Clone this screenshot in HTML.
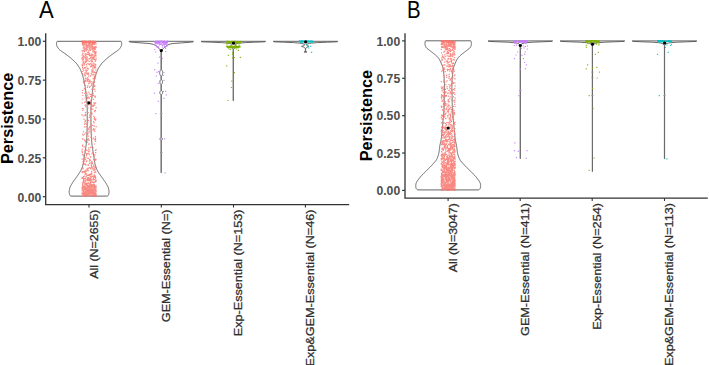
<!DOCTYPE html>
<html><head><meta charset="utf-8"><title>Persistence violin plots</title>
<style>html,body{margin:0;padding:0;background:#fff;}body{width:709px;height:365px;overflow:hidden;font-family:"Liberation Sans",sans-serif;}svg{display:block;}</style>
</head><body>
<svg width="709" height="365" viewBox="0 0 709 365" font-family='"Liberation Sans", sans-serif'>
<text transform="translate(39.00,17.80) scale(0.920,1)" font-size="24" fill="#000">A</text>
<text transform="translate(12.8,118.4) rotate(-90)" text-anchor="middle" font-size="16.3" font-weight="bold" fill="#000">Persistence</text>
<text x="41.30" y="46.10" text-anchor="end" font-size="12.2" font-weight="bold" fill="#4d4d4d">1.00</text>
<line x1="42.8" y1="41.30" x2="45.7" y2="41.30" stroke="#333333" stroke-width="1.2"/>
<text x="41.30" y="84.95" text-anchor="end" font-size="12.2" font-weight="bold" fill="#4d4d4d">0.75</text>
<line x1="42.8" y1="80.15" x2="45.7" y2="80.15" stroke="#333333" stroke-width="1.2"/>
<text x="41.30" y="123.80" text-anchor="end" font-size="12.2" font-weight="bold" fill="#4d4d4d">0.50</text>
<line x1="42.8" y1="119.00" x2="45.7" y2="119.00" stroke="#333333" stroke-width="1.2"/>
<text x="41.30" y="162.65" text-anchor="end" font-size="12.2" font-weight="bold" fill="#4d4d4d">0.25</text>
<line x1="42.8" y1="157.85" x2="45.7" y2="157.85" stroke="#333333" stroke-width="1.2"/>
<text x="41.30" y="201.50" text-anchor="end" font-size="12.2" font-weight="bold" fill="#4d4d4d">0.00</text>
<line x1="42.8" y1="196.70" x2="45.7" y2="196.70" stroke="#333333" stroke-width="1.2"/>
<line x1="89.00" y1="204.6" x2="89.00" y2="207.5" stroke="#333333" stroke-width="1.1"/>
<text transform="translate(97.70,209.50) rotate(-90) scale(1,0.910)" text-anchor="end" font-size="12.397" fill="#2e2e2e" stroke="#2e2e2e" stroke-width="0.3">All (N=2655)</text>
<line x1="161.30" y1="204.6" x2="161.30" y2="207.5" stroke="#333333" stroke-width="1.1"/>
<text transform="translate(169.80,209.50) rotate(-90) scale(1,0.910)" text-anchor="end" font-size="12.65" fill="#2e2e2e" stroke="#2e2e2e" stroke-width="0.3">GEM-Essential (N=)</text>
<line x1="233.50" y1="204.6" x2="233.50" y2="207.5" stroke="#333333" stroke-width="1.1"/>
<text transform="translate(241.90,209.50) rotate(-90) scale(1,0.910)" text-anchor="end" font-size="12.65" fill="#2e2e2e" stroke="#2e2e2e" stroke-width="0.3">Exp-Essential (N=153)</text>
<line x1="305.40" y1="204.6" x2="305.40" y2="207.5" stroke="#333333" stroke-width="1.1"/>
<text transform="translate(314.10,209.50) rotate(-90) scale(1,0.910)" text-anchor="end" font-size="12.65" fill="#2e2e2e" stroke="#2e2e2e" stroke-width="0.3">Exp&amp;GEM-Essential (N=46)</text>
<polygon points="57.30,41.30 57.00,41.65 56.80,42.00 56.67,42.45 56.60,42.90 56.55,43.37 56.51,43.83 56.50,44.30 56.55,44.73 56.66,45.17 56.80,45.60 56.94,45.97 57.11,46.33 57.30,46.70 57.56,47.18 57.85,47.66 58.16,48.14 58.51,48.62 58.90,49.10 59.33,49.54 59.84,49.98 60.41,50.42 61.01,50.86 61.60,51.30 62.20,51.73 62.83,52.17 63.48,52.60 64.14,53.03 64.78,53.47 65.40,53.90 66.06,54.38 66.71,54.87 67.35,55.35 67.98,55.83 68.59,56.32 69.20,56.80 69.79,57.27 70.37,57.74 70.94,58.21 71.50,58.69 72.05,59.16 72.58,59.63 73.10,60.10 73.62,60.59 74.14,61.08 74.65,61.56 75.15,62.05 75.63,62.54 76.08,63.02 76.51,63.51 76.90,64.00 77.25,64.50 77.57,65.00 77.88,65.50 78.20,66.00 78.53,66.45 78.87,66.90 79.21,67.35 79.50,67.80 79.76,68.27 80.00,68.73 80.23,69.20 80.44,69.67 80.65,70.13 80.84,70.60 81.03,71.07 81.22,71.53 81.40,72.00 81.59,72.50 81.78,73.00 81.97,73.50 82.15,74.00 82.32,74.50 82.49,75.00 82.65,75.50 82.81,76.00 82.95,76.50 83.08,76.98 83.21,77.47 83.33,77.95 83.45,78.43 83.57,78.92 83.68,79.40 83.79,79.88 83.90,80.37 84.00,80.85 84.10,81.33 84.20,81.82 84.30,82.30 84.40,82.78 84.50,83.27 84.59,83.75 84.69,84.23 84.78,84.72 84.88,85.20 84.97,85.68 85.05,86.17 85.13,86.65 85.21,87.13 85.28,87.62 85.35,88.10 85.41,88.58 85.47,89.06 85.52,89.54 85.58,90.01 85.63,90.49 85.67,90.97 85.72,91.45 85.77,91.93 85.81,92.41 85.86,92.89 85.90,93.36 85.95,93.84 86.00,94.32 86.05,94.80 86.10,95.27 86.16,95.75 86.21,96.22 86.27,96.70 86.33,97.17 86.38,97.65 86.44,98.12 86.49,98.60 86.55,99.08 86.60,99.55 86.65,100.03 86.70,100.50 86.75,101.00 86.80,101.50 86.85,102.00 86.91,102.50 86.95,103.00 87.00,103.50 87.04,104.00 87.07,104.50 87.10,105.00 87.12,105.50 87.14,106.00 87.17,106.50 87.19,107.00 87.20,107.50 87.22,108.00 87.23,108.50 87.24,109.00 87.25,109.50 87.25,110.00 87.25,110.50 87.25,111.00 87.25,111.50 87.25,112.00 87.25,112.50 87.25,113.00 87.25,113.50 87.25,114.00 87.25,114.50 87.25,115.00 87.25,115.50 87.25,116.00 87.25,116.50 87.25,117.00 87.25,117.50 87.25,118.00 87.25,118.50 87.25,119.00 87.25,119.50 87.25,120.00 87.25,120.50 87.25,121.00 87.24,121.50 87.24,122.00 87.23,122.50 87.23,123.00 87.22,123.50 87.21,124.00 87.20,124.50 87.19,125.00 87.18,125.50 87.17,126.00 87.16,126.50 87.15,127.00 87.13,127.50 87.12,128.00 87.10,128.50 87.09,129.00 87.08,129.50 87.06,130.00 87.05,130.50 87.03,131.00 87.02,131.50 87.00,132.00 86.98,132.48 86.97,132.96 86.95,133.44 86.93,133.92 86.92,134.40 86.90,134.88 86.87,135.36 86.85,135.84 86.83,136.32 86.80,136.80 86.78,137.28 86.75,137.76 86.72,138.24 86.70,138.72 86.67,139.20 86.64,139.68 86.60,140.16 86.57,140.64 86.54,141.12 86.50,141.60 86.46,142.08 86.42,142.56 86.37,143.04 86.31,143.53 86.26,144.01 86.20,144.49 86.13,144.97 86.07,145.45 86.00,145.93 85.93,146.41 85.86,146.89 85.79,147.38 85.71,147.86 85.64,148.34 85.57,148.82 85.50,149.30 85.43,149.78 85.36,150.26 85.28,150.74 85.20,151.21 85.12,151.69 85.04,152.17 84.96,152.65 84.88,153.13 84.80,153.61 84.71,154.09 84.63,154.56 84.55,155.04 84.48,155.52 84.40,156.00 84.32,156.50 84.25,157.00 84.18,157.50 84.12,158.00 84.05,158.50 83.99,159.00 83.92,159.50 83.86,160.00 83.79,160.50 83.72,161.00 83.65,161.50 83.57,162.00 83.49,162.50 83.40,163.00 83.30,163.50 83.20,164.00 83.09,164.48 82.97,164.96 82.83,165.44 82.69,165.92 82.53,166.40 82.37,166.88 82.19,167.35 82.01,167.83 81.82,168.31 81.62,168.79 81.41,169.27 81.20,169.75 80.97,170.22 80.73,170.70 80.46,171.18 80.17,171.65 79.87,172.12 79.57,172.60 79.25,173.07 78.93,173.55 78.61,174.03 78.30,174.50 77.98,174.98 77.65,175.46 77.31,175.94 76.97,176.42 76.62,176.90 76.27,177.38 75.92,177.86 75.57,178.34 75.23,178.82 74.90,179.30 74.57,179.78 74.23,180.27 73.89,180.75 73.56,181.23 73.22,181.72 72.90,182.20 72.59,182.68 72.29,183.17 72.00,183.65 71.72,184.13 71.43,184.62 71.14,185.10 70.85,185.58 70.58,186.07 70.34,186.55 70.12,187.03 69.94,187.52 69.80,188.00 69.69,188.47 69.58,188.95 69.48,189.43 69.39,189.90 69.31,190.38 69.25,190.85 69.21,191.33 69.20,191.80 69.21,192.27 69.25,192.73 69.31,193.20 69.39,193.67 69.49,194.13 69.60,194.60 69.79,195.05 70.10,195.50 70.40,195.80 70.80,196.10 107.40,196.10 107.80,195.80 108.10,195.50 108.41,195.05 108.60,194.60 108.71,194.13 108.81,193.67 108.89,193.20 108.95,192.73 108.99,192.27 109.00,191.80 108.99,191.33 108.95,190.85 108.89,190.38 108.81,189.90 108.72,189.43 108.62,188.95 108.51,188.47 108.40,188.00 108.26,187.52 108.08,187.03 107.86,186.55 107.62,186.07 107.35,185.58 107.06,185.10 106.77,184.62 106.48,184.13 106.20,183.65 105.91,183.17 105.61,182.68 105.30,182.20 104.98,181.72 104.64,181.23 104.31,180.75 103.97,180.27 103.63,179.78 103.30,179.30 102.97,178.82 102.63,178.34 102.28,177.86 101.93,177.38 101.58,176.90 101.23,176.42 100.89,175.94 100.55,175.46 100.22,174.98 99.90,174.50 99.59,174.03 99.27,173.55 98.95,173.07 98.63,172.60 98.33,172.12 98.03,171.65 97.74,171.18 97.47,170.70 97.23,170.22 97.00,169.75 96.79,169.27 96.58,168.79 96.38,168.31 96.19,167.83 96.01,167.35 95.83,166.88 95.67,166.40 95.51,165.92 95.37,165.44 95.23,164.96 95.11,164.48 95.00,164.00 94.90,163.50 94.80,163.00 94.71,162.50 94.63,162.00 94.55,161.50 94.48,161.00 94.41,160.50 94.34,160.00 94.28,159.50 94.21,159.00 94.15,158.50 94.08,158.00 94.02,157.50 93.95,157.00 93.88,156.50 93.80,156.00 93.72,155.52 93.65,155.04 93.57,154.56 93.49,154.09 93.40,153.61 93.32,153.13 93.24,152.65 93.16,152.17 93.08,151.69 93.00,151.21 92.92,150.74 92.84,150.26 92.77,149.78 92.70,149.30 92.63,148.82 92.56,148.34 92.49,147.86 92.41,147.38 92.34,146.89 92.27,146.41 92.20,145.93 92.13,145.45 92.07,144.97 92.00,144.49 91.94,144.01 91.89,143.53 91.83,143.04 91.78,142.56 91.74,142.08 91.70,141.60 91.66,141.12 91.63,140.64 91.60,140.16 91.56,139.68 91.53,139.20 91.50,138.72 91.48,138.24 91.45,137.76 91.42,137.28 91.40,136.80 91.37,136.32 91.35,135.84 91.33,135.36 91.30,134.88 91.28,134.40 91.27,133.92 91.25,133.44 91.23,132.96 91.22,132.48 91.20,132.00 91.18,131.50 91.17,131.00 91.15,130.50 91.14,130.00 91.12,129.50 91.11,129.00 91.10,128.50 91.08,128.00 91.07,127.50 91.05,127.00 91.04,126.50 91.03,126.00 91.02,125.50 91.01,125.00 91.00,124.50 90.99,124.00 90.98,123.50 90.97,123.00 90.97,122.50 90.96,122.00 90.96,121.50 90.95,121.00 90.95,120.50 90.95,120.00 90.95,119.50 90.95,119.00 90.95,118.50 90.95,118.00 90.95,117.50 90.95,117.00 90.95,116.50 90.95,116.00 90.95,115.50 90.95,115.00 90.95,114.50 90.95,114.00 90.95,113.50 90.95,113.00 90.95,112.50 90.95,112.00 90.95,111.50 90.95,111.00 90.95,110.50 90.95,110.00 90.95,109.50 90.96,109.00 90.97,108.50 90.98,108.00 91.00,107.50 91.01,107.00 91.03,106.50 91.06,106.00 91.08,105.50 91.10,105.00 91.13,104.50 91.16,104.00 91.20,103.50 91.25,103.00 91.29,102.50 91.35,102.00 91.40,101.50 91.45,101.00 91.50,100.50 91.55,100.03 91.60,99.55 91.65,99.08 91.71,98.60 91.76,98.12 91.82,97.65 91.87,97.17 91.93,96.70 91.99,96.22 92.04,95.75 92.10,95.27 92.15,94.80 92.20,94.32 92.25,93.84 92.30,93.36 92.34,92.89 92.39,92.41 92.43,91.93 92.48,91.45 92.53,90.97 92.57,90.49 92.62,90.01 92.68,89.54 92.73,89.06 92.79,88.58 92.85,88.10 92.92,87.62 92.99,87.13 93.07,86.65 93.15,86.17 93.23,85.68 93.32,85.20 93.42,84.72 93.51,84.23 93.61,83.75 93.70,83.27 93.80,82.78 93.90,82.30 94.00,81.82 94.10,81.33 94.20,80.85 94.30,80.37 94.41,79.88 94.52,79.40 94.63,78.92 94.75,78.43 94.87,77.95 94.99,77.47 95.12,76.98 95.25,76.50 95.39,76.00 95.55,75.50 95.71,75.00 95.88,74.50 96.05,74.00 96.23,73.50 96.42,73.00 96.61,72.50 96.80,72.00 96.98,71.53 97.17,71.07 97.36,70.60 97.55,70.13 97.76,69.67 97.97,69.20 98.20,68.73 98.44,68.27 98.70,67.80 98.99,67.35 99.33,66.90 99.67,66.45 100.00,66.00 100.32,65.50 100.63,65.00 100.95,64.50 101.30,64.00 101.69,63.51 102.12,63.02 102.57,62.54 103.05,62.05 103.55,61.56 104.06,61.08 104.58,60.59 105.10,60.10 105.62,59.63 106.15,59.16 106.70,58.69 107.26,58.21 107.83,57.74 108.41,57.27 109.00,56.80 109.61,56.32 110.22,55.83 110.85,55.35 111.49,54.87 112.14,54.38 112.80,53.90 113.42,53.47 114.06,53.03 114.72,52.60 115.37,52.17 116.00,51.73 116.60,51.30 117.19,50.86 117.79,50.42 118.36,49.98 118.87,49.54 119.30,49.10 119.69,48.62 120.04,48.14 120.35,47.66 120.64,47.18 120.90,46.70 121.09,46.33 121.26,45.97 121.40,45.60 121.54,45.17 121.65,44.73 121.70,44.30 121.69,43.83 121.65,43.37 121.60,42.90 121.53,42.45 121.40,42.00 121.20,41.65 120.90,41.30" fill="none" stroke="#555555" stroke-width="0.90" stroke-linejoin="round"/>
<polygon points="129.00,41.30 129.10,41.60 129.40,41.90 134.20,42.40 141.00,42.90 147.70,43.40 150.26,43.70 152.00,44.00 153.56,44.50 154.60,45.00 155.25,45.40 155.78,45.80 156.30,46.20 156.89,46.63 157.46,47.07 158.00,47.50 158.60,48.00 159.16,48.50 159.60,49.00 159.91,49.50 160.17,50.00 160.40,50.50 160.62,50.92 160.85,51.35 161.03,51.78 161.10,52.20 161.10,52.69 161.10,53.18 161.10,53.67 161.10,54.17 161.10,54.66 161.10,55.15 161.10,55.64 161.10,56.13 161.10,56.62 161.10,57.11 161.10,57.61 161.10,58.10 161.10,58.59 161.10,59.08 161.10,59.57 161.10,60.06 161.10,60.55 161.10,61.05 161.10,61.54 161.10,62.03 161.10,62.52 161.10,63.01 161.10,63.50 161.10,63.99 161.10,64.49 161.10,64.98 161.10,65.47 161.10,65.96 161.10,66.45 161.10,66.94 161.10,67.43 161.10,67.93 161.10,68.42 161.10,68.91 161.10,69.40 160.95,69.80 160.60,70.20 160.23,70.60 160.00,71.00 159.88,71.45 159.79,71.90 159.72,72.35 159.70,72.80 159.72,73.30 159.79,73.80 159.88,74.30 160.00,74.80 160.23,75.22 160.60,75.65 160.95,76.08 161.10,76.50 161.10,76.95 161.10,77.40 161.10,77.85 161.10,78.30 161.10,78.75 161.10,79.20 160.86,79.63 160.40,80.07 160.10,80.50 160.00,81.00 159.93,81.50 159.90,82.00 159.94,82.50 160.05,83.00 160.20,83.50 160.49,83.90 160.90,84.30 161.10,84.70 161.10,85.20 161.10,85.70 161.10,86.20 161.10,86.70 161.10,87.20 161.10,87.70 161.10,88.20 161.10,88.70 161.10,89.20 161.10,89.70 161.10,90.20 160.88,90.63 160.44,91.07 160.10,91.50 159.96,91.87 159.85,92.23 159.80,92.60 159.84,93.00 159.96,93.40 160.10,93.80 160.43,94.23 160.88,94.67 161.10,95.10 161.10,95.59 161.10,96.08 161.10,96.57 161.10,97.07 161.10,97.56 161.10,98.05 161.10,98.54 161.10,99.03 161.10,99.52 161.10,100.02 161.10,100.51 161.10,101.00 161.10,101.49 161.10,101.98 161.10,102.47 161.10,102.97 161.10,103.46 161.10,103.95 161.10,104.44 161.10,104.93 161.10,105.42 161.10,105.92 161.10,106.41 161.10,106.90 161.10,107.39 161.10,107.88 161.10,108.38 161.10,108.87 161.10,109.36 161.10,109.85 161.10,110.34 161.10,110.83 161.10,111.32 161.10,111.82 161.10,112.31 161.10,112.80 160.80,113.25 160.50,113.70 160.80,114.15 161.10,114.60 161.10,115.09 161.10,115.58 161.10,116.07 161.10,116.57 161.10,117.06 161.10,117.55 161.10,118.04 161.10,118.53 161.10,119.02 161.10,119.51 161.10,120.00 161.10,120.50 161.10,120.99 161.10,121.48 161.10,121.97 161.10,122.46 161.10,122.95 161.10,123.44 161.10,123.93 161.10,124.43 161.10,124.92 161.10,125.41 161.10,125.90 161.10,126.39 161.10,126.88 161.10,127.37 161.10,127.87 161.10,128.36 161.10,128.85 161.10,129.34 161.10,129.83 161.10,130.32 161.10,130.81 161.10,131.30 161.10,131.80 161.10,132.29 161.10,132.78 161.10,133.27 161.10,133.76 161.10,134.25 161.10,134.74 161.10,135.23 161.10,135.73 161.10,136.22 161.10,136.71 161.10,137.20 160.86,137.60 160.39,138.00 160.10,138.40 160.03,138.90 160.00,139.40 160.29,139.77 160.81,140.13 161.10,140.50 161.10,140.98 161.10,141.47 161.10,141.95 161.10,142.43 161.10,142.91 161.10,143.40 161.10,143.88 161.10,144.36 161.10,144.84 161.10,145.33 161.10,145.81 161.10,146.29 161.10,146.77 161.10,147.26 161.10,147.74 161.10,148.22 161.10,148.70 161.10,149.19 161.10,149.67 161.10,150.15 161.10,150.63 161.10,151.12 161.10,151.60 160.80,152.05 160.50,152.50 160.80,152.95 161.10,153.40 161.10,153.90 161.10,154.39 161.10,154.89 161.10,155.39 161.10,155.89 161.10,156.38 161.10,156.88 161.10,157.38 161.10,157.88 161.10,158.37 161.10,158.87 161.10,159.37 161.10,159.87 161.10,160.36 161.10,160.86 161.10,161.36 161.10,161.86 161.10,162.35 161.10,162.85 161.10,163.35 161.10,163.85 161.10,164.34 161.10,164.84 161.10,165.34 161.10,165.84 161.10,166.33 161.10,166.83 161.10,167.33 161.10,167.83 161.10,168.32 161.10,168.82 161.10,169.32 161.10,169.82 161.10,170.31 161.10,170.81 161.10,171.31 161.10,171.81 161.10,172.30 161.10,172.80 161.30,172.80 161.30,172.30 161.30,171.81 161.30,171.31 161.30,170.81 161.30,170.31 161.30,169.82 161.30,169.32 161.30,168.82 161.30,168.32 161.30,167.83 161.30,167.33 161.30,166.83 161.30,166.33 161.30,165.84 161.30,165.34 161.30,164.84 161.30,164.34 161.30,163.85 161.30,163.35 161.30,162.85 161.30,162.35 161.30,161.86 161.30,161.36 161.30,160.86 161.30,160.36 161.30,159.87 161.30,159.37 161.30,158.87 161.30,158.37 161.30,157.88 161.30,157.38 161.30,156.88 161.30,156.38 161.30,155.89 161.30,155.39 161.30,154.89 161.30,154.39 161.30,153.90 161.30,153.40 161.60,152.95 161.90,152.50 161.60,152.05 161.30,151.60 161.30,151.12 161.30,150.63 161.30,150.15 161.30,149.67 161.30,149.19 161.30,148.70 161.30,148.22 161.30,147.74 161.30,147.26 161.30,146.77 161.30,146.29 161.30,145.81 161.30,145.33 161.30,144.84 161.30,144.36 161.30,143.88 161.30,143.40 161.30,142.91 161.30,142.43 161.30,141.95 161.30,141.47 161.30,140.98 161.30,140.50 161.59,140.13 162.11,139.77 162.40,139.40 162.37,138.90 162.30,138.40 162.01,138.00 161.54,137.60 161.30,137.20 161.30,136.71 161.30,136.22 161.30,135.73 161.30,135.23 161.30,134.74 161.30,134.25 161.30,133.76 161.30,133.27 161.30,132.78 161.30,132.29 161.30,131.80 161.30,131.30 161.30,130.81 161.30,130.32 161.30,129.83 161.30,129.34 161.30,128.85 161.30,128.36 161.30,127.87 161.30,127.37 161.30,126.88 161.30,126.39 161.30,125.90 161.30,125.41 161.30,124.92 161.30,124.43 161.30,123.93 161.30,123.44 161.30,122.95 161.30,122.46 161.30,121.97 161.30,121.48 161.30,120.99 161.30,120.50 161.30,120.00 161.30,119.51 161.30,119.02 161.30,118.53 161.30,118.04 161.30,117.55 161.30,117.06 161.30,116.57 161.30,116.07 161.30,115.58 161.30,115.09 161.30,114.60 161.60,114.15 161.90,113.70 161.60,113.25 161.30,112.80 161.30,112.31 161.30,111.82 161.30,111.32 161.30,110.83 161.30,110.34 161.30,109.85 161.30,109.36 161.30,108.87 161.30,108.38 161.30,107.88 161.30,107.39 161.30,106.90 161.30,106.41 161.30,105.92 161.30,105.42 161.30,104.93 161.30,104.44 161.30,103.95 161.30,103.46 161.30,102.97 161.30,102.47 161.30,101.98 161.30,101.49 161.30,101.00 161.30,100.51 161.30,100.02 161.30,99.52 161.30,99.03 161.30,98.54 161.30,98.05 161.30,97.56 161.30,97.07 161.30,96.57 161.30,96.08 161.30,95.59 161.30,95.10 161.52,94.67 161.97,94.23 162.30,93.80 162.44,93.40 162.56,93.00 162.60,92.60 162.55,92.23 162.44,91.87 162.30,91.50 161.96,91.07 161.52,90.63 161.30,90.20 161.30,89.70 161.30,89.20 161.30,88.70 161.30,88.20 161.30,87.70 161.30,87.20 161.30,86.70 161.30,86.20 161.30,85.70 161.30,85.20 161.30,84.70 161.50,84.30 161.91,83.90 162.20,83.50 162.35,83.00 162.46,82.50 162.50,82.00 162.47,81.50 162.40,81.00 162.30,80.50 162.00,80.07 161.54,79.63 161.30,79.20 161.30,78.75 161.30,78.30 161.30,77.85 161.30,77.40 161.30,76.95 161.30,76.50 161.45,76.08 161.80,75.65 162.17,75.22 162.40,74.80 162.52,74.30 162.61,73.80 162.68,73.30 162.70,72.80 162.68,72.35 162.61,71.90 162.52,71.45 162.40,71.00 162.17,70.60 161.80,70.20 161.45,69.80 161.30,69.40 161.30,68.91 161.30,68.42 161.30,67.93 161.30,67.43 161.30,66.94 161.30,66.45 161.30,65.96 161.30,65.47 161.30,64.98 161.30,64.49 161.30,63.99 161.30,63.50 161.30,63.01 161.30,62.52 161.30,62.03 161.30,61.54 161.30,61.05 161.30,60.55 161.30,60.06 161.30,59.57 161.30,59.08 161.30,58.59 161.30,58.10 161.30,57.61 161.30,57.11 161.30,56.62 161.30,56.13 161.30,55.64 161.30,55.15 161.30,54.66 161.30,54.17 161.30,53.67 161.30,53.18 161.30,52.69 161.30,52.20 161.37,51.78 161.55,51.35 161.78,50.92 162.00,50.50 162.23,50.00 162.49,49.50 162.80,49.00 163.24,48.50 163.80,48.00 164.40,47.50 164.94,47.07 165.51,46.63 166.10,46.20 166.62,45.80 167.15,45.40 167.80,45.00 168.84,44.50 170.40,44.00 172.14,43.70 174.70,43.40 181.40,42.90 188.20,42.40 193.00,41.90 193.30,41.60 193.40,41.30" fill="none" stroke="#555555" stroke-width="0.90" stroke-linejoin="round"/>
<polygon points="201.00,41.30 201.70,41.80 211.30,42.20 221.30,42.60 227.30,43.10 229.50,43.45 230.70,43.80 231.13,44.20 231.30,44.60 231.23,45.00 231.10,45.40 230.86,45.90 230.70,46.40 230.82,46.90 231.10,47.40 231.77,47.90 232.50,48.40 232.83,48.80 233.09,49.20 233.20,49.60 233.20,50.10 233.20,50.59 233.20,51.09 233.20,51.58 233.20,52.08 233.20,52.58 233.20,53.07 233.20,53.57 233.20,54.07 233.20,54.56 233.20,55.06 233.20,55.55 233.20,56.05 233.20,56.55 233.20,57.04 233.20,57.54 233.20,58.03 233.20,58.53 233.20,59.03 233.20,59.52 233.20,60.02 233.20,60.51 233.20,61.01 233.20,61.51 233.20,62.00 233.20,62.50 233.20,63.00 233.20,63.49 233.20,63.99 233.20,64.48 233.20,64.98 233.20,65.48 233.20,65.97 233.20,66.47 233.20,66.96 233.20,67.46 233.20,67.96 233.20,68.45 233.20,68.95 233.20,69.44 233.20,69.94 233.20,70.44 233.20,70.93 233.20,71.43 233.20,71.93 233.20,72.42 233.20,72.92 233.20,73.41 233.20,73.91 233.20,74.41 233.20,74.90 233.20,75.40 233.20,75.89 233.20,76.39 233.20,76.89 233.20,77.38 233.20,77.88 233.20,78.37 233.20,78.87 233.20,79.37 233.20,79.86 233.20,80.36 233.20,80.86 233.20,81.35 233.20,81.85 233.20,82.34 233.20,82.84 233.20,83.34 233.20,83.83 233.20,84.33 233.20,84.82 233.20,85.32 233.20,85.82 233.20,86.31 233.20,86.81 233.20,87.30 233.20,87.80 233.20,88.30 233.20,88.79 233.20,89.29 233.20,89.79 233.20,90.28 233.20,90.78 233.20,91.27 233.20,91.77 233.20,92.27 233.20,92.76 233.20,93.26 233.20,93.75 233.20,94.25 233.20,94.75 233.20,95.24 233.20,95.74 233.20,96.23 233.20,96.73 233.20,97.23 233.20,97.72 233.20,98.22 233.20,98.72 233.20,99.21 233.20,99.71 233.20,100.20 233.20,100.70 233.40,100.70 233.40,100.20 233.40,99.71 233.40,99.21 233.40,98.72 233.40,98.22 233.40,97.72 233.40,97.23 233.40,96.73 233.40,96.23 233.40,95.74 233.40,95.24 233.40,94.75 233.40,94.25 233.40,93.75 233.40,93.26 233.40,92.76 233.40,92.27 233.40,91.77 233.40,91.27 233.40,90.78 233.40,90.28 233.40,89.79 233.40,89.29 233.40,88.79 233.40,88.30 233.40,87.80 233.40,87.30 233.40,86.81 233.40,86.31 233.40,85.82 233.40,85.32 233.40,84.82 233.40,84.33 233.40,83.83 233.40,83.34 233.40,82.84 233.40,82.34 233.40,81.85 233.40,81.35 233.40,80.86 233.40,80.36 233.40,79.86 233.40,79.37 233.40,78.87 233.40,78.37 233.40,77.88 233.40,77.38 233.40,76.89 233.40,76.39 233.40,75.89 233.40,75.40 233.40,74.90 233.40,74.41 233.40,73.91 233.40,73.41 233.40,72.92 233.40,72.42 233.40,71.93 233.40,71.43 233.40,70.93 233.40,70.44 233.40,69.94 233.40,69.44 233.40,68.95 233.40,68.45 233.40,67.96 233.40,67.46 233.40,66.96 233.40,66.47 233.40,65.97 233.40,65.48 233.40,64.98 233.40,64.48 233.40,63.99 233.40,63.49 233.40,63.00 233.40,62.50 233.40,62.00 233.40,61.51 233.40,61.01 233.40,60.51 233.40,60.02 233.40,59.52 233.40,59.03 233.40,58.53 233.40,58.03 233.40,57.54 233.40,57.04 233.40,56.55 233.40,56.05 233.40,55.55 233.40,55.06 233.40,54.56 233.40,54.07 233.40,53.57 233.40,53.07 233.40,52.58 233.40,52.08 233.40,51.58 233.40,51.09 233.40,50.59 233.40,50.10 233.40,49.60 233.51,49.20 233.77,48.80 234.10,48.40 234.83,47.90 235.50,47.40 235.78,46.90 235.90,46.40 235.74,45.90 235.50,45.40 235.37,45.00 235.30,44.60 235.47,44.20 235.90,43.80 237.10,43.45 239.30,43.10 245.30,42.60 255.30,42.20 264.90,41.80 265.60,41.30" fill="none" stroke="#555555" stroke-width="0.90" stroke-linejoin="round"/>
<polygon points="273.20,41.30 273.90,41.80 283.50,42.20 293.50,42.60 299.50,43.10 301.56,43.45 303.00,43.80 304.50,44.30 304.48,44.67 304.41,45.03 304.30,45.40 303.63,45.70 302.70,46.00 302.00,46.40 302.70,46.80 303.55,47.10 304.30,47.40 304.89,47.90 305.20,48.40 305.30,48.77 305.37,49.13 305.40,49.50 305.40,49.98 305.40,50.45 305.40,50.92 305.40,51.40 304.30,51.80 304.00,52.10 307.00,52.10 306.70,51.80 305.60,51.40 305.60,50.92 305.60,50.45 305.60,49.98 305.60,49.50 305.63,49.13 305.70,48.77 305.80,48.40 306.11,47.90 306.70,47.40 307.45,47.10 308.30,46.80 309.00,46.40 308.30,46.00 307.37,45.70 306.70,45.40 306.59,45.03 306.52,44.67 306.50,44.30 308.00,43.80 309.44,43.45 311.50,43.10 317.50,42.60 327.50,42.20 337.10,41.80 337.80,41.30" fill="none" stroke="#555555" stroke-width="0.90" stroke-linejoin="round"/>
<path fill="#F8766D" fill-opacity="1.00" d="M92.9 41.3h1.2v1.2h-1.2zM83.3 40.7h1.2v1.2h-1.2zM87.3 40.8h1.2v1.2h-1.2zM93.0 41.4h1.2v1.2h-1.2zM81.6 40.5h1.2v1.2h-1.2zM90.3 41.3h1.2v1.2h-1.2zM92.7 41.3h1.2v1.2h-1.2zM88.7 41.0h1.2v1.2h-1.2zM91.7 40.8h1.2v1.2h-1.2zM84.6 40.8h1.2v1.2h-1.2zM84.2 40.8h1.2v1.2h-1.2zM86.6 40.9h1.2v1.2h-1.2zM83.9 41.0h1.2v1.2h-1.2zM86.3 41.1h1.2v1.2h-1.2zM94.9 41.5h1.2v1.2h-1.2zM89.5 41.3h1.2v1.2h-1.2zM86.2 41.1h1.2v1.2h-1.2zM85.3 41.5h1.2v1.2h-1.2zM94.9 40.7h1.2v1.2h-1.2zM87.7 40.7h1.2v1.2h-1.2zM95.3 41.1h1.2v1.2h-1.2zM88.7 40.5h1.2v1.2h-1.2zM88.8 40.5h1.2v1.2h-1.2zM94.1 41.0h1.2v1.2h-1.2zM91.9 41.0h1.2v1.2h-1.2zM89.6 41.4h1.2v1.2h-1.2zM87.5 41.1h1.2v1.2h-1.2zM93.9 41.0h1.2v1.2h-1.2zM87.2 41.0h1.2v1.2h-1.2zM94.5 40.7h1.2v1.2h-1.2zM82.4 40.5h1.2v1.2h-1.2zM87.5 40.7h1.2v1.2h-1.2zM88.8 41.2h1.2v1.2h-1.2zM94.9 40.7h1.2v1.2h-1.2zM85.0 40.9h1.2v1.2h-1.2zM92.8 40.5h1.2v1.2h-1.2zM91.0 41.3h1.2v1.2h-1.2zM91.6 40.7h1.2v1.2h-1.2zM90.3 40.8h1.2v1.2h-1.2zM95.2 41.4h1.2v1.2h-1.2zM86.1 41.0h1.2v1.2h-1.2zM87.1 41.3h1.2v1.2h-1.2zM84.3 41.1h1.2v1.2h-1.2zM82.1 41.2h1.2v1.2h-1.2zM84.4 40.6h1.2v1.2h-1.2zM94.4 41.0h1.2v1.2h-1.2zM93.3 41.0h1.2v1.2h-1.2zM83.0 41.4h1.2v1.2h-1.2zM90.0 40.9h1.2v1.2h-1.2zM88.2 41.1h1.2v1.2h-1.2zM89.8 40.6h1.2v1.2h-1.2zM90.8 40.9h1.2v1.2h-1.2zM85.8 40.8h1.2v1.2h-1.2zM95.1 42.1h1.2v1.2h-1.2zM88.0 42.2h1.2v1.2h-1.2zM90.3 41.7h1.2v1.2h-1.2zM90.4 41.9h1.2v1.2h-1.2zM84.0 41.7h1.2v1.2h-1.2zM82.3 41.9h1.2v1.2h-1.2zM87.2 41.6h1.2v1.2h-1.2zM92.2 42.5h1.2v1.2h-1.2zM93.0 41.7h1.2v1.2h-1.2zM91.8 42.2h1.2v1.2h-1.2zM83.0 41.8h1.2v1.2h-1.2zM94.4 42.4h1.2v1.2h-1.2zM92.8 42.2h1.2v1.2h-1.2zM93.9 41.6h1.2v1.2h-1.2zM88.8 42.3h1.2v1.2h-1.2zM94.4 42.4h1.2v1.2h-1.2zM82.1 42.4h1.2v1.2h-1.2zM81.8 42.1h1.2v1.2h-1.2zM81.7 41.6h1.2v1.2h-1.2zM85.0 41.7h1.2v1.2h-1.2zM84.9 42.4h1.2v1.2h-1.2zM84.1 42.1h1.2v1.2h-1.2zM89.5 41.7h1.2v1.2h-1.2zM82.0 42.4h1.2v1.2h-1.2zM89.8 42.1h1.2v1.2h-1.2zM83.8 42.1h1.2v1.2h-1.2zM91.0 41.9h1.2v1.2h-1.2zM81.7 41.9h1.2v1.2h-1.2zM85.8 41.7h1.2v1.2h-1.2zM94.7 41.5h1.2v1.2h-1.2zM89.0 42.4h1.2v1.2h-1.2zM92.9 42.0h1.2v1.2h-1.2zM90.7 42.0h1.2v1.2h-1.2zM90.1 41.8h1.2v1.2h-1.2zM84.1 42.3h1.2v1.2h-1.2zM89.6 41.5h1.2v1.2h-1.2zM82.0 41.9h1.2v1.2h-1.2zM92.8 41.5h1.2v1.2h-1.2zM95.0 41.6h1.2v1.2h-1.2zM93.5 42.5h1.2v1.2h-1.2zM82.1 42.2h1.2v1.2h-1.2zM86.2 41.9h1.2v1.2h-1.2zM85.9 42.0h1.2v1.2h-1.2zM83.0 42.4h1.2v1.2h-1.2zM90.3 41.8h1.2v1.2h-1.2zM92.7 42.1h1.2v1.2h-1.2zM85.9 42.2h1.2v1.2h-1.2zM93.7 41.9h1.2v1.2h-1.2zM92.7 42.0h1.2v1.2h-1.2zM83.2 42.3h1.2v1.2h-1.2zM92.3 42.4h1.2v1.2h-1.2zM93.9 41.7h1.2v1.2h-1.2zM84.2 42.6h1.2v1.2h-1.2z"/>
<path fill="#F8766D" fill-opacity="0.85" d="M82.1 43.3h1.2v1.2h-1.2zM92.0 42.8h1.2v1.2h-1.2zM91.2 43.4h1.2v1.2h-1.2zM83.2 43.3h1.2v1.2h-1.2zM88.9 43.5h1.2v1.2h-1.2zM91.2 43.5h1.2v1.2h-1.2zM86.2 43.0h1.2v1.2h-1.2zM88.6 43.4h1.2v1.2h-1.2zM95.3 43.6h1.2v1.2h-1.2zM90.4 43.6h1.2v1.2h-1.2zM88.5 42.9h1.2v1.2h-1.2zM82.3 42.7h1.2v1.2h-1.2zM83.1 43.4h1.2v1.2h-1.2zM93.5 42.9h1.2v1.2h-1.2zM91.9 43.3h1.2v1.2h-1.2zM93.3 43.6h1.2v1.2h-1.2zM89.6 43.1h1.2v1.2h-1.2zM89.6 43.0h1.2v1.2h-1.2zM88.9 43.2h1.2v1.2h-1.2zM91.8 44.1h1.2v1.2h-1.2zM86.1 43.8h1.2v1.2h-1.2zM88.5 44.4h1.2v1.2h-1.2zM88.1 44.5h1.2v1.2h-1.2zM90.8 44.1h1.2v1.2h-1.2zM84.5 44.1h1.2v1.2h-1.2zM81.8 44.2h1.2v1.2h-1.2zM82.7 43.9h1.2v1.2h-1.2zM83.9 43.9h1.2v1.2h-1.2zM93.6 44.0h1.2v1.2h-1.2zM91.6 44.2h1.2v1.2h-1.2zM92.0 43.8h1.2v1.2h-1.2zM87.7 44.5h1.2v1.2h-1.2zM82.9 44.3h1.2v1.2h-1.2zM88.0 44.0h1.2v1.2h-1.2zM93.7 43.8h1.2v1.2h-1.2zM88.6 44.5h1.2v1.2h-1.2zM90.4 43.8h1.2v1.2h-1.2zM86.7 44.8h1.2v1.2h-1.2zM83.5 45.6h1.2v1.2h-1.2zM90.3 45.0h1.2v1.2h-1.2zM88.3 45.0h1.2v1.2h-1.2zM86.3 45.5h1.2v1.2h-1.2zM85.1 45.3h1.2v1.2h-1.2zM91.3 44.9h1.2v1.2h-1.2zM85.9 45.1h1.2v1.2h-1.2zM89.6 45.6h1.2v1.2h-1.2zM85.1 45.1h1.2v1.2h-1.2zM92.1 46.4h1.2v1.2h-1.2zM86.7 46.5h1.2v1.2h-1.2zM88.2 46.5h1.2v1.2h-1.2zM94.6 46.4h1.2v1.2h-1.2zM91.6 46.1h1.2v1.2h-1.2zM91.9 45.8h1.2v1.2h-1.2zM86.2 46.2h1.2v1.2h-1.2zM93.3 46.5h1.2v1.2h-1.2zM86.9 45.9h1.2v1.2h-1.2zM95.4 46.0h1.2v1.2h-1.2zM94.1 46.2h1.2v1.2h-1.2zM90.8 46.4h1.2v1.2h-1.2zM93.2 46.6h1.2v1.2h-1.2zM89.1 45.8h1.2v1.2h-1.2zM91.8 45.9h1.2v1.2h-1.2zM83.2 46.5h1.2v1.2h-1.2zM95.4 46.3h1.2v1.2h-1.2zM92.8 47.3h1.2v1.2h-1.2zM83.4 46.9h1.2v1.2h-1.2zM84.8 47.5h1.2v1.2h-1.2zM89.6 47.5h1.2v1.2h-1.2zM92.2 47.4h1.2v1.2h-1.2zM83.5 47.1h1.2v1.2h-1.2zM95.0 47.1h1.2v1.2h-1.2zM86.3 47.1h1.2v1.2h-1.2zM95.5 46.7h1.2v1.2h-1.2zM92.1 47.5h1.2v1.2h-1.2zM88.3 47.2h1.2v1.2h-1.2zM86.6 47.1h1.2v1.2h-1.2zM82.8 47.2h1.2v1.2h-1.2zM82.6 47.4h1.2v1.2h-1.2zM90.3 47.1h1.2v1.2h-1.2zM92.4 47.5h1.2v1.2h-1.2zM94.3 47.6h1.2v1.2h-1.2zM86.6 48.5h1.2v1.2h-1.2zM94.7 48.7h1.2v1.2h-1.2zM85.6 47.8h1.2v1.2h-1.2zM94.7 48.4h1.2v1.2h-1.2zM94.4 48.5h1.2v1.2h-1.2zM83.6 48.6h1.2v1.2h-1.2zM93.6 47.8h1.2v1.2h-1.2zM91.4 47.8h1.2v1.2h-1.2zM91.4 48.7h1.2v1.2h-1.2zM93.3 47.8h1.2v1.2h-1.2zM89.0 47.9h1.2v1.2h-1.2zM88.6 49.5h1.2v1.2h-1.2zM86.6 48.9h1.2v1.2h-1.2zM93.7 49.6h1.2v1.2h-1.2zM94.2 48.9h1.2v1.2h-1.2zM83.7 49.5h1.2v1.2h-1.2zM92.4 48.8h1.2v1.2h-1.2zM85.3 49.2h1.2v1.2h-1.2zM84.0 48.7h1.2v1.2h-1.2zM84.2 49.0h1.2v1.2h-1.2zM89.5 49.0h1.2v1.2h-1.2zM85.4 49.4h1.2v1.2h-1.2zM84.8 49.2h1.2v1.2h-1.2zM82.8 49.9h1.2v1.2h-1.2zM86.0 49.8h1.2v1.2h-1.2zM92.4 49.7h1.2v1.2h-1.2zM81.7 50.2h1.2v1.2h-1.2zM88.3 49.8h1.2v1.2h-1.2zM90.0 49.9h1.2v1.2h-1.2zM82.1 50.6h1.2v1.2h-1.2zM85.6 50.2h1.2v1.2h-1.2zM94.3 51.0h1.2v1.2h-1.2zM95.5 51.2h1.2v1.2h-1.2zM93.5 51.0h1.2v1.2h-1.2zM83.8 51.2h1.2v1.2h-1.2zM92.3 51.3h1.2v1.2h-1.2zM87.8 51.2h1.2v1.2h-1.2zM83.8 51.1h1.2v1.2h-1.2zM88.2 51.8h1.2v1.2h-1.2zM94.5 52.7h1.2v1.2h-1.2zM93.9 52.6h1.2v1.2h-1.2zM87.0 51.9h1.2v1.2h-1.2zM82.3 52.7h1.2v1.2h-1.2zM94.2 51.9h1.2v1.2h-1.2zM95.4 52.2h1.2v1.2h-1.2zM88.7 52.9h1.2v1.2h-1.2zM84.6 53.2h1.2v1.2h-1.2zM89.1 53.6h1.2v1.2h-1.2zM91.3 53.5h1.2v1.2h-1.2zM88.2 53.5h1.2v1.2h-1.2zM86.4 53.5h1.2v1.2h-1.2zM84.9 53.4h1.2v1.2h-1.2zM85.6 53.5h1.2v1.2h-1.2zM82.1 53.4h1.2v1.2h-1.2zM85.0 53.4h1.2v1.2h-1.2zM94.9 53.0h1.2v1.2h-1.2zM81.5 54.6h1.2v1.2h-1.2zM91.7 53.9h1.2v1.2h-1.2zM92.6 54.2h1.2v1.2h-1.2zM87.1 53.8h1.2v1.2h-1.2zM89.9 54.7h1.2v1.2h-1.2zM84.5 54.3h1.2v1.2h-1.2zM90.9 54.5h1.2v1.2h-1.2zM91.5 54.0h1.2v1.2h-1.2zM91.8 54.5h1.2v1.2h-1.2zM88.4 54.4h1.2v1.2h-1.2zM95.2 54.3h1.2v1.2h-1.2zM93.7 55.7h1.2v1.2h-1.2zM89.5 55.2h1.2v1.2h-1.2zM91.1 55.1h1.2v1.2h-1.2zM85.3 55.4h1.2v1.2h-1.2zM94.8 55.2h1.2v1.2h-1.2zM90.6 55.4h1.2v1.2h-1.2zM94.1 54.8h1.2v1.2h-1.2zM85.5 55.3h1.2v1.2h-1.2zM95.3 55.3h1.2v1.2h-1.2zM82.9 55.6h1.2v1.2h-1.2zM88.9 54.7h1.2v1.2h-1.2zM83.0 55.2h1.2v1.2h-1.2zM84.1 56.5h1.2v1.2h-1.2zM92.3 56.4h1.2v1.2h-1.2zM82.3 56.3h1.2v1.2h-1.2zM86.8 56.5h1.2v1.2h-1.2zM84.1 56.2h1.2v1.2h-1.2zM93.5 56.3h1.2v1.2h-1.2zM82.6 56.5h1.2v1.2h-1.2zM86.2 56.4h1.2v1.2h-1.2zM93.6 57.4h1.2v1.2h-1.2zM91.2 56.7h1.2v1.2h-1.2zM91.4 57.1h1.2v1.2h-1.2zM95.5 57.6h1.2v1.2h-1.2zM81.7 57.3h1.2v1.2h-1.2zM90.8 57.3h1.2v1.2h-1.2zM92.0 57.4h1.2v1.2h-1.2zM92.0 57.4h1.2v1.2h-1.2zM91.5 57.3h1.2v1.2h-1.2zM82.4 57.1h1.2v1.2h-1.2zM82.6 56.9h1.2v1.2h-1.2zM92.4 57.0h1.2v1.2h-1.2zM90.1 57.0h1.2v1.2h-1.2zM85.1 57.1h1.2v1.2h-1.2zM81.5 58.6h1.2v1.2h-1.2zM89.0 58.0h1.2v1.2h-1.2zM82.7 58.2h1.2v1.2h-1.2zM92.0 57.9h1.2v1.2h-1.2zM86.2 58.1h1.2v1.2h-1.2zM92.9 58.5h1.2v1.2h-1.2zM82.8 58.5h1.2v1.2h-1.2zM88.4 58.2h1.2v1.2h-1.2zM82.8 58.5h1.2v1.2h-1.2zM92.5 58.2h1.2v1.2h-1.2zM89.4 58.1h1.2v1.2h-1.2zM84.7 58.2h1.2v1.2h-1.2zM95.1 59.4h1.2v1.2h-1.2zM91.1 58.9h1.2v1.2h-1.2zM86.2 59.3h1.2v1.2h-1.2zM93.5 59.1h1.2v1.2h-1.2zM86.8 59.3h1.2v1.2h-1.2zM94.8 59.0h1.2v1.2h-1.2zM85.6 59.2h1.2v1.2h-1.2zM95.4 59.2h1.2v1.2h-1.2zM82.3 60.1h1.2v1.2h-1.2zM91.8 60.5h1.2v1.2h-1.2zM85.5 60.4h1.2v1.2h-1.2zM87.4 59.9h1.2v1.2h-1.2zM90.4 59.8h1.2v1.2h-1.2zM82.1 60.0h1.2v1.2h-1.2zM84.6 61.1h1.2v1.2h-1.2zM82.9 61.3h1.2v1.2h-1.2zM91.9 60.8h1.2v1.2h-1.2zM84.5 60.8h1.2v1.2h-1.2zM88.5 60.9h1.2v1.2h-1.2zM86.1 61.0h1.2v1.2h-1.2zM84.8 61.7h1.2v1.2h-1.2zM94.7 60.7h1.2v1.2h-1.2zM88.6 60.9h1.2v1.2h-1.2zM90.6 60.9h1.2v1.2h-1.2zM91.4 61.2h1.2v1.2h-1.2zM93.1 62.5h1.2v1.2h-1.2zM85.1 61.9h1.2v1.2h-1.2zM82.5 62.3h1.2v1.2h-1.2zM88.0 63.5h1.2v1.2h-1.2zM83.8 62.9h1.2v1.2h-1.2zM81.7 63.7h1.2v1.2h-1.2zM94.5 63.6h1.2v1.2h-1.2zM90.3 62.8h1.2v1.2h-1.2zM87.3 63.0h1.2v1.2h-1.2zM83.3 62.7h1.2v1.2h-1.2zM92.2 63.5h1.2v1.2h-1.2zM89.0 63.6h1.2v1.2h-1.2zM83.9 64.4h1.2v1.2h-1.2zM95.3 64.4h1.2v1.2h-1.2zM94.9 64.1h1.2v1.2h-1.2zM94.6 64.6h1.2v1.2h-1.2zM93.1 64.5h1.2v1.2h-1.2zM88.9 64.0h1.2v1.2h-1.2zM85.7 63.8h1.2v1.2h-1.2zM90.7 63.8h1.2v1.2h-1.2zM83.5 63.9h1.2v1.2h-1.2zM90.2 65.5h1.2v1.2h-1.2zM82.3 64.9h1.2v1.2h-1.2zM81.6 64.8h1.2v1.2h-1.2zM91.6 65.5h1.2v1.2h-1.2zM86.3 65.4h1.2v1.2h-1.2zM91.3 64.9h1.2v1.2h-1.2zM92.5 65.0h1.2v1.2h-1.2zM93.3 65.6h1.2v1.2h-1.2zM90.1 66.3h1.2v1.2h-1.2zM93.4 66.5h1.2v1.2h-1.2zM90.8 65.8h1.2v1.2h-1.2zM94.6 66.0h1.2v1.2h-1.2zM94.1 66.5h1.2v1.2h-1.2zM82.0 66.3h1.2v1.2h-1.2zM85.2 66.7h1.2v1.2h-1.2zM86.9 67.7h1.2v1.2h-1.2zM85.0 67.4h1.2v1.2h-1.2zM83.9 66.9h1.2v1.2h-1.2zM93.8 67.4h1.2v1.2h-1.2zM81.8 67.0h1.2v1.2h-1.2zM84.0 67.2h1.2v1.2h-1.2zM92.2 67.6h1.2v1.2h-1.2zM84.6 67.1h1.2v1.2h-1.2zM85.1 67.0h1.2v1.2h-1.2zM95.1 67.0h1.2v1.2h-1.2zM92.2 67.8h1.2v1.2h-1.2zM87.8 68.2h1.2v1.2h-1.2zM83.3 67.9h1.2v1.2h-1.2zM85.2 69.6h1.2v1.2h-1.2zM95.3 69.2h1.2v1.2h-1.2zM92.6 69.5h1.2v1.2h-1.2zM82.4 68.8h1.2v1.2h-1.2zM91.4 69.3h1.2v1.2h-1.2zM86.7 69.6h1.2v1.2h-1.2zM91.6 70.5h1.2v1.2h-1.2zM85.6 69.8h1.2v1.2h-1.2zM83.2 70.0h1.2v1.2h-1.2zM81.7 70.9h1.2v1.2h-1.2zM85.6 70.8h1.2v1.2h-1.2zM93.6 71.3h1.2v1.2h-1.2zM94.1 71.7h1.2v1.2h-1.2zM91.1 71.3h1.2v1.2h-1.2zM92.0 71.3h1.2v1.2h-1.2zM84.2 72.3h1.2v1.2h-1.2zM86.4 72.5h1.2v1.2h-1.2zM94.2 71.8h1.2v1.2h-1.2zM95.4 72.2h1.2v1.2h-1.2zM87.7 72.4h1.2v1.2h-1.2zM92.4 72.1h1.2v1.2h-1.2zM94.7 72.0h1.2v1.2h-1.2zM95.6 72.1h1.2v1.2h-1.2zM85.6 72.2h1.2v1.2h-1.2zM90.7 72.9h1.2v1.2h-1.2zM86.9 73.5h1.2v1.2h-1.2zM88.0 73.6h1.2v1.2h-1.2zM88.0 72.7h1.2v1.2h-1.2zM85.4 73.0h1.2v1.2h-1.2zM81.7 72.9h1.2v1.2h-1.2zM92.3 74.4h1.2v1.2h-1.2zM91.3 74.1h1.2v1.2h-1.2zM93.3 73.8h1.2v1.2h-1.2zM83.6 74.1h1.2v1.2h-1.2zM84.8 74.7h1.2v1.2h-1.2zM89.9 75.6h1.2v1.2h-1.2zM94.7 74.9h1.2v1.2h-1.2zM88.1 75.2h1.2v1.2h-1.2zM84.3 75.4h1.2v1.2h-1.2zM89.8 75.2h1.2v1.2h-1.2zM95.0 75.9h1.2v1.2h-1.2zM93.7 75.8h1.2v1.2h-1.2zM94.2 76.2h1.2v1.2h-1.2zM87.2 77.0h1.2v1.2h-1.2zM85.1 77.5h1.2v1.2h-1.2zM93.8 77.0h1.2v1.2h-1.2zM92.6 78.1h1.2v1.2h-1.2zM93.5 78.3h1.2v1.2h-1.2zM87.0 78.6h1.2v1.2h-1.2zM85.5 77.8h1.2v1.2h-1.2zM84.8 78.4h1.2v1.2h-1.2zM93.8 78.2h1.2v1.2h-1.2zM94.5 77.8h1.2v1.2h-1.2zM86.6 78.7h1.2v1.2h-1.2zM93.8 79.0h1.2v1.2h-1.2zM86.8 79.6h1.2v1.2h-1.2zM87.8 78.7h1.2v1.2h-1.2zM89.4 79.6h1.2v1.2h-1.2zM84.5 80.4h1.2v1.2h-1.2zM85.2 80.7h1.2v1.2h-1.2zM85.2 79.9h1.2v1.2h-1.2zM85.1 80.5h1.2v1.2h-1.2zM88.7 80.1h1.2v1.2h-1.2zM82.8 81.5h1.2v1.2h-1.2zM92.5 81.2h1.2v1.2h-1.2zM83.9 81.1h1.2v1.2h-1.2zM87.7 81.1h1.2v1.2h-1.2zM90.5 81.1h1.2v1.2h-1.2zM83.4 80.8h1.2v1.2h-1.2zM87.2 80.8h1.2v1.2h-1.2zM89.4 81.5h1.2v1.2h-1.2zM89.2 81.3h1.2v1.2h-1.2zM94.1 81.4h1.2v1.2h-1.2zM92.5 82.5h1.2v1.2h-1.2zM83.1 82.1h1.2v1.2h-1.2zM93.2 82.0h1.2v1.2h-1.2zM89.2 82.3h1.2v1.2h-1.2zM91.0 83.3h1.2v1.2h-1.2zM83.7 82.7h1.2v1.2h-1.2zM88.1 83.1h1.2v1.2h-1.2zM91.3 83.3h1.2v1.2h-1.2zM92.7 84.4h1.2v1.2h-1.2zM92.8 83.8h1.2v1.2h-1.2zM84.5 84.7h1.2v1.2h-1.2zM93.2 83.9h1.2v1.2h-1.2zM89.5 85.7h1.2v1.2h-1.2zM90.9 84.7h1.2v1.2h-1.2zM93.5 85.2h1.2v1.2h-1.2zM87.2 85.3h1.2v1.2h-1.2zM94.5 85.4h1.2v1.2h-1.2zM93.9 85.7h1.2v1.2h-1.2zM92.9 86.3h1.2v1.2h-1.2zM86.8 86.8h1.2v1.2h-1.2zM88.9 86.7h1.2v1.2h-1.2zM83.9 87.9h1.2v1.2h-1.2zM92.2 88.7h1.2v1.2h-1.2zM94.1 88.6h1.2v1.2h-1.2zM83.7 88.3h1.2v1.2h-1.2zM92.0 88.9h1.2v1.2h-1.2zM91.3 88.7h1.2v1.2h-1.2zM81.9 89.9h1.2v1.2h-1.2zM94.4 90.6h1.2v1.2h-1.2zM88.2 91.5h1.2v1.2h-1.2zM85.2 91.4h1.2v1.2h-1.2zM81.8 92.3h1.2v1.2h-1.2zM92.5 92.7h1.2v1.2h-1.2zM86.2 92.5h1.2v1.2h-1.2zM88.7 93.6h1.2v1.2h-1.2zM84.2 92.8h1.2v1.2h-1.2zM90.0 93.7h1.2v1.2h-1.2zM87.0 94.6h1.2v1.2h-1.2zM92.9 94.7h1.2v1.2h-1.2zM90.9 93.9h1.2v1.2h-1.2zM91.6 94.6h1.2v1.2h-1.2zM85.0 95.1h1.2v1.2h-1.2zM82.3 94.9h1.2v1.2h-1.2zM93.9 95.4h1.2v1.2h-1.2zM94.7 95.8h1.2v1.2h-1.2zM90.5 95.7h1.2v1.2h-1.2zM94.5 96.7h1.2v1.2h-1.2zM91.4 96.3h1.2v1.2h-1.2zM90.0 95.8h1.2v1.2h-1.2zM87.4 96.2h1.2v1.2h-1.2zM86.4 97.1h1.2v1.2h-1.2zM88.4 97.5h1.2v1.2h-1.2zM84.6 97.3h1.2v1.2h-1.2zM87.5 97.4h1.2v1.2h-1.2zM88.6 97.3h1.2v1.2h-1.2zM81.8 98.4h1.2v1.2h-1.2zM87.0 97.9h1.2v1.2h-1.2zM85.4 99.1h1.2v1.2h-1.2zM90.4 99.4h1.2v1.2h-1.2zM92.9 98.8h1.2v1.2h-1.2zM90.1 100.2h1.2v1.2h-1.2zM90.8 101.6h1.2v1.2h-1.2zM90.1 101.7h1.2v1.2h-1.2zM85.0 101.2h1.2v1.2h-1.2zM86.7 101.2h1.2v1.2h-1.2zM93.4 102.3h1.2v1.2h-1.2zM94.8 102.6h1.2v1.2h-1.2zM84.0 101.8h1.2v1.2h-1.2zM81.6 102.5h1.2v1.2h-1.2zM95.1 102.2h1.2v1.2h-1.2zM93.6 103.0h1.2v1.2h-1.2zM90.0 103.3h1.2v1.2h-1.2zM93.0 104.7h1.2v1.2h-1.2zM89.8 103.9h1.2v1.2h-1.2zM94.2 104.6h1.2v1.2h-1.2zM84.9 104.6h1.2v1.2h-1.2zM87.7 104.3h1.2v1.2h-1.2zM90.9 104.2h1.2v1.2h-1.2zM84.5 104.8h1.2v1.2h-1.2zM91.6 104.8h1.2v1.2h-1.2zM85.1 106.0h1.2v1.2h-1.2zM91.5 105.8h1.2v1.2h-1.2zM92.8 105.9h1.2v1.2h-1.2zM87.4 107.4h1.2v1.2h-1.2zM95.5 107.0h1.2v1.2h-1.2zM90.4 107.1h1.2v1.2h-1.2zM92.1 108.6h1.2v1.2h-1.2zM81.7 108.1h1.2v1.2h-1.2zM83.0 108.2h1.2v1.2h-1.2zM91.5 108.6h1.2v1.2h-1.2zM94.8 109.7h1.2v1.2h-1.2zM90.3 108.7h1.2v1.2h-1.2zM94.4 109.9h1.2v1.2h-1.2zM82.2 109.9h1.2v1.2h-1.2zM94.1 111.0h1.2v1.2h-1.2zM93.9 110.8h1.2v1.2h-1.2zM90.3 112.3h1.2v1.2h-1.2zM87.5 112.1h1.2v1.2h-1.2zM91.4 112.6h1.2v1.2h-1.2zM84.9 112.1h1.2v1.2h-1.2zM90.9 113.5h1.2v1.2h-1.2zM91.3 113.4h1.2v1.2h-1.2zM89.1 114.5h1.2v1.2h-1.2zM85.1 113.9h1.2v1.2h-1.2zM81.4 114.3h1.2v1.2h-1.2zM84.2 114.4h1.2v1.2h-1.2zM93.2 115.6h1.2v1.2h-1.2zM84.4 115.0h1.2v1.2h-1.2zM82.5 115.4h1.2v1.2h-1.2zM84.9 115.1h1.2v1.2h-1.2zM88.8 116.7h1.2v1.2h-1.2zM89.7 116.3h1.2v1.2h-1.2zM93.9 116.7h1.2v1.2h-1.2zM93.5 118.0h1.2v1.2h-1.2zM95.2 118.3h1.2v1.2h-1.2zM94.0 119.1h1.2v1.2h-1.2zM87.8 119.7h1.2v1.2h-1.2zM83.4 118.8h1.2v1.2h-1.2zM95.0 119.6h1.2v1.2h-1.2zM84.6 120.6h1.2v1.2h-1.2zM90.2 119.8h1.2v1.2h-1.2zM85.2 119.8h1.2v1.2h-1.2zM93.0 121.0h1.2v1.2h-1.2zM84.3 121.2h1.2v1.2h-1.2zM87.4 121.4h1.2v1.2h-1.2zM84.5 122.7h1.2v1.2h-1.2zM93.6 122.2h1.2v1.2h-1.2zM90.2 123.6h1.2v1.2h-1.2zM90.4 123.5h1.2v1.2h-1.2zM85.9 123.6h1.2v1.2h-1.2zM83.9 123.9h1.2v1.2h-1.2zM93.6 125.6h1.2v1.2h-1.2zM92.3 124.7h1.2v1.2h-1.2zM91.8 124.9h1.2v1.2h-1.2zM95.6 126.0h1.2v1.2h-1.2zM89.3 125.8h1.2v1.2h-1.2zM83.9 126.2h1.2v1.2h-1.2zM90.1 126.6h1.2v1.2h-1.2zM85.5 126.3h1.2v1.2h-1.2zM88.7 127.1h1.2v1.2h-1.2zM87.9 128.3h1.2v1.2h-1.2zM89.4 128.6h1.2v1.2h-1.2zM94.5 128.4h1.2v1.2h-1.2zM92.9 128.2h1.2v1.2h-1.2zM87.3 129.5h1.2v1.2h-1.2zM93.0 129.0h1.2v1.2h-1.2zM93.6 129.5h1.2v1.2h-1.2zM92.4 129.3h1.2v1.2h-1.2zM89.2 130.5h1.2v1.2h-1.2zM94.2 130.8h1.2v1.2h-1.2zM88.4 131.6h1.2v1.2h-1.2zM82.9 131.2h1.2v1.2h-1.2zM85.3 132.1h1.2v1.2h-1.2zM90.7 132.3h1.2v1.2h-1.2zM86.8 133.7h1.2v1.2h-1.2zM87.4 132.8h1.2v1.2h-1.2zM87.1 133.2h1.2v1.2h-1.2zM84.1 133.6h1.2v1.2h-1.2zM82.7 134.6h1.2v1.2h-1.2zM82.1 133.8h1.2v1.2h-1.2zM90.9 133.9h1.2v1.2h-1.2zM86.0 135.6h1.2v1.2h-1.2zM87.9 135.6h1.2v1.2h-1.2zM94.7 136.1h1.2v1.2h-1.2zM90.3 136.7h1.2v1.2h-1.2zM92.9 137.4h1.2v1.2h-1.2zM92.2 138.4h1.2v1.2h-1.2zM94.9 137.8h1.2v1.2h-1.2zM82.3 138.1h1.2v1.2h-1.2zM86.9 138.7h1.2v1.2h-1.2zM94.9 138.3h1.2v1.2h-1.2zM88.0 138.2h1.2v1.2h-1.2zM94.9 138.8h1.2v1.2h-1.2zM84.0 139.6h1.2v1.2h-1.2zM82.3 138.9h1.2v1.2h-1.2zM94.1 138.7h1.2v1.2h-1.2zM87.2 139.6h1.2v1.2h-1.2zM88.6 139.8h1.2v1.2h-1.2zM94.7 140.2h1.2v1.2h-1.2zM84.5 139.8h1.2v1.2h-1.2zM95.1 140.9h1.2v1.2h-1.2zM87.0 141.6h1.2v1.2h-1.2zM84.9 140.8h1.2v1.2h-1.2zM84.7 141.2h1.2v1.2h-1.2zM88.8 143.4h1.2v1.2h-1.2zM88.0 143.6h1.2v1.2h-1.2zM94.0 143.4h1.2v1.2h-1.2zM82.1 144.4h1.2v1.2h-1.2zM82.0 145.5h1.2v1.2h-1.2zM83.6 146.3h1.2v1.2h-1.2zM90.0 146.7h1.2v1.2h-1.2zM92.5 147.1h1.2v1.2h-1.2zM88.2 147.2h1.2v1.2h-1.2zM90.1 147.0h1.2v1.2h-1.2zM90.5 146.9h1.2v1.2h-1.2zM81.7 148.5h1.2v1.2h-1.2zM84.9 148.5h1.2v1.2h-1.2zM95.6 149.1h1.2v1.2h-1.2zM86.1 149.4h1.2v1.2h-1.2zM94.8 149.7h1.2v1.2h-1.2zM88.4 148.8h1.2v1.2h-1.2zM84.6 150.2h1.2v1.2h-1.2zM81.4 150.4h1.2v1.2h-1.2zM84.5 149.9h1.2v1.2h-1.2zM86.0 149.8h1.2v1.2h-1.2zM87.6 150.5h1.2v1.2h-1.2zM87.7 150.5h1.2v1.2h-1.2zM89.2 150.4h1.2v1.2h-1.2zM88.1 151.4h1.2v1.2h-1.2zM81.9 151.3h1.2v1.2h-1.2zM85.2 152.4h1.2v1.2h-1.2zM95.1 152.1h1.2v1.2h-1.2zM81.8 151.8h1.2v1.2h-1.2zM91.8 152.2h1.2v1.2h-1.2zM88.2 153.0h1.2v1.2h-1.2zM91.4 153.4h1.2v1.2h-1.2zM86.1 153.1h1.2v1.2h-1.2zM86.7 153.0h1.2v1.2h-1.2zM88.7 154.0h1.2v1.2h-1.2zM94.3 154.3h1.2v1.2h-1.2zM86.1 154.2h1.2v1.2h-1.2zM82.6 154.3h1.2v1.2h-1.2zM81.9 153.7h1.2v1.2h-1.2zM93.9 154.2h1.2v1.2h-1.2zM85.9 155.4h1.2v1.2h-1.2zM83.1 155.6h1.2v1.2h-1.2zM89.9 156.6h1.2v1.2h-1.2zM93.4 155.8h1.2v1.2h-1.2zM89.9 156.1h1.2v1.2h-1.2zM83.6 157.4h1.2v1.2h-1.2zM87.2 157.7h1.2v1.2h-1.2zM85.2 157.1h1.2v1.2h-1.2zM81.6 158.5h1.2v1.2h-1.2zM95.1 158.4h1.2v1.2h-1.2zM87.9 157.8h1.2v1.2h-1.2zM83.3 158.0h1.2v1.2h-1.2zM94.0 159.6h1.2v1.2h-1.2zM95.4 159.0h1.2v1.2h-1.2zM93.0 159.1h1.2v1.2h-1.2zM85.0 158.7h1.2v1.2h-1.2zM84.1 159.4h1.2v1.2h-1.2zM88.9 159.1h1.2v1.2h-1.2zM89.7 159.5h1.2v1.2h-1.2zM93.9 158.9h1.2v1.2h-1.2zM95.1 159.4h1.2v1.2h-1.2zM94.3 159.8h1.2v1.2h-1.2zM86.3 160.2h1.2v1.2h-1.2zM89.7 159.9h1.2v1.2h-1.2zM83.2 160.5h1.2v1.2h-1.2zM88.8 160.5h1.2v1.2h-1.2zM82.4 161.4h1.2v1.2h-1.2zM83.0 161.2h1.2v1.2h-1.2zM83.1 161.0h1.2v1.2h-1.2zM85.7 161.0h1.2v1.2h-1.2zM85.8 160.9h1.2v1.2h-1.2zM91.4 161.2h1.2v1.2h-1.2zM82.5 161.1h1.2v1.2h-1.2zM83.0 161.1h1.2v1.2h-1.2zM90.7 161.6h1.2v1.2h-1.2zM91.0 162.1h1.2v1.2h-1.2zM91.5 162.7h1.2v1.2h-1.2zM91.6 161.8h1.2v1.2h-1.2zM90.8 162.5h1.2v1.2h-1.2zM89.2 162.6h1.2v1.2h-1.2zM91.9 163.0h1.2v1.2h-1.2zM82.6 163.7h1.2v1.2h-1.2zM84.4 163.0h1.2v1.2h-1.2zM91.9 162.9h1.2v1.2h-1.2zM84.1 163.6h1.2v1.2h-1.2zM88.9 162.8h1.2v1.2h-1.2zM85.1 164.0h1.2v1.2h-1.2zM87.5 164.1h1.2v1.2h-1.2zM93.2 164.6h1.2v1.2h-1.2zM90.8 164.2h1.2v1.2h-1.2zM87.7 164.7h1.2v1.2h-1.2zM85.3 164.4h1.2v1.2h-1.2zM92.8 165.6h1.2v1.2h-1.2zM90.7 165.0h1.2v1.2h-1.2zM87.6 164.9h1.2v1.2h-1.2zM93.7 166.4h1.2v1.2h-1.2zM91.2 166.0h1.2v1.2h-1.2zM95.3 166.5h1.2v1.2h-1.2zM90.8 166.9h1.2v1.2h-1.2zM94.2 166.8h1.2v1.2h-1.2zM89.2 166.9h1.2v1.2h-1.2zM91.5 166.9h1.2v1.2h-1.2zM93.4 167.7h1.2v1.2h-1.2zM82.7 167.4h1.2v1.2h-1.2zM88.1 167.6h1.2v1.2h-1.2zM90.0 168.0h1.2v1.2h-1.2zM82.2 168.2h1.2v1.2h-1.2zM92.6 168.4h1.2v1.2h-1.2zM91.6 168.3h1.2v1.2h-1.2zM94.7 168.4h1.2v1.2h-1.2zM86.7 167.8h1.2v1.2h-1.2zM88.1 167.9h1.2v1.2h-1.2zM94.3 169.0h1.2v1.2h-1.2zM87.2 169.5h1.2v1.2h-1.2zM93.2 169.6h1.2v1.2h-1.2zM87.4 169.3h1.2v1.2h-1.2zM86.2 169.0h1.2v1.2h-1.2zM85.3 169.8h1.2v1.2h-1.2zM84.4 170.6h1.2v1.2h-1.2zM87.5 170.3h1.2v1.2h-1.2zM83.7 170.7h1.2v1.2h-1.2zM93.2 169.8h1.2v1.2h-1.2zM95.2 171.7h1.2v1.2h-1.2zM82.8 171.2h1.2v1.2h-1.2zM82.2 171.4h1.2v1.2h-1.2zM81.5 171.2h1.2v1.2h-1.2zM94.6 170.8h1.2v1.2h-1.2zM82.4 170.9h1.2v1.2h-1.2zM91.1 170.8h1.2v1.2h-1.2zM85.7 170.9h1.2v1.2h-1.2zM84.2 171.8h1.2v1.2h-1.2zM84.9 172.5h1.2v1.2h-1.2zM91.2 172.2h1.2v1.2h-1.2zM81.7 172.1h1.2v1.2h-1.2zM93.7 172.0h1.2v1.2h-1.2zM89.5 173.4h1.2v1.2h-1.2zM84.7 173.6h1.2v1.2h-1.2zM84.4 173.5h1.2v1.2h-1.2zM90.7 173.6h1.2v1.2h-1.2zM90.3 173.2h1.2v1.2h-1.2zM85.9 173.5h1.2v1.2h-1.2zM86.1 173.2h1.2v1.2h-1.2zM88.0 174.7h1.2v1.2h-1.2zM94.3 174.6h1.2v1.2h-1.2zM89.0 174.7h1.2v1.2h-1.2zM93.3 174.4h1.2v1.2h-1.2zM90.5 174.4h1.2v1.2h-1.2zM89.4 174.0h1.2v1.2h-1.2zM88.4 174.1h1.2v1.2h-1.2zM91.1 173.7h1.2v1.2h-1.2zM88.4 174.9h1.2v1.2h-1.2zM91.7 175.6h1.2v1.2h-1.2zM84.0 175.6h1.2v1.2h-1.2zM86.0 175.3h1.2v1.2h-1.2zM93.8 175.3h1.2v1.2h-1.2zM87.0 174.9h1.2v1.2h-1.2zM93.4 176.1h1.2v1.2h-1.2zM94.7 176.0h1.2v1.2h-1.2zM89.6 176.1h1.2v1.2h-1.2zM82.8 176.0h1.2v1.2h-1.2zM92.1 176.1h1.2v1.2h-1.2zM90.9 176.3h1.2v1.2h-1.2zM85.5 176.2h1.2v1.2h-1.2zM93.7 175.9h1.2v1.2h-1.2zM88.3 177.2h1.2v1.2h-1.2zM82.2 177.4h1.2v1.2h-1.2zM82.4 177.5h1.2v1.2h-1.2zM84.6 177.5h1.2v1.2h-1.2zM90.1 177.5h1.2v1.2h-1.2zM93.0 177.4h1.2v1.2h-1.2zM82.8 177.4h1.2v1.2h-1.2zM81.7 176.9h1.2v1.2h-1.2zM90.2 177.4h1.2v1.2h-1.2zM87.2 177.0h1.2v1.2h-1.2zM87.7 177.0h1.2v1.2h-1.2zM93.1 176.8h1.2v1.2h-1.2zM94.5 177.1h1.2v1.2h-1.2zM95.1 176.7h1.2v1.2h-1.2zM92.5 178.5h1.2v1.2h-1.2zM81.4 177.8h1.2v1.2h-1.2zM83.5 178.3h1.2v1.2h-1.2zM89.7 178.5h1.2v1.2h-1.2zM95.0 177.7h1.2v1.2h-1.2zM82.6 177.9h1.2v1.2h-1.2zM88.7 178.0h1.2v1.2h-1.2zM87.0 178.2h1.2v1.2h-1.2zM87.2 177.9h1.2v1.2h-1.2zM85.2 178.2h1.2v1.2h-1.2zM85.2 178.0h1.2v1.2h-1.2zM84.8 178.4h1.2v1.2h-1.2zM82.9 178.2h1.2v1.2h-1.2zM89.3 179.4h1.2v1.2h-1.2zM87.7 179.4h1.2v1.2h-1.2zM91.5 179.4h1.2v1.2h-1.2zM90.5 178.8h1.2v1.2h-1.2zM94.9 179.6h1.2v1.2h-1.2zM86.2 179.3h1.2v1.2h-1.2zM93.9 179.0h1.2v1.2h-1.2zM86.9 179.1h1.2v1.2h-1.2zM90.8 179.2h1.2v1.2h-1.2zM92.8 179.2h1.2v1.2h-1.2zM87.0 178.9h1.2v1.2h-1.2zM87.7 179.0h1.2v1.2h-1.2zM90.4 179.1h1.2v1.2h-1.2zM83.0 179.5h1.2v1.2h-1.2zM89.0 179.1h1.2v1.2h-1.2zM82.7 180.7h1.2v1.2h-1.2zM84.6 180.0h1.2v1.2h-1.2zM90.2 180.2h1.2v1.2h-1.2zM95.2 180.1h1.2v1.2h-1.2zM95.6 179.8h1.2v1.2h-1.2zM85.1 180.6h1.2v1.2h-1.2zM83.5 180.6h1.2v1.2h-1.2zM88.8 179.9h1.2v1.2h-1.2zM87.7 180.1h1.2v1.2h-1.2zM86.8 180.1h1.2v1.2h-1.2zM92.3 181.5h1.2v1.2h-1.2zM91.5 181.5h1.2v1.2h-1.2zM89.4 181.4h1.2v1.2h-1.2zM90.2 180.7h1.2v1.2h-1.2zM89.7 180.9h1.2v1.2h-1.2zM91.0 181.2h1.2v1.2h-1.2zM94.6 181.4h1.2v1.2h-1.2zM94.8 181.1h1.2v1.2h-1.2zM95.3 181.1h1.2v1.2h-1.2zM93.6 181.5h1.2v1.2h-1.2zM82.9 182.1h1.2v1.2h-1.2zM87.8 182.3h1.2v1.2h-1.2zM92.5 181.9h1.2v1.2h-1.2zM85.6 182.5h1.2v1.2h-1.2zM90.0 181.9h1.2v1.2h-1.2zM82.2 182.4h1.2v1.2h-1.2zM84.3 181.9h1.2v1.2h-1.2zM87.1 182.6h1.2v1.2h-1.2zM82.4 181.9h1.2v1.2h-1.2zM87.4 182.4h1.2v1.2h-1.2zM84.7 182.5h1.2v1.2h-1.2zM93.6 182.0h1.2v1.2h-1.2zM85.9 183.2h1.2v1.2h-1.2zM86.8 183.2h1.2v1.2h-1.2zM92.8 183.5h1.2v1.2h-1.2zM89.3 183.2h1.2v1.2h-1.2zM82.1 183.2h1.2v1.2h-1.2zM84.5 183.2h1.2v1.2h-1.2zM90.1 183.2h1.2v1.2h-1.2zM84.2 183.1h1.2v1.2h-1.2zM84.9 182.9h1.2v1.2h-1.2zM90.2 183.0h1.2v1.2h-1.2zM88.4 183.0h1.2v1.2h-1.2zM85.2 183.8h1.2v1.2h-1.2zM89.3 183.9h1.2v1.2h-1.2zM90.4 184.2h1.2v1.2h-1.2zM82.0 184.0h1.2v1.2h-1.2zM85.3 183.9h1.2v1.2h-1.2zM85.8 184.1h1.2v1.2h-1.2zM93.9 184.2h1.2v1.2h-1.2zM82.1 184.4h1.2v1.2h-1.2zM86.3 184.7h1.2v1.2h-1.2zM84.2 184.6h1.2v1.2h-1.2zM91.3 184.1h1.2v1.2h-1.2zM92.9 184.2h1.2v1.2h-1.2zM82.2 184.1h1.2v1.2h-1.2zM93.7 183.9h1.2v1.2h-1.2zM91.3 184.7h1.2v1.2h-1.2zM84.5 183.8h1.2v1.2h-1.2zM94.4 185.3h1.2v1.2h-1.2zM85.6 185.0h1.2v1.2h-1.2zM92.6 185.6h1.2v1.2h-1.2zM82.5 185.1h1.2v1.2h-1.2zM87.9 185.3h1.2v1.2h-1.2zM88.6 184.8h1.2v1.2h-1.2zM94.1 185.6h1.2v1.2h-1.2zM93.3 184.8h1.2v1.2h-1.2zM89.2 185.1h1.2v1.2h-1.2zM82.1 185.6h1.2v1.2h-1.2zM87.5 185.6h1.2v1.2h-1.2zM86.7 185.6h1.2v1.2h-1.2zM95.5 185.5h1.2v1.2h-1.2zM91.1 184.9h1.2v1.2h-1.2zM87.2 184.7h1.2v1.2h-1.2zM86.6 185.2h1.2v1.2h-1.2zM92.3 184.8h1.2v1.2h-1.2zM82.8 186.0h1.2v1.2h-1.2zM93.0 185.9h1.2v1.2h-1.2zM90.9 185.7h1.2v1.2h-1.2zM87.6 186.2h1.2v1.2h-1.2zM91.5 185.8h1.2v1.2h-1.2zM87.0 186.6h1.2v1.2h-1.2zM83.4 186.4h1.2v1.2h-1.2zM87.3 186.1h1.2v1.2h-1.2zM82.1 186.5h1.2v1.2h-1.2zM82.6 186.5h1.2v1.2h-1.2zM87.6 186.0h1.2v1.2h-1.2zM93.1 186.5h1.2v1.2h-1.2zM84.3 186.6h1.2v1.2h-1.2zM88.5 186.3h1.2v1.2h-1.2zM95.3 186.1h1.2v1.2h-1.2zM93.1 186.6h1.2v1.2h-1.2zM94.2 186.6h1.2v1.2h-1.2zM91.0 186.0h1.2v1.2h-1.2zM89.8 185.8h1.2v1.2h-1.2zM89.7 186.6h1.2v1.2h-1.2zM89.9 186.4h1.2v1.2h-1.2zM88.0 185.9h1.2v1.2h-1.2zM86.5 186.3h1.2v1.2h-1.2zM84.8 186.0h1.2v1.2h-1.2zM82.3 186.6h1.2v1.2h-1.2zM86.6 186.0h1.2v1.2h-1.2zM92.3 185.9h1.2v1.2h-1.2zM89.2 185.7h1.2v1.2h-1.2zM83.7 186.0h1.2v1.2h-1.2zM93.0 186.7h1.2v1.2h-1.2zM82.0 185.9h1.2v1.2h-1.2zM94.6 186.2h1.2v1.2h-1.2zM90.7 186.7h1.2v1.2h-1.2zM89.3 185.7h1.2v1.2h-1.2zM87.3 186.0h1.2v1.2h-1.2zM93.1 187.6h1.2v1.2h-1.2zM81.5 187.5h1.2v1.2h-1.2zM81.6 186.8h1.2v1.2h-1.2zM88.8 187.3h1.2v1.2h-1.2zM85.6 187.3h1.2v1.2h-1.2zM87.1 187.4h1.2v1.2h-1.2zM89.0 187.0h1.2v1.2h-1.2zM82.0 187.1h1.2v1.2h-1.2zM95.4 186.9h1.2v1.2h-1.2zM91.0 187.0h1.2v1.2h-1.2zM82.8 186.9h1.2v1.2h-1.2zM91.9 187.6h1.2v1.2h-1.2zM89.0 187.6h1.2v1.2h-1.2zM91.2 187.1h1.2v1.2h-1.2zM91.9 187.4h1.2v1.2h-1.2zM95.5 187.2h1.2v1.2h-1.2zM83.1 187.0h1.2v1.2h-1.2zM95.5 187.0h1.2v1.2h-1.2zM88.2 187.7h1.2v1.2h-1.2zM84.3 187.0h1.2v1.2h-1.2zM86.7 187.3h1.2v1.2h-1.2zM86.6 187.6h1.2v1.2h-1.2zM94.1 187.0h1.2v1.2h-1.2zM88.8 187.5h1.2v1.2h-1.2zM82.3 186.8h1.2v1.2h-1.2zM91.6 187.4h1.2v1.2h-1.2zM88.5 187.5h1.2v1.2h-1.2zM93.0 187.5h1.2v1.2h-1.2zM82.1 187.7h1.2v1.2h-1.2zM93.7 187.4h1.2v1.2h-1.2zM94.1 187.8h1.2v1.2h-1.2zM81.5 188.1h1.2v1.2h-1.2zM88.2 188.4h1.2v1.2h-1.2zM83.1 188.5h1.2v1.2h-1.2zM88.9 187.7h1.2v1.2h-1.2zM82.7 188.6h1.2v1.2h-1.2zM94.0 187.9h1.2v1.2h-1.2zM84.0 188.0h1.2v1.2h-1.2zM90.9 188.5h1.2v1.2h-1.2zM90.7 188.6h1.2v1.2h-1.2zM86.0 188.4h1.2v1.2h-1.2zM84.4 188.0h1.2v1.2h-1.2zM94.4 188.2h1.2v1.2h-1.2zM82.0 188.5h1.2v1.2h-1.2zM85.0 188.1h1.2v1.2h-1.2zM86.0 188.5h1.2v1.2h-1.2zM89.7 188.5h1.2v1.2h-1.2zM86.6 188.2h1.2v1.2h-1.2zM83.0 188.6h1.2v1.2h-1.2zM89.5 188.1h1.2v1.2h-1.2zM91.7 188.4h1.2v1.2h-1.2zM91.4 188.3h1.2v1.2h-1.2zM88.4 188.0h1.2v1.2h-1.2zM85.8 188.2h1.2v1.2h-1.2zM81.5 188.3h1.2v1.2h-1.2zM89.0 188.2h1.2v1.2h-1.2zM90.3 189.6h1.2v1.2h-1.2zM87.7 189.2h1.2v1.2h-1.2zM95.0 188.8h1.2v1.2h-1.2zM84.3 189.5h1.2v1.2h-1.2zM93.0 189.1h1.2v1.2h-1.2zM91.6 189.4h1.2v1.2h-1.2zM94.2 189.5h1.2v1.2h-1.2zM94.5 189.2h1.2v1.2h-1.2zM84.8 188.7h1.2v1.2h-1.2zM94.5 189.5h1.2v1.2h-1.2zM87.1 189.4h1.2v1.2h-1.2zM91.0 189.6h1.2v1.2h-1.2zM94.9 189.0h1.2v1.2h-1.2zM89.9 189.5h1.2v1.2h-1.2zM89.7 189.6h1.2v1.2h-1.2zM82.4 189.1h1.2v1.2h-1.2zM89.9 189.1h1.2v1.2h-1.2zM84.8 189.0h1.2v1.2h-1.2zM86.9 188.7h1.2v1.2h-1.2zM86.8 188.9h1.2v1.2h-1.2zM95.2 189.0h1.2v1.2h-1.2zM90.5 188.8h1.2v1.2h-1.2zM91.7 189.5h1.2v1.2h-1.2zM83.9 189.1h1.2v1.2h-1.2zM85.7 189.3h1.2v1.2h-1.2zM93.9 189.0h1.2v1.2h-1.2zM83.1 189.1h1.2v1.2h-1.2zM94.9 189.5h1.2v1.2h-1.2zM87.5 189.2h1.2v1.2h-1.2zM86.9 189.3h1.2v1.2h-1.2zM88.7 189.1h1.2v1.2h-1.2zM87.7 189.3h1.2v1.2h-1.2zM88.1 189.6h1.2v1.2h-1.2zM87.4 189.0h1.2v1.2h-1.2zM91.4 189.2h1.2v1.2h-1.2zM85.3 189.4h1.2v1.2h-1.2zM83.8 188.8h1.2v1.2h-1.2zM87.6 189.7h1.2v1.2h-1.2zM82.7 189.2h1.2v1.2h-1.2zM87.8 188.9h1.2v1.2h-1.2zM88.4 189.5h1.2v1.2h-1.2zM92.5 189.5h1.2v1.2h-1.2zM82.9 190.4h1.2v1.2h-1.2zM87.0 190.6h1.2v1.2h-1.2zM92.5 190.3h1.2v1.2h-1.2zM86.2 190.3h1.2v1.2h-1.2zM93.3 190.1h1.2v1.2h-1.2zM91.6 190.3h1.2v1.2h-1.2zM82.0 190.3h1.2v1.2h-1.2zM86.9 190.6h1.2v1.2h-1.2zM92.3 190.5h1.2v1.2h-1.2zM88.9 190.4h1.2v1.2h-1.2zM91.0 190.6h1.2v1.2h-1.2zM95.5 189.8h1.2v1.2h-1.2zM91.0 190.5h1.2v1.2h-1.2zM89.2 190.2h1.2v1.2h-1.2zM93.4 190.5h1.2v1.2h-1.2zM87.5 190.0h1.2v1.2h-1.2zM81.5 190.2h1.2v1.2h-1.2zM85.3 190.5h1.2v1.2h-1.2zM89.8 189.7h1.2v1.2h-1.2zM94.9 190.0h1.2v1.2h-1.2zM90.0 191.0h1.2v1.2h-1.2zM85.4 191.5h1.2v1.2h-1.2zM95.5 190.9h1.2v1.2h-1.2zM87.1 191.0h1.2v1.2h-1.2zM84.6 191.3h1.2v1.2h-1.2zM89.3 191.4h1.2v1.2h-1.2zM86.3 191.6h1.2v1.2h-1.2zM83.0 191.6h1.2v1.2h-1.2zM91.5 191.0h1.2v1.2h-1.2zM91.2 191.4h1.2v1.2h-1.2zM95.2 191.3h1.2v1.2h-1.2zM83.3 191.1h1.2v1.2h-1.2zM94.3 191.5h1.2v1.2h-1.2zM92.7 191.6h1.2v1.2h-1.2zM85.0 191.2h1.2v1.2h-1.2zM88.2 191.6h1.2v1.2h-1.2zM90.3 190.8h1.2v1.2h-1.2zM85.9 190.9h1.2v1.2h-1.2zM82.9 191.5h1.2v1.2h-1.2zM93.3 191.0h1.2v1.2h-1.2zM83.7 191.3h1.2v1.2h-1.2zM88.4 191.2h1.2v1.2h-1.2zM87.6 190.8h1.2v1.2h-1.2zM94.2 191.5h1.2v1.2h-1.2zM89.3 191.4h1.2v1.2h-1.2zM87.4 190.8h1.2v1.2h-1.2zM95.3 191.0h1.2v1.2h-1.2zM86.4 191.5h1.2v1.2h-1.2zM91.7 191.6h1.2v1.2h-1.2zM84.7 191.6h1.2v1.2h-1.2zM92.2 192.1h1.2v1.2h-1.2zM92.1 191.9h1.2v1.2h-1.2zM93.2 192.2h1.2v1.2h-1.2zM88.3 191.9h1.2v1.2h-1.2zM84.6 191.9h1.2v1.2h-1.2zM90.4 192.1h1.2v1.2h-1.2zM94.3 191.8h1.2v1.2h-1.2zM85.8 192.2h1.2v1.2h-1.2zM81.7 192.4h1.2v1.2h-1.2zM84.0 192.4h1.2v1.2h-1.2zM94.6 192.7h1.2v1.2h-1.2zM81.5 192.6h1.2v1.2h-1.2zM82.2 192.3h1.2v1.2h-1.2zM82.8 192.6h1.2v1.2h-1.2zM94.1 192.1h1.2v1.2h-1.2zM86.8 192.5h1.2v1.2h-1.2zM91.2 192.0h1.2v1.2h-1.2zM91.4 192.2h1.2v1.2h-1.2zM87.6 192.7h1.2v1.2h-1.2zM91.8 192.3h1.2v1.2h-1.2zM87.9 192.2h1.2v1.2h-1.2zM89.1 192.5h1.2v1.2h-1.2zM85.8 192.0h1.2v1.2h-1.2zM81.4 192.5h1.2v1.2h-1.2zM89.8 191.7h1.2v1.2h-1.2zM85.2 191.9h1.2v1.2h-1.2zM85.3 191.9h1.2v1.2h-1.2zM93.9 192.0h1.2v1.2h-1.2zM86.5 192.6h1.2v1.2h-1.2zM82.9 191.7h1.2v1.2h-1.2zM90.4 192.0h1.2v1.2h-1.2zM89.0 193.5h1.2v1.2h-1.2zM82.2 193.1h1.2v1.2h-1.2zM86.4 192.9h1.2v1.2h-1.2zM90.1 193.6h1.2v1.2h-1.2zM85.4 192.8h1.2v1.2h-1.2zM95.4 192.8h1.2v1.2h-1.2zM92.7 192.9h1.2v1.2h-1.2zM88.6 193.2h1.2v1.2h-1.2zM94.4 193.6h1.2v1.2h-1.2zM81.9 193.4h1.2v1.2h-1.2zM84.6 193.3h1.2v1.2h-1.2zM94.4 193.2h1.2v1.2h-1.2zM88.6 193.4h1.2v1.2h-1.2zM83.8 193.3h1.2v1.2h-1.2zM89.5 193.0h1.2v1.2h-1.2zM91.8 192.8h1.2v1.2h-1.2zM90.0 192.9h1.2v1.2h-1.2zM82.1 193.5h1.2v1.2h-1.2zM81.9 193.3h1.2v1.2h-1.2zM87.2 193.5h1.2v1.2h-1.2zM81.6 192.7h1.2v1.2h-1.2zM82.6 193.6h1.2v1.2h-1.2zM90.5 193.1h1.2v1.2h-1.2zM87.6 193.6h1.2v1.2h-1.2zM82.6 193.3h1.2v1.2h-1.2zM93.8 193.2h1.2v1.2h-1.2zM86.6 193.5h1.2v1.2h-1.2zM93.9 193.3h1.2v1.2h-1.2zM90.1 193.4h1.2v1.2h-1.2zM90.2 192.9h1.2v1.2h-1.2zM87.4 193.3h1.2v1.2h-1.2zM90.9 193.1h1.2v1.2h-1.2zM84.9 192.8h1.2v1.2h-1.2zM85.1 192.8h1.2v1.2h-1.2zM93.8 194.5h1.2v1.2h-1.2zM84.3 193.8h1.2v1.2h-1.2zM86.9 193.7h1.2v1.2h-1.2zM92.0 194.7h1.2v1.2h-1.2zM86.1 194.0h1.2v1.2h-1.2zM86.6 194.2h1.2v1.2h-1.2zM94.3 193.9h1.2v1.2h-1.2zM84.3 193.9h1.2v1.2h-1.2zM84.8 194.1h1.2v1.2h-1.2zM94.0 194.5h1.2v1.2h-1.2zM85.3 193.7h1.2v1.2h-1.2zM86.1 194.5h1.2v1.2h-1.2zM93.9 194.7h1.2v1.2h-1.2zM86.0 194.3h1.2v1.2h-1.2zM95.6 194.1h1.2v1.2h-1.2zM93.1 193.9h1.2v1.2h-1.2zM93.4 193.9h1.2v1.2h-1.2zM84.6 194.0h1.2v1.2h-1.2zM84.5 194.6h1.2v1.2h-1.2zM92.1 193.7h1.2v1.2h-1.2zM93.1 194.5h1.2v1.2h-1.2zM84.6 194.4h1.2v1.2h-1.2zM84.3 193.7h1.2v1.2h-1.2zM84.9 193.8h1.2v1.2h-1.2zM83.4 194.4h1.2v1.2h-1.2zM87.4 194.4h1.2v1.2h-1.2zM88.5 194.0h1.2v1.2h-1.2zM90.3 194.6h1.2v1.2h-1.2zM82.2 193.9h1.2v1.2h-1.2zM84.1 194.1h1.2v1.2h-1.2zM83.1 193.8h1.2v1.2h-1.2zM85.2 194.3h1.2v1.2h-1.2zM84.0 193.8h1.2v1.2h-1.2zM94.7 195.2h1.2v1.2h-1.2zM86.7 195.4h1.2v1.2h-1.2zM83.4 195.4h1.2v1.2h-1.2zM90.9 195.3h1.2v1.2h-1.2zM95.2 194.9h1.2v1.2h-1.2zM92.7 195.4h1.2v1.2h-1.2zM90.6 194.8h1.2v1.2h-1.2zM86.8 195.0h1.2v1.2h-1.2zM87.1 195.1h1.2v1.2h-1.2zM85.7 194.8h1.2v1.2h-1.2zM92.8 194.8h1.2v1.2h-1.2zM92.8 195.4h1.2v1.2h-1.2zM88.3 195.4h1.2v1.2h-1.2zM93.6 195.1h1.2v1.2h-1.2zM90.7 195.1h1.2v1.2h-1.2zM91.1 194.9h1.2v1.2h-1.2zM85.2 195.2h1.2v1.2h-1.2zM84.8 195.3h1.2v1.2h-1.2zM84.6 195.6h1.2v1.2h-1.2zM94.4 194.7h1.2v1.2h-1.2zM92.8 195.6h1.2v1.2h-1.2zM94.2 195.7h1.2v1.2h-1.2zM93.1 195.0h1.2v1.2h-1.2zM92.8 195.4h1.2v1.2h-1.2zM87.6 195.5h1.2v1.2h-1.2zM92.3 195.4h1.2v1.2h-1.2zM83.8 195.0h1.2v1.2h-1.2zM90.7 195.3h1.2v1.2h-1.2zM82.0 195.6h1.2v1.2h-1.2zM95.1 195.8h1.2v1.2h-1.2zM93.9 195.8h1.2v1.2h-1.2z"/>
<path fill="#C77CFF" fill-opacity="1.00" d="M157.1 41.3h1.2v1.2h-1.2zM161.2 40.5h1.2v1.2h-1.2zM157.8 41.1h1.2v1.2h-1.2zM165.0 40.9h1.2v1.2h-1.2zM161.9 41.1h1.2v1.2h-1.2zM157.9 41.4h1.2v1.2h-1.2zM164.8 41.2h1.2v1.2h-1.2zM162.1 40.7h1.2v1.2h-1.2zM155.5 41.1h1.2v1.2h-1.2zM159.4 41.1h1.2v1.2h-1.2zM160.5 40.5h1.2v1.2h-1.2zM166.7 40.6h1.2v1.2h-1.2zM158.1 40.9h1.2v1.2h-1.2zM159.9 40.7h1.2v1.2h-1.2zM167.2 40.7h1.2v1.2h-1.2zM159.6 41.2h1.2v1.2h-1.2zM165.1 41.5h1.2v1.2h-1.2zM155.0 41.0h1.2v1.2h-1.2zM159.1 41.1h1.2v1.2h-1.2zM156.2 41.3h1.2v1.2h-1.2zM165.9 41.2h1.2v1.2h-1.2zM161.3 41.2h1.2v1.2h-1.2zM156.7 40.5h1.2v1.2h-1.2zM155.0 41.4h1.2v1.2h-1.2zM159.5 40.7h1.2v1.2h-1.2zM155.0 40.7h1.2v1.2h-1.2zM160.4 41.0h1.2v1.2h-1.2zM163.8 41.1h1.2v1.2h-1.2zM158.0 41.3h1.2v1.2h-1.2zM156.0 40.8h1.2v1.2h-1.2zM158.7 41.4h1.2v1.2h-1.2zM156.0 41.1h1.2v1.2h-1.2zM165.3 41.3h1.2v1.2h-1.2zM155.0 41.0h1.2v1.2h-1.2zM163.9 40.6h1.2v1.2h-1.2zM158.3 40.5h1.2v1.2h-1.2zM163.8 41.1h1.2v1.2h-1.2zM164.3 40.9h1.2v1.2h-1.2zM155.6 40.9h1.2v1.2h-1.2zM164.1 40.8h1.2v1.2h-1.2zM166.7 40.7h1.2v1.2h-1.2zM161.5 41.0h1.2v1.2h-1.2zM162.6 41.8h1.2v1.2h-1.2zM158.2 41.7h1.2v1.2h-1.2zM156.1 41.7h1.2v1.2h-1.2zM164.0 41.8h1.2v1.2h-1.2zM165.0 41.8h1.2v1.2h-1.2zM156.5 41.6h1.2v1.2h-1.2zM155.3 41.9h1.2v1.2h-1.2zM158.6 41.5h1.2v1.2h-1.2zM162.3 41.5h1.2v1.2h-1.2zM158.7 41.7h1.2v1.2h-1.2zM167.0 41.6h1.2v1.2h-1.2zM164.6 41.7h1.2v1.2h-1.2zM166.3 41.7h1.2v1.2h-1.2zM162.0 41.7h1.2v1.2h-1.2zM164.1 41.9h1.2v1.2h-1.2zM166.8 41.9h1.2v1.2h-1.2zM154.2 41.6h1.2v1.2h-1.2zM161.6 41.6h1.2v1.2h-1.2zM156.3 41.8h1.2v1.2h-1.2zM164.7 41.6h1.2v1.2h-1.2zM156.9 41.7h1.2v1.2h-1.2zM163.9 41.8h1.2v1.2h-1.2zM158.3 41.5h1.2v1.2h-1.2zM162.7 41.8h1.2v1.2h-1.2zM163.1 41.8h1.2v1.2h-1.2zM166.2 41.7h1.2v1.2h-1.2z"/>
<path fill="#C77CFF" fill-opacity="0.85" d="M160.7 42.7h1.2v1.2h-1.2zM163.8 42.2h1.2v1.2h-1.2zM159.3 42.1h1.2v1.2h-1.2zM157.7 42.7h1.2v1.2h-1.2zM165.5 42.9h1.2v1.2h-1.2zM164.8 42.7h1.2v1.2h-1.2zM163.2 42.5h1.2v1.2h-1.2zM156.6 42.6h1.2v1.2h-1.2zM155.1 42.7h1.2v1.2h-1.2zM165.7 42.6h1.2v1.2h-1.2zM165.9 42.4h1.2v1.2h-1.2zM157.9 42.9h1.2v1.2h-1.2zM162.2 42.4h1.2v1.2h-1.2zM154.8 42.9h1.2v1.2h-1.2zM159.3 42.8h1.2v1.2h-1.2zM163.0 42.8h1.2v1.2h-1.2zM158.9 42.8h1.2v1.2h-1.2zM164.3 43.8h1.2v1.2h-1.2zM165.6 43.9h1.2v1.2h-1.2zM156.2 43.4h1.2v1.2h-1.2zM162.9 43.5h1.2v1.2h-1.2zM159.1 43.5h1.2v1.2h-1.2zM156.7 43.1h1.2v1.2h-1.2zM158.8 43.0h1.2v1.2h-1.2zM160.4 43.5h1.2v1.2h-1.2zM165.4 43.5h1.2v1.2h-1.2zM163.8 44.6h1.2v1.2h-1.2zM154.7 44.7h1.2v1.2h-1.2zM155.3 44.9h1.2v1.2h-1.2zM166.5 44.2h1.2v1.2h-1.2zM161.3 44.1h1.2v1.2h-1.2zM161.9 44.8h1.2v1.2h-1.2zM158.8 44.3h1.2v1.2h-1.2zM164.6 44.1h1.2v1.2h-1.2zM161.3 44.1h1.2v1.2h-1.2zM161.7 44.6h1.2v1.2h-1.2zM157.6 45.9h1.2v1.2h-1.2zM163.9 45.9h1.2v1.2h-1.2zM157.2 45.9h1.2v1.2h-1.2zM156.2 46.4h1.2v1.2h-1.2zM161.8 46.5h1.2v1.2h-1.2zM164.6 46.7h1.2v1.2h-1.2zM158.1 47.2h1.2v1.2h-1.2zM155.7 45.1h1.2v1.2h-1.2zM157.4 46.4h1.2v1.2h-1.2zM159.6 43.9h1.2v1.2h-1.2zM162.3 44.5h1.2v1.2h-1.2zM164.0 43.4h1.2v1.2h-1.2zM166.2 45.9h1.2v1.2h-1.2zM165.1 47.9h1.2v1.2h-1.2zM154.1 48.9h1.2v1.2h-1.2zM155.2 51.4h1.2v1.2h-1.2zM165.1 51.1h1.2v1.2h-1.2zM156.4 43.0h1.2v1.2h-1.2zM166.4 42.8h1.2v1.2h-1.2zM154.4 43.6h1.2v1.2h-1.2zM159.0 56.6h1.2v1.2h-1.2zM161.8 57.9h1.2v1.2h-1.2zM157.4 62.6h1.2v1.2h-1.2zM154.1 69.0h1.2v1.2h-1.2zM156.3 71.7h1.2v1.2h-1.2zM157.9 71.0h1.2v1.2h-1.2zM155.7 75.6h1.2v1.2h-1.2zM163.4 71.9h1.2v1.2h-1.2zM162.9 74.9h1.2v1.2h-1.2zM163.4 79.7h1.2v1.2h-1.2zM157.7 82.7h1.2v1.2h-1.2zM162.9 90.7h1.2v1.2h-1.2zM165.1 90.7h1.2v1.2h-1.2zM153.8 92.5h1.2v1.2h-1.2zM165.6 94.3h1.2v1.2h-1.2zM163.4 97.7h1.2v1.2h-1.2zM157.7 100.8h1.2v1.2h-1.2zM155.2 113.1h1.2v1.2h-1.2zM160.7 138.3h1.2v1.2h-1.2zM164.0 138.3h1.2v1.2h-1.2zM160.7 151.9h1.2v1.2h-1.2zM164.5 172.2h1.2v1.2h-1.2z"/>
<path fill="#7CAE00" fill-opacity="1.00" d="M231.1 41.3h1.2v1.2h-1.2zM228.3 41.5h1.2v1.2h-1.2zM226.8 40.8h1.2v1.2h-1.2zM234.8 41.2h1.2v1.2h-1.2zM236.9 41.2h1.2v1.2h-1.2zM226.4 40.8h1.2v1.2h-1.2zM230.0 41.2h1.2v1.2h-1.2zM229.8 41.0h1.2v1.2h-1.2zM233.3 40.9h1.2v1.2h-1.2zM234.2 41.7h1.2v1.2h-1.2zM231.4 40.8h1.2v1.2h-1.2zM238.0 41.0h1.2v1.2h-1.2zM231.1 41.3h1.2v1.2h-1.2zM229.9 41.1h1.2v1.2h-1.2zM236.5 40.7h1.2v1.2h-1.2zM237.6 41.6h1.2v1.2h-1.2zM238.1 40.9h1.2v1.2h-1.2zM227.9 41.1h1.2v1.2h-1.2zM228.3 41.6h1.2v1.2h-1.2zM232.2 41.7h1.2v1.2h-1.2zM239.4 41.6h1.2v1.2h-1.2zM234.4 41.1h1.2v1.2h-1.2zM234.5 41.4h1.2v1.2h-1.2zM230.2 41.5h1.2v1.2h-1.2zM239.8 40.9h1.2v1.2h-1.2zM228.1 41.7h1.2v1.2h-1.2zM233.6 40.8h1.2v1.2h-1.2zM235.2 41.4h1.2v1.2h-1.2zM237.2 40.9h1.2v1.2h-1.2zM237.2 40.9h1.2v1.2h-1.2zM231.1 40.8h1.2v1.2h-1.2zM229.4 41.6h1.2v1.2h-1.2zM239.6 40.8h1.2v1.2h-1.2zM233.5 41.6h1.2v1.2h-1.2zM229.6 40.9h1.2v1.2h-1.2zM227.5 41.0h1.2v1.2h-1.2zM237.1 40.9h1.2v1.2h-1.2zM237.7 41.7h1.2v1.2h-1.2zM233.7 40.8h1.2v1.2h-1.2zM231.0 41.6h1.2v1.2h-1.2zM235.0 41.0h1.2v1.2h-1.2zM239.6 41.7h1.2v1.2h-1.2zM233.8 41.5h1.2v1.2h-1.2zM236.8 41.0h1.2v1.2h-1.2zM238.2 41.2h1.2v1.2h-1.2zM236.4 40.9h1.2v1.2h-1.2zM232.5 41.1h1.2v1.2h-1.2zM228.1 40.7h1.2v1.2h-1.2zM235.5 41.4h1.2v1.2h-1.2zM237.5 41.3h1.2v1.2h-1.2zM239.4 41.0h1.2v1.2h-1.2zM227.7 40.7h1.2v1.2h-1.2zM227.1 41.6h1.2v1.2h-1.2zM234.7 40.8h1.2v1.2h-1.2zM237.4 41.0h1.2v1.2h-1.2zM226.6 42.0h1.2v1.2h-1.2zM234.3 41.9h1.2v1.2h-1.2zM229.3 42.3h1.2v1.2h-1.2zM239.9 41.9h1.2v1.2h-1.2zM230.7 42.0h1.2v1.2h-1.2zM226.7 42.1h1.2v1.2h-1.2zM236.8 41.9h1.2v1.2h-1.2zM229.8 42.3h1.2v1.2h-1.2zM231.5 41.8h1.2v1.2h-1.2zM227.4 42.0h1.2v1.2h-1.2zM230.3 42.0h1.2v1.2h-1.2zM227.4 41.9h1.2v1.2h-1.2zM229.2 42.4h1.2v1.2h-1.2zM233.8 42.0h1.2v1.2h-1.2zM229.8 42.0h1.2v1.2h-1.2zM235.1 42.1h1.2v1.2h-1.2zM238.5 42.4h1.2v1.2h-1.2zM233.8 41.9h1.2v1.2h-1.2zM225.9 42.4h1.2v1.2h-1.2zM239.3 42.5h1.2v1.2h-1.2zM228.3 41.9h1.2v1.2h-1.2zM230.5 41.8h1.2v1.2h-1.2zM233.1 42.3h1.2v1.2h-1.2zM234.4 42.0h1.2v1.2h-1.2zM230.4 41.9h1.2v1.2h-1.2zM231.8 41.8h1.2v1.2h-1.2zM234.5 42.2h1.2v1.2h-1.2zM232.1 42.4h1.2v1.2h-1.2zM229.6 42.4h1.2v1.2h-1.2zM231.4 42.2h1.2v1.2h-1.2zM231.0 42.1h1.2v1.2h-1.2zM229.7 42.5h1.2v1.2h-1.2zM234.1 42.2h1.2v1.2h-1.2zM232.9 42.5h1.2v1.2h-1.2zM231.4 42.3h1.2v1.2h-1.2zM235.7 42.3h1.2v1.2h-1.2zM237.2 42.3h1.2v1.2h-1.2zM234.8 41.8h1.2v1.2h-1.2zM230.4 41.9h1.2v1.2h-1.2zM239.0 41.8h1.2v1.2h-1.2zM227.0 42.4h1.2v1.2h-1.2zM237.1 42.5h1.2v1.2h-1.2zM231.6 42.2h1.2v1.2h-1.2zM231.2 41.8h1.2v1.2h-1.2zM237.6 41.8h1.2v1.2h-1.2zM234.9 42.1h1.2v1.2h-1.2z"/>
<path fill="#7CAE00" fill-opacity="1.00" d="M231.4 46.3h1.2v1.2h-1.2zM230.1 45.6h1.2v1.2h-1.2zM232.8 46.0h1.2v1.2h-1.2zM235.5 46.5h1.2v1.2h-1.2zM238.5 45.7h1.2v1.2h-1.2zM239.0 45.6h1.2v1.2h-1.2zM237.2 45.8h1.2v1.2h-1.2zM230.5 45.8h1.2v1.2h-1.2zM238.2 45.8h1.2v1.2h-1.2zM235.7 45.9h1.2v1.2h-1.2zM228.1 46.3h1.2v1.2h-1.2zM239.1 46.0h1.2v1.2h-1.2zM229.1 46.1h1.2v1.2h-1.2zM235.3 45.6h1.2v1.2h-1.2zM235.5 45.6h1.2v1.2h-1.2zM238.5 46.5h1.2v1.2h-1.2zM235.1 45.8h1.2v1.2h-1.2zM239.6 46.4h1.2v1.2h-1.2zM226.4 45.8h1.2v1.2h-1.2zM226.1 46.1h1.2v1.2h-1.2zM228.4 46.2h1.2v1.2h-1.2zM233.8 45.6h1.2v1.2h-1.2zM231.6 45.6h1.2v1.2h-1.2zM226.8 45.9h1.2v1.2h-1.2zM228.5 45.6h1.2v1.2h-1.2zM233.8 45.8h1.2v1.2h-1.2zM231.3 45.7h1.2v1.2h-1.2zM236.4 45.8h1.2v1.2h-1.2zM232.2 46.0h1.2v1.2h-1.2zM238.1 45.8h1.2v1.2h-1.2zM236.4 45.8h1.2v1.2h-1.2zM232.6 46.0h1.2v1.2h-1.2zM230.7 46.2h1.2v1.2h-1.2zM228.6 45.5h1.2v1.2h-1.2zM229.7 46.5h1.2v1.2h-1.2zM230.6 45.9h1.2v1.2h-1.2zM230.7 46.5h1.2v1.2h-1.2zM228.1 46.6h1.2v1.2h-1.2zM232.3 47.1h1.2v1.2h-1.2zM227.2 46.8h1.2v1.2h-1.2zM237.9 47.1h1.2v1.2h-1.2zM233.4 47.0h1.2v1.2h-1.2zM227.0 46.6h1.2v1.2h-1.2zM230.3 46.8h1.2v1.2h-1.2zM229.2 46.7h1.2v1.2h-1.2zM227.8 46.8h1.2v1.2h-1.2zM232.4 47.0h1.2v1.2h-1.2zM228.2 46.6h1.2v1.2h-1.2zM227.8 47.1h1.2v1.2h-1.2zM235.6 46.8h1.2v1.2h-1.2zM231.7 46.8h1.2v1.2h-1.2zM235.1 47.0h1.2v1.2h-1.2zM232.3 46.7h1.2v1.2h-1.2zM232.8 47.0h1.2v1.2h-1.2zM230.0 46.8h1.2v1.2h-1.2zM231.7 46.8h1.2v1.2h-1.2zM232.4 46.6h1.2v1.2h-1.2zM230.5 46.6h1.2v1.2h-1.2zM237.3 47.1h1.2v1.2h-1.2zM229.1 46.9h1.2v1.2h-1.2zM228.7 46.8h1.2v1.2h-1.2zM230.5 47.0h1.2v1.2h-1.2zM236.7 47.1h1.2v1.2h-1.2zM237.6 46.6h1.2v1.2h-1.2zM233.6 47.2h1.2v1.2h-1.2zM230.7 46.5h1.2v1.2h-1.2zM234.8 46.9h1.2v1.2h-1.2zM237.3 46.7h1.2v1.2h-1.2zM229.0 46.7h1.2v1.2h-1.2zM235.1 46.8h1.2v1.2h-1.2zM235.7 46.9h1.2v1.2h-1.2zM231.1 46.8h1.2v1.2h-1.2zM227.7 47.0h1.2v1.2h-1.2zM234.2 47.2h1.2v1.2h-1.2zM228.6 46.6h1.2v1.2h-1.2zM230.8 46.7h1.2v1.2h-1.2zM233.3 46.9h1.2v1.2h-1.2z"/>
<path fill="#7CAE00" fill-opacity="0.85" d="M226.4 44.2h1.2v1.2h-1.2zM235.4 44.0h1.2v1.2h-1.2zM238.4 44.4h1.2v1.2h-1.2zM229.9 48.7h1.2v1.2h-1.2zM237.8 49.8h1.2v1.2h-1.2zM232.1 52.0h1.2v1.2h-1.2zM231.9 53.6h1.2v1.2h-1.2zM227.7 54.7h1.2v1.2h-1.2zM233.8 56.9h1.2v1.2h-1.2zM231.9 57.5h1.2v1.2h-1.2zM239.8 56.7h1.2v1.2h-1.2zM226.1 65.2h1.2v1.2h-1.2zM233.8 72.1h1.2v1.2h-1.2zM231.2 80.6h1.2v1.2h-1.2zM230.8 86.9h1.2v1.2h-1.2zM227.5 99.9h1.2v1.2h-1.2zM228.4 48.2h1.2v1.2h-1.2zM235.9 48.4h1.2v1.2h-1.2z"/>
<path fill="#00BFC4" fill-opacity="1.00" d="M307.1 40.4h1.2v1.2h-1.2zM307.8 40.8h1.2v1.2h-1.2zM310.5 41.2h1.2v1.2h-1.2zM304.9 40.3h1.2v1.2h-1.2zM302.2 40.9h1.2v1.2h-1.2zM302.3 40.3h1.2v1.2h-1.2zM300.7 40.9h1.2v1.2h-1.2zM306.8 40.4h1.2v1.2h-1.2zM311.2 41.0h1.2v1.2h-1.2zM299.0 40.7h1.2v1.2h-1.2zM303.3 41.0h1.2v1.2h-1.2zM302.8 40.6h1.2v1.2h-1.2zM298.9 40.4h1.2v1.2h-1.2zM306.2 40.5h1.2v1.2h-1.2zM311.8 40.6h1.2v1.2h-1.2zM301.7 40.5h1.2v1.2h-1.2zM308.1 40.5h1.2v1.2h-1.2zM310.6 40.8h1.2v1.2h-1.2zM301.6 40.7h1.2v1.2h-1.2zM310.8 41.1h1.2v1.2h-1.2zM308.4 40.8h1.2v1.2h-1.2zM307.0 40.8h1.2v1.2h-1.2zM300.6 41.0h1.2v1.2h-1.2zM301.7 41.2h1.2v1.2h-1.2zM299.2 40.9h1.2v1.2h-1.2zM310.5 40.3h1.2v1.2h-1.2zM309.3 40.8h1.2v1.2h-1.2zM299.0 40.3h1.2v1.2h-1.2zM305.3 40.9h1.2v1.2h-1.2zM300.8 40.4h1.2v1.2h-1.2zM308.7 40.8h1.2v1.2h-1.2zM305.9 40.4h1.2v1.2h-1.2zM311.2 41.2h1.2v1.2h-1.2zM308.1 40.4h1.2v1.2h-1.2zM299.2 41.0h1.2v1.2h-1.2zM303.1 41.0h1.2v1.2h-1.2zM306.0 40.6h1.2v1.2h-1.2zM310.7 40.9h1.2v1.2h-1.2zM303.1 40.6h1.2v1.2h-1.2zM300.5 40.6h1.2v1.2h-1.2zM301.8 40.6h1.2v1.2h-1.2zM301.3 40.3h1.2v1.2h-1.2zM300.0 41.0h1.2v1.2h-1.2zM302.7 40.4h1.2v1.2h-1.2zM301.3 40.5h1.2v1.2h-1.2zM305.0 40.4h1.2v1.2h-1.2zM310.5 41.1h1.2v1.2h-1.2zM311.4 40.8h1.2v1.2h-1.2zM300.1 40.8h1.2v1.2h-1.2zM305.9 40.9h1.2v1.2h-1.2zM307.4 41.1h1.2v1.2h-1.2zM300.0 40.9h1.2v1.2h-1.2zM305.4 40.8h1.2v1.2h-1.2zM300.6 40.6h1.2v1.2h-1.2zM303.0 40.8h1.2v1.2h-1.2zM302.4 41.3h1.2v1.2h-1.2zM309.4 40.9h1.2v1.2h-1.2zM301.1 40.8h1.2v1.2h-1.2zM305.5 41.2h1.2v1.2h-1.2zM306.1 40.4h1.2v1.2h-1.2zM302.5 40.4h1.2v1.2h-1.2zM311.0 41.1h1.2v1.2h-1.2zM302.5 41.2h1.2v1.2h-1.2zM302.4 40.4h1.2v1.2h-1.2zM307.6 40.3h1.2v1.2h-1.2zM304.7 40.3h1.2v1.2h-1.2zM308.1 40.9h1.2v1.2h-1.2zM300.0 40.4h1.2v1.2h-1.2zM299.9 40.9h1.2v1.2h-1.2zM308.3 41.6h1.2v1.2h-1.2zM303.3 41.4h1.2v1.2h-1.2zM310.0 41.5h1.2v1.2h-1.2zM301.1 41.4h1.2v1.2h-1.2zM301.2 41.4h1.2v1.2h-1.2zM310.1 41.5h1.2v1.2h-1.2zM302.9 41.3h1.2v1.2h-1.2zM299.4 41.5h1.2v1.2h-1.2zM300.9 41.4h1.2v1.2h-1.2zM308.7 41.4h1.2v1.2h-1.2zM301.6 41.4h1.2v1.2h-1.2zM305.7 41.4h1.2v1.2h-1.2zM309.7 41.6h1.2v1.2h-1.2zM306.5 41.7h1.2v1.2h-1.2zM308.5 41.4h1.2v1.2h-1.2zM311.7 41.6h1.2v1.2h-1.2zM302.0 41.5h1.2v1.2h-1.2zM310.2 41.3h1.2v1.2h-1.2zM305.6 41.3h1.2v1.2h-1.2zM300.7 41.7h1.2v1.2h-1.2zM299.7 41.4h1.2v1.2h-1.2zM302.5 41.3h1.2v1.2h-1.2z"/>
<path fill="#00BFC4" fill-opacity="0.85" d="M300.9 45.8h1.2v1.2h-1.2zM305.8 43.9h1.2v1.2h-1.2zM307.4 45.8h1.2v1.2h-1.2zM310.2 45.8h1.2v1.2h-1.2zM308.3 47.4h1.2v1.2h-1.2zM311.0 51.7h1.2v1.2h-1.2z"/>
<circle cx="88.90" cy="102.90" r="1.6" fill="#000"/>
<circle cx="161.30" cy="50.60" r="1.6" fill="#000"/>
<circle cx="233.50" cy="43.20" r="1.6" fill="#000"/>
<circle cx="305.60" cy="41.90" r="1.6" fill="#000"/>
<path d="M45.70,33.20 L45.70,204.60 L349.20,204.60" fill="none" stroke="#333333" stroke-width="1.3"/>
<text transform="translate(407.00,17.80) scale(0.850,1)" font-size="24" fill="#000">B</text>
<text transform="translate(371.9,115.6) rotate(-90)" text-anchor="middle" font-size="16.3" font-weight="bold" fill="#000">Persistence</text>
<text x="400.20" y="45.70" text-anchor="end" font-size="12.2" font-weight="bold" fill="#4d4d4d">1.00</text>
<line x1="402.1" y1="40.90" x2="405.0" y2="40.90" stroke="#333333" stroke-width="1.2"/>
<text x="400.20" y="83.08" text-anchor="end" font-size="12.2" font-weight="bold" fill="#4d4d4d">0.75</text>
<line x1="402.1" y1="78.28" x2="405.0" y2="78.28" stroke="#333333" stroke-width="1.2"/>
<text x="400.20" y="120.45" text-anchor="end" font-size="12.2" font-weight="bold" fill="#4d4d4d">0.50</text>
<line x1="402.1" y1="115.65" x2="405.0" y2="115.65" stroke="#333333" stroke-width="1.2"/>
<text x="400.20" y="157.83" text-anchor="end" font-size="12.2" font-weight="bold" fill="#4d4d4d">0.25</text>
<line x1="402.1" y1="153.03" x2="405.0" y2="153.03" stroke="#333333" stroke-width="1.2"/>
<text x="400.20" y="195.20" text-anchor="end" font-size="12.2" font-weight="bold" fill="#4d4d4d">0.00</text>
<line x1="402.1" y1="190.40" x2="405.0" y2="190.40" stroke="#333333" stroke-width="1.2"/>
<line x1="448.10" y1="198.1" x2="448.10" y2="201.0" stroke="#333333" stroke-width="1.1"/>
<text transform="translate(456.80,203.10) rotate(-90) scale(1,0.910)" text-anchor="end" font-size="12.397" fill="#2e2e2e" stroke="#2e2e2e" stroke-width="0.3">All (N=3047)</text>
<line x1="520.20" y1="198.1" x2="520.20" y2="201.0" stroke="#333333" stroke-width="1.1"/>
<text transform="translate(528.90,203.10) rotate(-90) scale(1,0.910)" text-anchor="end" font-size="12.65" fill="#2e2e2e" stroke="#2e2e2e" stroke-width="0.3">GEM-Essential (N=411)</text>
<line x1="592.20" y1="198.1" x2="592.20" y2="201.0" stroke="#333333" stroke-width="1.1"/>
<text transform="translate(601.00,203.10) rotate(-90) scale(1,0.910)" text-anchor="end" font-size="12.65" fill="#2e2e2e" stroke="#2e2e2e" stroke-width="0.3">Exp-Essential (N=254)</text>
<line x1="664.50" y1="198.1" x2="664.50" y2="201.0" stroke="#333333" stroke-width="1.1"/>
<text transform="translate(673.10,203.10) rotate(-90) scale(1,0.910)" text-anchor="end" font-size="12.65" fill="#2e2e2e" stroke="#2e2e2e" stroke-width="0.3">Exp&amp;GEM-Essential (N=113)</text>
<polygon points="425.60,40.80 425.35,41.20 425.20,41.60 425.15,41.98 425.13,42.37 425.10,42.75 425.06,43.23 425.02,43.72 425.00,44.20 425.03,44.67 425.13,45.14 425.28,45.61 425.47,46.09 425.69,46.56 425.94,47.03 426.20,47.50 426.56,47.98 427.06,48.47 427.65,48.95 428.31,49.43 428.97,49.92 429.60,50.40 430.21,50.88 430.85,51.37 431.50,51.85 432.15,52.33 432.79,52.82 433.40,53.30 434.00,53.79 434.60,54.27 435.20,54.76 435.78,55.24 436.33,55.73 436.84,56.21 437.30,56.70 437.71,57.17 438.10,57.64 438.46,58.11 438.81,58.59 439.13,59.06 439.43,59.53 439.70,60.00 439.96,60.48 440.20,60.96 440.42,61.44 440.64,61.92 440.84,62.40 441.04,62.88 441.23,63.36 441.42,63.84 441.61,64.32 441.80,64.80 441.99,65.26 442.18,65.71 442.38,66.17 442.57,66.63 442.74,67.09 442.88,67.54 443.00,68.00 443.10,68.50 443.20,69.00 443.28,69.50 443.35,70.00 443.42,70.50 443.49,71.00 443.54,71.50 443.60,72.00 443.65,72.49 443.70,72.98 443.75,73.47 443.80,73.97 443.84,74.46 443.89,74.95 443.93,75.44 443.97,75.93 444.00,76.43 444.04,76.92 444.07,77.41 444.10,77.90 444.13,78.39 444.16,78.88 444.19,79.37 444.22,79.86 444.25,80.35 444.29,80.84 444.32,81.33 444.34,81.82 444.37,82.31 444.40,82.80 444.43,83.29 444.45,83.78 444.47,84.27 444.49,84.76 444.51,85.25 444.52,85.74 444.53,86.23 444.54,86.72 444.55,87.21 444.55,87.70 444.55,88.20 444.54,88.69 444.53,89.19 444.52,89.68 444.51,90.17 444.49,90.67 444.47,91.17 444.46,91.66 444.44,92.16 444.41,92.65 444.39,93.14 444.37,93.64 444.35,94.13 444.33,94.63 444.31,95.12 444.30,95.62 444.28,96.11 444.27,96.61 444.26,97.10 444.25,97.60 444.24,98.09 444.24,98.58 444.24,99.08 444.23,99.57 444.23,100.06 444.23,100.55 444.22,101.05 444.22,101.54 444.22,102.03 444.21,102.52 444.21,103.02 444.21,103.51 444.20,104.00 444.19,104.50 444.18,104.99 444.17,105.48 444.15,105.98 444.13,106.47 444.11,106.97 444.08,107.47 444.05,107.96 444.02,108.45 443.99,108.95 443.96,109.45 443.93,109.94 443.90,110.44 443.86,110.93 443.83,111.43 443.79,111.92 443.76,112.42 443.72,112.91 443.68,113.41 443.65,113.90 443.62,114.39 443.58,114.88 443.54,115.37 443.50,115.86 443.46,116.35 443.42,116.84 443.37,117.33 443.33,117.82 443.28,118.31 443.23,118.80 443.19,119.29 443.14,119.78 443.09,120.27 443.04,120.76 442.99,121.25 442.94,121.74 442.89,122.23 442.85,122.72 442.80,123.21 442.75,123.70 442.70,124.20 442.65,124.69 442.61,125.19 442.56,125.68 442.51,126.17 442.46,126.67 442.41,127.17 442.36,127.66 442.31,128.16 442.26,128.65 442.21,129.15 442.15,129.64 442.10,130.13 442.05,130.63 442.00,131.12 441.95,131.62 441.90,132.12 441.85,132.61 441.80,133.10 441.75,133.60 441.70,134.09 441.66,134.58 441.61,135.08 441.57,135.57 441.52,136.06 441.48,136.55 441.43,137.05 441.39,137.54 441.34,138.03 441.28,138.52 441.23,139.02 441.17,139.51 441.10,140.00 441.02,140.49 440.93,140.98 440.82,141.47 440.70,141.96 440.58,142.45 440.46,142.95 440.33,143.44 440.21,143.93 440.10,144.42 439.99,144.91 439.90,145.40 439.82,145.89 439.75,146.39 439.68,146.88 439.62,147.37 439.56,147.87 439.50,148.36 439.44,148.85 439.39,149.35 439.33,149.84 439.27,150.33 439.21,150.83 439.14,151.32 439.07,151.81 438.99,152.31 438.90,152.80 438.81,153.26 438.71,153.73 438.59,154.19 438.47,154.65 438.34,155.11 438.20,155.57 438.05,156.04 437.90,156.50 437.74,156.96 437.56,157.43 437.37,157.89 437.17,158.35 436.95,158.81 436.72,159.27 436.47,159.74 436.20,160.20 435.89,160.67 435.53,161.14 435.13,161.61 434.70,162.09 434.26,162.56 433.82,163.03 433.40,163.50 432.97,163.99 432.54,164.47 432.11,164.96 431.67,165.44 431.22,165.93 430.76,166.41 430.30,166.90 429.83,167.37 429.35,167.84 428.86,168.31 428.36,168.79 427.87,169.26 427.38,169.73 426.90,170.20 426.42,170.69 425.95,171.17 425.48,171.66 425.01,172.14 424.54,172.63 424.08,173.11 423.60,173.60 423.11,174.08 422.61,174.57 422.11,175.05 421.61,175.53 421.14,176.02 420.70,176.50 420.28,177.00 419.88,177.50 419.49,178.00 419.12,178.50 418.76,179.00 418.40,179.50 418.03,180.00 417.65,180.50 417.29,181.00 416.96,181.50 416.70,182.00 416.49,182.45 416.29,182.90 416.10,183.35 415.94,183.80 415.84,184.25 415.80,184.70 415.80,185.16 415.80,185.62 415.80,186.08 415.80,186.54 415.80,187.00 415.84,187.40 415.95,187.80 416.11,188.20 416.30,188.60 416.60,189.03 417.06,189.47 417.60,189.90 478.80,189.90 479.34,189.47 479.80,189.03 480.10,188.60 480.29,188.20 480.45,187.80 480.56,187.40 480.60,187.00 480.60,186.54 480.60,186.08 480.60,185.62 480.60,185.16 480.60,184.70 480.56,184.25 480.46,183.80 480.30,183.35 480.11,182.90 479.91,182.45 479.70,182.00 479.44,181.50 479.11,181.00 478.75,180.50 478.37,180.00 478.00,179.50 477.64,179.00 477.28,178.50 476.91,178.00 476.52,177.50 476.12,177.00 475.70,176.50 475.26,176.02 474.79,175.53 474.29,175.05 473.79,174.57 473.29,174.08 472.80,173.60 472.32,173.11 471.86,172.63 471.39,172.14 470.92,171.66 470.45,171.17 469.98,170.69 469.50,170.20 469.02,169.73 468.53,169.26 468.04,168.79 467.54,168.31 467.05,167.84 466.57,167.37 466.10,166.90 465.64,166.41 465.18,165.93 464.73,165.44 464.29,164.96 463.86,164.47 463.43,163.99 463.00,163.50 462.58,163.03 462.14,162.56 461.70,162.09 461.27,161.61 460.87,161.14 460.51,160.67 460.20,160.20 459.93,159.74 459.68,159.27 459.45,158.81 459.23,158.35 459.03,157.89 458.84,157.43 458.66,156.96 458.50,156.50 458.35,156.04 458.20,155.57 458.06,155.11 457.93,154.65 457.81,154.19 457.69,153.73 457.59,153.26 457.50,152.80 457.41,152.31 457.33,151.81 457.26,151.32 457.19,150.83 457.13,150.33 457.07,149.84 457.01,149.35 456.96,148.85 456.90,148.36 456.84,147.87 456.78,147.37 456.72,146.88 456.65,146.39 456.58,145.89 456.50,145.40 456.41,144.91 456.30,144.42 456.19,143.93 456.07,143.44 455.94,142.95 455.82,142.45 455.70,141.96 455.58,141.47 455.47,140.98 455.38,140.49 455.30,140.00 455.23,139.51 455.17,139.02 455.12,138.52 455.06,138.03 455.01,137.54 454.97,137.05 454.92,136.55 454.88,136.06 454.83,135.57 454.79,135.08 454.74,134.58 454.70,134.09 454.65,133.60 454.60,133.10 454.55,132.61 454.50,132.12 454.45,131.62 454.40,131.12 454.35,130.63 454.30,130.13 454.25,129.64 454.19,129.15 454.14,128.65 454.09,128.16 454.04,127.66 453.99,127.17 453.94,126.67 453.89,126.17 453.84,125.68 453.79,125.19 453.75,124.69 453.70,124.20 453.65,123.70 453.60,123.21 453.55,122.72 453.51,122.23 453.46,121.74 453.41,121.25 453.36,120.76 453.31,120.27 453.26,119.78 453.21,119.29 453.17,118.80 453.12,118.31 453.07,117.82 453.03,117.33 452.98,116.84 452.94,116.35 452.90,115.86 452.86,115.37 452.82,114.88 452.78,114.39 452.75,113.90 452.72,113.41 452.68,112.91 452.64,112.42 452.61,111.92 452.57,111.43 452.54,110.93 452.50,110.44 452.47,109.94 452.44,109.45 452.41,108.95 452.38,108.45 452.35,107.96 452.32,107.47 452.29,106.97 452.27,106.47 452.25,105.98 452.23,105.48 452.22,104.99 452.21,104.50 452.20,104.00 452.19,103.51 452.19,103.02 452.19,102.52 452.18,102.03 452.18,101.54 452.18,101.05 452.17,100.55 452.17,100.06 452.17,99.57 452.16,99.08 452.16,98.58 452.16,98.09 452.15,97.60 452.14,97.10 452.13,96.61 452.12,96.11 452.10,95.62 452.09,95.12 452.07,94.63 452.05,94.13 452.03,93.64 452.01,93.14 451.99,92.65 451.96,92.16 451.94,91.66 451.93,91.17 451.91,90.67 451.89,90.17 451.88,89.68 451.87,89.19 451.86,88.69 451.85,88.20 451.85,87.70 451.85,87.21 451.86,86.72 451.87,86.23 451.88,85.74 451.89,85.25 451.91,84.76 451.93,84.27 451.95,83.78 451.97,83.29 452.00,82.80 452.03,82.31 452.06,81.82 452.08,81.33 452.11,80.84 452.15,80.35 452.18,79.86 452.21,79.37 452.24,78.88 452.27,78.39 452.30,77.90 452.33,77.41 452.36,76.92 452.40,76.43 452.43,75.93 452.47,75.44 452.51,74.95 452.56,74.46 452.60,73.97 452.65,73.47 452.70,72.98 452.75,72.49 452.80,72.00 452.86,71.50 452.91,71.00 452.98,70.50 453.05,70.00 453.12,69.50 453.20,69.00 453.30,68.50 453.40,68.00 453.52,67.54 453.66,67.09 453.83,66.63 454.02,66.17 454.22,65.71 454.41,65.26 454.60,64.80 454.79,64.32 454.98,63.84 455.17,63.36 455.36,62.88 455.56,62.40 455.76,61.92 455.98,61.44 456.20,60.96 456.44,60.48 456.70,60.00 456.97,59.53 457.27,59.06 457.59,58.59 457.94,58.11 458.30,57.64 458.69,57.17 459.10,56.70 459.56,56.21 460.07,55.73 460.62,55.24 461.20,54.76 461.80,54.27 462.40,53.79 463.00,53.30 463.61,52.82 464.25,52.33 464.90,51.85 465.55,51.37 466.19,50.88 466.80,50.40 467.43,49.92 468.09,49.43 468.75,48.95 469.34,48.47 469.84,47.98 470.20,47.50 470.46,47.03 470.71,46.56 470.93,46.09 471.12,45.61 471.27,45.14 471.37,44.67 471.40,44.20 471.38,43.72 471.34,43.23 471.30,42.75 471.27,42.37 471.25,41.98 471.20,41.60 471.05,41.20 470.80,40.80" fill="none" stroke="#555555" stroke-width="0.90" stroke-linejoin="round"/>
<polygon points="488.00,40.90 488.70,41.40 498.30,41.80 508.30,42.20 514.30,42.70 516.38,43.05 517.70,43.40 518.84,43.90 519.50,44.40 519.85,44.90 520.10,45.40 520.20,45.90 520.20,46.40 520.20,46.89 520.20,47.39 520.20,47.88 520.20,48.38 520.20,48.87 520.20,49.37 520.20,49.86 520.20,50.36 520.20,50.85 520.20,51.35 520.20,51.84 520.20,52.34 520.20,52.84 520.20,53.33 520.20,53.83 520.20,54.32 520.20,54.82 520.20,55.31 520.20,55.81 520.20,56.30 520.20,56.80 520.20,57.29 520.20,57.79 520.20,58.29 520.20,58.78 520.20,59.28 520.20,59.77 520.20,60.27 520.20,60.76 520.20,61.26 520.20,61.75 520.20,62.25 520.20,62.74 520.20,63.24 520.20,63.73 520.20,64.23 520.20,64.73 520.20,65.22 520.20,65.72 520.20,66.21 520.20,66.71 520.20,67.20 520.20,67.70 520.20,68.19 520.20,68.69 520.20,69.18 520.20,69.68 520.20,70.17 520.20,70.67 520.20,71.17 520.20,71.66 520.20,72.16 520.20,72.65 520.20,73.15 520.20,73.64 520.20,74.14 520.20,74.63 520.20,75.13 520.20,75.62 520.20,76.12 520.20,76.61 520.20,77.11 520.20,77.61 520.20,78.10 520.20,78.60 520.20,79.09 520.20,79.59 520.20,80.08 520.20,80.58 520.20,81.07 520.20,81.57 520.20,82.06 520.20,82.56 520.20,83.06 520.20,83.55 520.20,84.05 520.20,84.54 520.20,85.04 520.20,85.53 520.20,86.03 520.20,86.52 520.20,87.02 520.20,87.51 520.20,88.01 520.20,88.50 520.20,89.00 520.10,89.43 519.90,89.87 519.80,90.30 519.90,90.73 520.10,91.17 520.20,91.60 520.20,92.10 520.20,92.60 520.20,93.10 520.20,93.60 520.20,94.10 520.20,94.60 520.20,95.10 520.20,95.60 520.20,96.10 520.20,96.60 520.20,97.10 520.20,97.60 520.20,98.10 520.20,98.60 520.20,99.10 520.20,99.60 520.20,100.10 520.20,100.60 520.20,101.10 520.20,101.60 520.20,102.10 520.20,102.60 520.20,103.10 520.20,103.60 520.20,104.10 520.20,104.60 520.20,105.10 520.20,105.60 520.20,106.10 520.20,106.60 520.20,107.10 520.20,107.60 520.20,108.10 520.20,108.60 520.20,109.10 520.20,109.60 520.20,110.10 520.20,110.60 520.20,111.10 520.20,111.60 520.20,112.10 520.20,112.60 520.20,113.10 520.20,113.60 520.20,114.10 520.20,114.60 520.20,115.10 520.20,115.60 520.20,116.10 520.20,116.60 520.20,117.10 520.20,117.60 520.20,118.10 520.20,118.60 520.20,119.10 520.20,119.60 520.20,120.10 520.20,120.60 520.20,121.10 520.20,121.60 520.20,122.10 520.20,122.60 520.20,123.10 520.20,123.60 520.20,124.10 520.20,124.60 520.20,125.10 520.20,125.60 520.20,126.10 520.20,126.60 520.20,127.10 520.20,127.60 520.20,128.10 520.20,128.60 520.20,129.10 520.20,129.60 520.20,130.10 520.20,130.60 520.20,131.10 520.20,131.60 520.20,132.10 520.20,132.60 520.20,133.10 520.20,133.60 520.20,134.10 520.20,134.60 520.20,135.10 520.20,135.60 520.20,136.10 520.20,136.60 520.20,137.10 520.20,137.60 520.20,138.10 520.20,138.60 520.20,139.10 520.20,139.60 520.20,140.10 520.20,140.60 520.20,141.10 520.20,141.60 520.20,142.10 520.20,142.60 520.20,143.10 520.20,143.60 520.20,144.10 520.20,144.60 520.20,145.10 520.20,145.60 520.20,146.10 520.20,146.60 520.20,147.10 520.20,147.60 520.20,148.10 520.20,148.60 520.20,149.10 520.20,149.60 520.20,150.10 520.20,150.60 520.20,151.10 520.20,151.60 520.20,152.10 520.20,152.60 520.20,153.10 520.20,153.60 520.20,154.10 520.20,154.60 520.20,155.10 520.20,155.60 520.20,156.10 520.20,156.60 520.20,157.10 520.20,157.60 520.20,158.10 520.20,158.60 520.40,158.60 520.40,158.10 520.40,157.60 520.40,157.10 520.40,156.60 520.40,156.10 520.40,155.60 520.40,155.10 520.40,154.60 520.40,154.10 520.40,153.60 520.40,153.10 520.40,152.60 520.40,152.10 520.40,151.60 520.40,151.10 520.40,150.60 520.40,150.10 520.40,149.60 520.40,149.10 520.40,148.60 520.40,148.10 520.40,147.60 520.40,147.10 520.40,146.60 520.40,146.10 520.40,145.60 520.40,145.10 520.40,144.60 520.40,144.10 520.40,143.60 520.40,143.10 520.40,142.60 520.40,142.10 520.40,141.60 520.40,141.10 520.40,140.60 520.40,140.10 520.40,139.60 520.40,139.10 520.40,138.60 520.40,138.10 520.40,137.60 520.40,137.10 520.40,136.60 520.40,136.10 520.40,135.60 520.40,135.10 520.40,134.60 520.40,134.10 520.40,133.60 520.40,133.10 520.40,132.60 520.40,132.10 520.40,131.60 520.40,131.10 520.40,130.60 520.40,130.10 520.40,129.60 520.40,129.10 520.40,128.60 520.40,128.10 520.40,127.60 520.40,127.10 520.40,126.60 520.40,126.10 520.40,125.60 520.40,125.10 520.40,124.60 520.40,124.10 520.40,123.60 520.40,123.10 520.40,122.60 520.40,122.10 520.40,121.60 520.40,121.10 520.40,120.60 520.40,120.10 520.40,119.60 520.40,119.10 520.40,118.60 520.40,118.10 520.40,117.60 520.40,117.10 520.40,116.60 520.40,116.10 520.40,115.60 520.40,115.10 520.40,114.60 520.40,114.10 520.40,113.60 520.40,113.10 520.40,112.60 520.40,112.10 520.40,111.60 520.40,111.10 520.40,110.60 520.40,110.10 520.40,109.60 520.40,109.10 520.40,108.60 520.40,108.10 520.40,107.60 520.40,107.10 520.40,106.60 520.40,106.10 520.40,105.60 520.40,105.10 520.40,104.60 520.40,104.10 520.40,103.60 520.40,103.10 520.40,102.60 520.40,102.10 520.40,101.60 520.40,101.10 520.40,100.60 520.40,100.10 520.40,99.60 520.40,99.10 520.40,98.60 520.40,98.10 520.40,97.60 520.40,97.10 520.40,96.60 520.40,96.10 520.40,95.60 520.40,95.10 520.40,94.60 520.40,94.10 520.40,93.60 520.40,93.10 520.40,92.60 520.40,92.10 520.40,91.60 520.50,91.17 520.70,90.73 520.80,90.30 520.70,89.87 520.50,89.43 520.40,89.00 520.40,88.50 520.40,88.01 520.40,87.51 520.40,87.02 520.40,86.52 520.40,86.03 520.40,85.53 520.40,85.04 520.40,84.54 520.40,84.05 520.40,83.55 520.40,83.06 520.40,82.56 520.40,82.06 520.40,81.57 520.40,81.07 520.40,80.58 520.40,80.08 520.40,79.59 520.40,79.09 520.40,78.60 520.40,78.10 520.40,77.61 520.40,77.11 520.40,76.61 520.40,76.12 520.40,75.62 520.40,75.13 520.40,74.63 520.40,74.14 520.40,73.64 520.40,73.15 520.40,72.65 520.40,72.16 520.40,71.66 520.40,71.17 520.40,70.67 520.40,70.17 520.40,69.68 520.40,69.18 520.40,68.69 520.40,68.19 520.40,67.70 520.40,67.20 520.40,66.71 520.40,66.21 520.40,65.72 520.40,65.22 520.40,64.73 520.40,64.23 520.40,63.73 520.40,63.24 520.40,62.74 520.40,62.25 520.40,61.75 520.40,61.26 520.40,60.76 520.40,60.27 520.40,59.77 520.40,59.28 520.40,58.78 520.40,58.29 520.40,57.79 520.40,57.29 520.40,56.80 520.40,56.30 520.40,55.81 520.40,55.31 520.40,54.82 520.40,54.32 520.40,53.83 520.40,53.33 520.40,52.84 520.40,52.34 520.40,51.84 520.40,51.35 520.40,50.85 520.40,50.36 520.40,49.86 520.40,49.37 520.40,48.87 520.40,48.38 520.40,47.88 520.40,47.39 520.40,46.89 520.40,46.40 520.40,45.90 520.50,45.40 520.75,44.90 521.10,44.40 521.76,43.90 522.90,43.40 524.22,43.05 526.30,42.70 532.30,42.20 542.30,41.80 551.90,41.40 552.60,40.90" fill="none" stroke="#555555" stroke-width="0.90" stroke-linejoin="round"/>
<polygon points="560.10,40.90 560.80,41.40 570.40,41.80 580.40,42.20 586.40,42.70 588.48,43.05 589.80,43.40 590.94,43.90 591.60,44.40 591.95,44.90 592.20,45.40 592.30,45.90 592.30,46.40 592.30,46.89 592.30,47.39 592.30,47.88 592.30,48.38 592.30,48.88 592.30,49.37 592.30,49.87 592.30,50.36 592.30,50.86 592.30,51.36 592.30,51.85 592.30,52.35 592.30,52.85 592.30,53.34 592.30,53.84 592.30,54.33 592.30,54.83 592.30,55.33 592.30,55.82 592.30,56.32 592.30,56.81 592.30,57.31 592.30,57.81 592.30,58.30 592.30,58.80 592.30,59.29 592.30,59.79 592.30,60.29 592.30,60.78 592.30,61.28 592.30,61.77 592.30,62.27 592.30,62.77 592.30,63.26 592.30,63.76 592.30,64.25 592.30,64.75 592.30,65.25 592.30,65.74 592.30,66.24 592.30,66.74 592.30,67.23 592.30,67.73 592.30,68.22 592.30,68.72 592.30,69.22 592.30,69.71 592.30,70.21 592.30,70.70 592.30,71.20 592.10,71.65 591.90,72.10 592.10,72.55 592.30,73.00 592.30,73.50 592.30,74.00 592.30,74.50 592.30,75.00 592.30,75.50 592.30,76.00 592.30,76.50 592.30,77.00 592.10,77.45 591.90,77.90 592.10,78.35 592.30,78.80 592.30,79.29 592.30,79.79 592.30,80.28 592.30,80.77 592.30,81.27 592.30,81.76 592.30,82.26 592.30,82.75 592.30,83.24 592.30,83.74 592.30,84.23 592.30,84.72 592.30,85.22 592.30,85.71 592.30,86.21 592.30,86.70 592.30,87.19 592.30,87.69 592.30,88.18 592.30,88.67 592.30,89.17 592.30,89.66 592.30,90.16 592.30,90.65 592.30,91.14 592.30,91.64 592.30,92.13 592.30,92.62 592.30,93.12 592.30,93.61 592.30,94.11 592.30,94.60 592.10,95.05 591.90,95.50 592.10,95.95 592.30,96.40 592.30,96.90 592.30,97.39 592.30,97.89 592.30,98.39 592.30,98.89 592.30,99.38 592.30,99.88 592.30,100.38 592.30,100.88 592.30,101.37 592.30,101.87 592.30,102.37 592.30,102.87 592.30,103.36 592.30,103.86 592.30,104.36 592.30,104.85 592.30,105.35 592.30,105.85 592.30,106.35 592.30,106.84 592.30,107.34 592.30,107.84 592.30,108.34 592.30,108.83 592.30,109.33 592.30,109.83 592.30,110.33 592.30,110.82 592.30,111.32 592.30,111.82 592.30,112.32 592.30,112.81 592.30,113.31 592.30,113.81 592.30,114.30 592.30,114.80 592.30,115.30 592.30,115.80 592.30,116.29 592.30,116.79 592.30,117.29 592.30,117.79 592.30,118.28 592.30,118.78 592.30,119.28 592.30,119.78 592.30,120.27 592.30,120.77 592.30,121.27 592.30,121.76 592.30,122.26 592.30,122.76 592.30,123.26 592.30,123.75 592.30,124.25 592.30,124.75 592.30,125.25 592.30,125.74 592.30,126.24 592.30,126.74 592.30,127.24 592.30,127.73 592.30,128.23 592.30,128.73 592.30,129.23 592.30,129.72 592.30,130.22 592.30,130.72 592.30,131.21 592.30,131.71 592.30,132.21 592.30,132.71 592.30,133.20 592.30,133.70 592.30,134.20 592.30,134.70 592.30,135.19 592.30,135.69 592.30,136.19 592.30,136.69 592.30,137.18 592.30,137.68 592.30,138.18 592.30,138.67 592.30,139.17 592.30,139.67 592.30,140.17 592.30,140.66 592.30,141.16 592.30,141.66 592.30,142.16 592.30,142.65 592.30,143.15 592.30,143.65 592.30,144.15 592.30,144.64 592.30,145.14 592.30,145.64 592.30,146.14 592.30,146.63 592.30,147.13 592.30,147.63 592.30,148.12 592.30,148.62 592.30,149.12 592.30,149.62 592.30,150.11 592.30,150.61 592.30,151.11 592.30,151.61 592.30,152.10 592.30,152.60 592.30,153.10 592.30,153.60 592.30,154.09 592.30,154.59 592.30,155.09 592.30,155.58 592.30,156.08 592.30,156.58 592.30,157.08 592.30,157.57 592.30,158.07 592.30,158.57 592.30,159.07 592.30,159.56 592.30,160.06 592.30,160.56 592.30,161.06 592.30,161.55 592.30,162.05 592.30,162.55 592.30,163.05 592.30,163.54 592.30,164.04 592.30,164.54 592.30,165.03 592.30,165.53 592.30,166.03 592.30,166.53 592.30,167.02 592.30,167.52 592.30,168.02 592.30,168.52 592.30,169.01 592.30,169.51 592.30,170.01 592.30,170.51 592.30,171.00 592.30,171.50 592.50,171.50 592.50,171.00 592.50,170.51 592.50,170.01 592.50,169.51 592.50,169.01 592.50,168.52 592.50,168.02 592.50,167.52 592.50,167.02 592.50,166.53 592.50,166.03 592.50,165.53 592.50,165.03 592.50,164.54 592.50,164.04 592.50,163.54 592.50,163.05 592.50,162.55 592.50,162.05 592.50,161.55 592.50,161.06 592.50,160.56 592.50,160.06 592.50,159.56 592.50,159.07 592.50,158.57 592.50,158.07 592.50,157.57 592.50,157.08 592.50,156.58 592.50,156.08 592.50,155.58 592.50,155.09 592.50,154.59 592.50,154.09 592.50,153.60 592.50,153.10 592.50,152.60 592.50,152.10 592.50,151.61 592.50,151.11 592.50,150.61 592.50,150.11 592.50,149.62 592.50,149.12 592.50,148.62 592.50,148.12 592.50,147.63 592.50,147.13 592.50,146.63 592.50,146.14 592.50,145.64 592.50,145.14 592.50,144.64 592.50,144.15 592.50,143.65 592.50,143.15 592.50,142.65 592.50,142.16 592.50,141.66 592.50,141.16 592.50,140.66 592.50,140.17 592.50,139.67 592.50,139.17 592.50,138.67 592.50,138.18 592.50,137.68 592.50,137.18 592.50,136.69 592.50,136.19 592.50,135.69 592.50,135.19 592.50,134.70 592.50,134.20 592.50,133.70 592.50,133.20 592.50,132.71 592.50,132.21 592.50,131.71 592.50,131.21 592.50,130.72 592.50,130.22 592.50,129.72 592.50,129.23 592.50,128.73 592.50,128.23 592.50,127.73 592.50,127.24 592.50,126.74 592.50,126.24 592.50,125.74 592.50,125.25 592.50,124.75 592.50,124.25 592.50,123.75 592.50,123.26 592.50,122.76 592.50,122.26 592.50,121.76 592.50,121.27 592.50,120.77 592.50,120.27 592.50,119.78 592.50,119.28 592.50,118.78 592.50,118.28 592.50,117.79 592.50,117.29 592.50,116.79 592.50,116.29 592.50,115.80 592.50,115.30 592.50,114.80 592.50,114.30 592.50,113.81 592.50,113.31 592.50,112.81 592.50,112.32 592.50,111.82 592.50,111.32 592.50,110.82 592.50,110.33 592.50,109.83 592.50,109.33 592.50,108.83 592.50,108.34 592.50,107.84 592.50,107.34 592.50,106.84 592.50,106.35 592.50,105.85 592.50,105.35 592.50,104.85 592.50,104.36 592.50,103.86 592.50,103.36 592.50,102.87 592.50,102.37 592.50,101.87 592.50,101.37 592.50,100.88 592.50,100.38 592.50,99.88 592.50,99.38 592.50,98.89 592.50,98.39 592.50,97.89 592.50,97.39 592.50,96.90 592.50,96.40 592.70,95.95 592.90,95.50 592.70,95.05 592.50,94.60 592.50,94.11 592.50,93.61 592.50,93.12 592.50,92.62 592.50,92.13 592.50,91.64 592.50,91.14 592.50,90.65 592.50,90.16 592.50,89.66 592.50,89.17 592.50,88.67 592.50,88.18 592.50,87.69 592.50,87.19 592.50,86.70 592.50,86.21 592.50,85.71 592.50,85.22 592.50,84.72 592.50,84.23 592.50,83.74 592.50,83.24 592.50,82.75 592.50,82.26 592.50,81.76 592.50,81.27 592.50,80.77 592.50,80.28 592.50,79.79 592.50,79.29 592.50,78.80 592.70,78.35 592.90,77.90 592.70,77.45 592.50,77.00 592.50,76.50 592.50,76.00 592.50,75.50 592.50,75.00 592.50,74.50 592.50,74.00 592.50,73.50 592.50,73.00 592.70,72.55 592.90,72.10 592.70,71.65 592.50,71.20 592.50,70.70 592.50,70.21 592.50,69.71 592.50,69.22 592.50,68.72 592.50,68.22 592.50,67.73 592.50,67.23 592.50,66.74 592.50,66.24 592.50,65.74 592.50,65.25 592.50,64.75 592.50,64.25 592.50,63.76 592.50,63.26 592.50,62.77 592.50,62.27 592.50,61.77 592.50,61.28 592.50,60.78 592.50,60.29 592.50,59.79 592.50,59.29 592.50,58.80 592.50,58.30 592.50,57.81 592.50,57.31 592.50,56.81 592.50,56.32 592.50,55.82 592.50,55.33 592.50,54.83 592.50,54.33 592.50,53.84 592.50,53.34 592.50,52.85 592.50,52.35 592.50,51.85 592.50,51.36 592.50,50.86 592.50,50.36 592.50,49.87 592.50,49.37 592.50,48.88 592.50,48.38 592.50,47.88 592.50,47.39 592.50,46.89 592.50,46.40 592.50,45.90 592.60,45.40 592.85,44.90 593.20,44.40 593.86,43.90 595.00,43.40 596.32,43.05 598.40,42.70 604.40,42.20 614.40,41.80 624.00,41.40 624.70,40.90" fill="none" stroke="#555555" stroke-width="0.90" stroke-linejoin="round"/>
<polygon points="632.20,40.90 632.90,41.40 642.50,41.80 652.50,42.20 658.50,42.70 660.58,43.05 661.90,43.40 663.04,43.90 663.70,44.40 664.05,44.90 664.30,45.40 664.40,45.90 664.40,46.40 664.40,46.89 664.40,47.39 664.40,47.89 664.40,48.38 664.40,48.88 664.40,49.38 664.40,49.88 664.40,50.37 664.40,50.87 664.40,51.37 664.40,51.86 664.40,52.36 664.40,52.86 664.40,53.35 664.40,53.85 664.40,54.35 664.40,54.84 664.40,55.34 664.40,55.84 664.40,56.34 664.40,56.83 664.40,57.33 664.40,57.83 664.40,58.32 664.40,58.82 664.40,59.32 664.40,59.81 664.40,60.31 664.40,60.81 664.40,61.31 664.40,61.80 664.40,62.30 664.40,62.80 664.40,63.29 664.40,63.79 664.40,64.29 664.40,64.78 664.40,65.28 664.40,65.78 664.40,66.27 664.40,66.77 664.40,67.27 664.40,67.77 664.40,68.26 664.40,68.76 664.40,69.26 664.40,69.75 664.40,70.25 664.40,70.75 664.40,71.24 664.40,71.74 664.40,72.24 664.40,72.73 664.40,73.23 664.40,73.73 664.40,74.23 664.40,74.72 664.40,75.22 664.40,75.72 664.40,76.21 664.40,76.71 664.40,77.21 664.40,77.70 664.40,78.20 664.40,78.70 664.40,79.19 664.40,79.69 664.40,80.19 664.40,80.69 664.40,81.18 664.40,81.68 664.40,82.18 664.40,82.67 664.40,83.17 664.40,83.67 664.40,84.16 664.40,84.66 664.40,85.16 664.40,85.66 664.40,86.15 664.40,86.65 664.40,87.15 664.40,87.64 664.40,88.14 664.40,88.64 664.40,89.13 664.40,89.63 664.40,90.13 664.40,90.62 664.40,91.12 664.40,91.62 664.40,92.12 664.40,92.61 664.40,93.11 664.40,93.61 664.40,94.10 664.40,94.60 664.20,95.05 664.00,95.50 664.20,95.95 664.40,96.40 664.40,96.90 664.40,97.40 664.40,97.90 664.40,98.40 664.40,98.90 664.40,99.40 664.40,99.89 664.40,100.39 664.40,100.89 664.40,101.39 664.40,101.89 664.40,102.39 664.40,102.89 664.40,103.39 664.40,103.89 664.40,104.39 664.40,104.89 664.40,105.39 664.40,105.88 664.40,106.38 664.40,106.88 664.40,107.38 664.40,107.88 664.40,108.38 664.40,108.88 664.40,109.38 664.40,109.88 664.40,110.38 664.40,110.88 664.40,111.38 664.40,111.88 664.40,112.37 664.40,112.87 664.40,113.37 664.40,113.87 664.40,114.37 664.40,114.87 664.40,115.37 664.40,115.87 664.40,116.37 664.40,116.87 664.40,117.37 664.40,117.87 664.40,118.36 664.40,118.86 664.40,119.36 664.40,119.86 664.40,120.36 664.40,120.86 664.40,121.36 664.40,121.86 664.40,122.36 664.40,122.86 664.40,123.36 664.40,123.86 664.40,124.36 664.40,124.85 664.40,125.35 664.40,125.85 664.40,126.35 664.40,126.85 664.40,127.35 664.40,127.85 664.40,128.35 664.40,128.85 664.40,129.35 664.40,129.85 664.40,130.35 664.40,130.84 664.40,131.34 664.40,131.84 664.40,132.34 664.40,132.84 664.40,133.34 664.40,133.84 664.40,134.34 664.40,134.84 664.40,135.34 664.40,135.84 664.40,136.34 664.40,136.84 664.40,137.33 664.40,137.83 664.40,138.33 664.40,138.83 664.40,139.33 664.40,139.83 664.40,140.33 664.40,140.83 664.40,141.33 664.40,141.83 664.40,142.33 664.40,142.83 664.40,143.32 664.40,143.82 664.40,144.32 664.40,144.82 664.40,145.32 664.40,145.82 664.40,146.32 664.40,146.82 664.40,147.32 664.40,147.82 664.40,148.32 664.40,148.82 664.40,149.32 664.40,149.81 664.40,150.31 664.40,150.81 664.40,151.31 664.40,151.81 664.40,152.31 664.40,152.81 664.40,153.31 664.40,153.81 664.40,154.31 664.40,154.81 664.40,155.31 664.40,155.80 664.40,156.30 664.40,156.80 664.40,157.30 664.40,157.80 664.40,158.30 664.40,158.80 664.60,158.80 664.60,158.30 664.60,157.80 664.60,157.30 664.60,156.80 664.60,156.30 664.60,155.80 664.60,155.31 664.60,154.81 664.60,154.31 664.60,153.81 664.60,153.31 664.60,152.81 664.60,152.31 664.60,151.81 664.60,151.31 664.60,150.81 664.60,150.31 664.60,149.81 664.60,149.32 664.60,148.82 664.60,148.32 664.60,147.82 664.60,147.32 664.60,146.82 664.60,146.32 664.60,145.82 664.60,145.32 664.60,144.82 664.60,144.32 664.60,143.82 664.60,143.32 664.60,142.83 664.60,142.33 664.60,141.83 664.60,141.33 664.60,140.83 664.60,140.33 664.60,139.83 664.60,139.33 664.60,138.83 664.60,138.33 664.60,137.83 664.60,137.33 664.60,136.84 664.60,136.34 664.60,135.84 664.60,135.34 664.60,134.84 664.60,134.34 664.60,133.84 664.60,133.34 664.60,132.84 664.60,132.34 664.60,131.84 664.60,131.34 664.60,130.84 664.60,130.35 664.60,129.85 664.60,129.35 664.60,128.85 664.60,128.35 664.60,127.85 664.60,127.35 664.60,126.85 664.60,126.35 664.60,125.85 664.60,125.35 664.60,124.85 664.60,124.36 664.60,123.86 664.60,123.36 664.60,122.86 664.60,122.36 664.60,121.86 664.60,121.36 664.60,120.86 664.60,120.36 664.60,119.86 664.60,119.36 664.60,118.86 664.60,118.36 664.60,117.87 664.60,117.37 664.60,116.87 664.60,116.37 664.60,115.87 664.60,115.37 664.60,114.87 664.60,114.37 664.60,113.87 664.60,113.37 664.60,112.87 664.60,112.37 664.60,111.88 664.60,111.38 664.60,110.88 664.60,110.38 664.60,109.88 664.60,109.38 664.60,108.88 664.60,108.38 664.60,107.88 664.60,107.38 664.60,106.88 664.60,106.38 664.60,105.88 664.60,105.39 664.60,104.89 664.60,104.39 664.60,103.89 664.60,103.39 664.60,102.89 664.60,102.39 664.60,101.89 664.60,101.39 664.60,100.89 664.60,100.39 664.60,99.89 664.60,99.40 664.60,98.90 664.60,98.40 664.60,97.90 664.60,97.40 664.60,96.90 664.60,96.40 664.80,95.95 665.00,95.50 664.80,95.05 664.60,94.60 664.60,94.10 664.60,93.61 664.60,93.11 664.60,92.61 664.60,92.12 664.60,91.62 664.60,91.12 664.60,90.62 664.60,90.13 664.60,89.63 664.60,89.13 664.60,88.64 664.60,88.14 664.60,87.64 664.60,87.15 664.60,86.65 664.60,86.15 664.60,85.66 664.60,85.16 664.60,84.66 664.60,84.16 664.60,83.67 664.60,83.17 664.60,82.67 664.60,82.18 664.60,81.68 664.60,81.18 664.60,80.69 664.60,80.19 664.60,79.69 664.60,79.19 664.60,78.70 664.60,78.20 664.60,77.70 664.60,77.21 664.60,76.71 664.60,76.21 664.60,75.72 664.60,75.22 664.60,74.72 664.60,74.23 664.60,73.73 664.60,73.23 664.60,72.73 664.60,72.24 664.60,71.74 664.60,71.24 664.60,70.75 664.60,70.25 664.60,69.75 664.60,69.26 664.60,68.76 664.60,68.26 664.60,67.77 664.60,67.27 664.60,66.77 664.60,66.27 664.60,65.78 664.60,65.28 664.60,64.78 664.60,64.29 664.60,63.79 664.60,63.29 664.60,62.80 664.60,62.30 664.60,61.80 664.60,61.31 664.60,60.81 664.60,60.31 664.60,59.81 664.60,59.32 664.60,58.82 664.60,58.32 664.60,57.83 664.60,57.33 664.60,56.83 664.60,56.34 664.60,55.84 664.60,55.34 664.60,54.84 664.60,54.35 664.60,53.85 664.60,53.35 664.60,52.86 664.60,52.36 664.60,51.86 664.60,51.37 664.60,50.87 664.60,50.37 664.60,49.88 664.60,49.38 664.60,48.88 664.60,48.38 664.60,47.89 664.60,47.39 664.60,46.89 664.60,46.40 664.60,45.90 664.70,45.40 664.95,44.90 665.30,44.40 665.96,43.90 667.10,43.40 668.42,43.05 670.50,42.70 676.50,42.20 686.50,41.80 696.10,41.40 696.80,40.90" fill="none" stroke="#555555" stroke-width="0.90" stroke-linejoin="round"/>
<path fill="#F8766D" fill-opacity="1.00" d="M441.2 40.6h1.2v1.2h-1.2zM448.3 40.0h1.2v1.2h-1.2zM451.7 40.9h1.2v1.2h-1.2zM441.2 40.6h1.2v1.2h-1.2zM448.3 40.4h1.2v1.2h-1.2zM446.8 40.1h1.2v1.2h-1.2zM446.2 40.5h1.2v1.2h-1.2zM448.1 40.9h1.2v1.2h-1.2zM449.4 40.6h1.2v1.2h-1.2zM450.5 40.5h1.2v1.2h-1.2zM453.3 40.6h1.2v1.2h-1.2zM449.8 40.6h1.2v1.2h-1.2zM454.7 40.6h1.2v1.2h-1.2zM449.9 40.2h1.2v1.2h-1.2zM444.3 40.1h1.2v1.2h-1.2zM442.6 40.0h1.2v1.2h-1.2zM441.5 40.8h1.2v1.2h-1.2zM444.3 40.0h1.2v1.2h-1.2zM442.2 40.3h1.2v1.2h-1.2zM450.2 40.6h1.2v1.2h-1.2zM450.3 40.5h1.2v1.2h-1.2zM449.2 40.9h1.2v1.2h-1.2zM445.9 40.2h1.2v1.2h-1.2zM447.1 40.1h1.2v1.2h-1.2zM444.2 40.2h1.2v1.2h-1.2zM453.5 40.5h1.2v1.2h-1.2zM440.7 40.3h1.2v1.2h-1.2zM445.1 40.5h1.2v1.2h-1.2zM448.6 40.7h1.2v1.2h-1.2zM443.1 40.3h1.2v1.2h-1.2zM452.6 40.7h1.2v1.2h-1.2zM447.3 40.0h1.2v1.2h-1.2zM445.8 40.5h1.2v1.2h-1.2zM441.4 40.9h1.2v1.2h-1.2zM444.5 40.9h1.2v1.2h-1.2zM448.9 40.6h1.2v1.2h-1.2zM444.5 41.0h1.2v1.2h-1.2zM441.1 40.2h1.2v1.2h-1.2zM448.7 40.3h1.2v1.2h-1.2zM444.8 40.4h1.2v1.2h-1.2zM452.5 40.5h1.2v1.2h-1.2zM450.3 41.0h1.2v1.2h-1.2zM450.7 41.6h1.2v1.2h-1.2zM453.1 41.2h1.2v1.2h-1.2zM452.0 41.7h1.2v1.2h-1.2zM445.2 41.2h1.2v1.2h-1.2zM448.6 41.2h1.2v1.2h-1.2zM444.2 41.1h1.2v1.2h-1.2zM443.4 41.2h1.2v1.2h-1.2zM443.4 41.5h1.2v1.2h-1.2zM442.1 41.2h1.2v1.2h-1.2zM443.9 41.0h1.2v1.2h-1.2zM443.7 41.5h1.2v1.2h-1.2zM450.1 41.6h1.2v1.2h-1.2zM444.1 41.1h1.2v1.2h-1.2zM441.2 41.3h1.2v1.2h-1.2zM446.5 41.1h1.2v1.2h-1.2zM443.4 41.0h1.2v1.2h-1.2zM450.3 41.3h1.2v1.2h-1.2zM443.6 41.2h1.2v1.2h-1.2zM448.4 41.7h1.2v1.2h-1.2zM443.0 41.0h1.2v1.2h-1.2zM447.3 41.5h1.2v1.2h-1.2zM452.8 41.6h1.2v1.2h-1.2zM444.8 41.3h1.2v1.2h-1.2zM448.0 41.4h1.2v1.2h-1.2zM446.7 41.2h1.2v1.2h-1.2zM441.5 41.2h1.2v1.2h-1.2zM440.8 41.0h1.2v1.2h-1.2zM452.5 41.7h1.2v1.2h-1.2zM445.3 41.0h1.2v1.2h-1.2zM450.2 41.1h1.2v1.2h-1.2zM446.4 41.6h1.2v1.2h-1.2zM452.4 41.4h1.2v1.2h-1.2zM443.3 41.4h1.2v1.2h-1.2zM447.4 41.2h1.2v1.2h-1.2zM448.3 41.1h1.2v1.2h-1.2zM451.8 41.6h1.2v1.2h-1.2zM440.9 41.1h1.2v1.2h-1.2zM445.6 41.2h1.2v1.2h-1.2zM447.2 41.6h1.2v1.2h-1.2zM448.9 41.2h1.2v1.2h-1.2zM442.5 41.8h1.2v1.2h-1.2zM448.2 41.1h1.2v1.2h-1.2zM450.3 41.4h1.2v1.2h-1.2zM450.9 41.4h1.2v1.2h-1.2zM443.7 41.4h1.2v1.2h-1.2zM446.8 41.6h1.2v1.2h-1.2z"/>
<path fill="#F8766D" fill-opacity="0.85" d="M449.3 42.3h1.2v1.2h-1.2zM441.6 42.8h1.2v1.2h-1.2zM448.5 41.9h1.2v1.2h-1.2zM445.5 42.8h1.2v1.2h-1.2zM450.6 41.9h1.2v1.2h-1.2zM450.6 42.0h1.2v1.2h-1.2zM447.6 42.1h1.2v1.2h-1.2zM450.9 42.2h1.2v1.2h-1.2zM442.5 42.8h1.2v1.2h-1.2zM452.1 42.7h1.2v1.2h-1.2zM454.3 42.8h1.2v1.2h-1.2zM453.3 42.3h1.2v1.2h-1.2zM452.0 41.9h1.2v1.2h-1.2zM446.3 42.5h1.2v1.2h-1.2zM453.7 42.8h1.2v1.2h-1.2zM448.5 42.0h1.2v1.2h-1.2zM443.6 42.7h1.2v1.2h-1.2zM448.2 41.9h1.2v1.2h-1.2zM452.6 42.6h1.2v1.2h-1.2zM450.1 42.4h1.2v1.2h-1.2zM452.3 42.8h1.2v1.2h-1.2zM441.0 42.8h1.2v1.2h-1.2zM454.3 41.9h1.2v1.2h-1.2zM453.6 42.4h1.2v1.2h-1.2zM447.6 42.1h1.2v1.2h-1.2zM453.6 43.3h1.2v1.2h-1.2zM443.1 43.3h1.2v1.2h-1.2zM445.7 42.9h1.2v1.2h-1.2zM442.9 43.4h1.2v1.2h-1.2zM450.0 43.8h1.2v1.2h-1.2zM453.5 43.0h1.2v1.2h-1.2zM453.7 43.8h1.2v1.2h-1.2zM441.6 43.4h1.2v1.2h-1.2zM451.4 43.1h1.2v1.2h-1.2zM448.4 43.9h1.2v1.2h-1.2zM443.6 43.4h1.2v1.2h-1.2zM453.2 43.3h1.2v1.2h-1.2zM448.0 43.3h1.2v1.2h-1.2zM441.1 43.8h1.2v1.2h-1.2zM445.8 43.0h1.2v1.2h-1.2zM450.2 43.1h1.2v1.2h-1.2zM452.6 43.2h1.2v1.2h-1.2zM443.3 43.0h1.2v1.2h-1.2zM448.9 43.7h1.2v1.2h-1.2zM441.7 43.4h1.2v1.2h-1.2zM453.4 43.5h1.2v1.2h-1.2zM440.6 43.8h1.2v1.2h-1.2zM454.3 43.4h1.2v1.2h-1.2zM448.5 43.2h1.2v1.2h-1.2zM451.2 43.4h1.2v1.2h-1.2zM450.0 44.1h1.2v1.2h-1.2zM447.7 44.3h1.2v1.2h-1.2zM446.7 44.6h1.2v1.2h-1.2zM443.5 44.1h1.2v1.2h-1.2zM444.6 44.9h1.2v1.2h-1.2zM441.8 44.1h1.2v1.2h-1.2zM444.3 44.2h1.2v1.2h-1.2zM449.8 44.0h1.2v1.2h-1.2zM448.3 44.3h1.2v1.2h-1.2zM448.6 44.3h1.2v1.2h-1.2zM448.0 44.6h1.2v1.2h-1.2zM453.9 44.8h1.2v1.2h-1.2zM452.6 44.1h1.2v1.2h-1.2zM444.2 44.7h1.2v1.2h-1.2zM448.4 44.2h1.2v1.2h-1.2zM454.3 44.3h1.2v1.2h-1.2zM444.3 44.0h1.2v1.2h-1.2zM450.5 44.8h1.2v1.2h-1.2zM449.7 44.3h1.2v1.2h-1.2zM450.0 44.6h1.2v1.2h-1.2zM448.4 43.9h1.2v1.2h-1.2zM451.0 44.6h1.2v1.2h-1.2zM445.8 44.1h1.2v1.2h-1.2zM453.8 44.4h1.2v1.2h-1.2zM448.6 45.4h1.2v1.2h-1.2zM445.3 45.7h1.2v1.2h-1.2zM449.6 45.1h1.2v1.2h-1.2zM450.2 45.4h1.2v1.2h-1.2zM453.6 45.1h1.2v1.2h-1.2zM449.5 45.0h1.2v1.2h-1.2zM447.9 45.4h1.2v1.2h-1.2zM445.5 45.4h1.2v1.2h-1.2zM446.5 45.5h1.2v1.2h-1.2zM444.6 45.8h1.2v1.2h-1.2zM449.3 45.6h1.2v1.2h-1.2zM452.7 45.2h1.2v1.2h-1.2zM448.9 45.4h1.2v1.2h-1.2zM443.4 45.6h1.2v1.2h-1.2zM441.0 45.7h1.2v1.2h-1.2zM453.0 45.6h1.2v1.2h-1.2zM444.7 45.4h1.2v1.2h-1.2zM450.3 45.0h1.2v1.2h-1.2zM453.9 45.8h1.2v1.2h-1.2zM453.8 45.2h1.2v1.2h-1.2zM448.4 45.3h1.2v1.2h-1.2zM453.5 45.8h1.2v1.2h-1.2zM446.2 45.1h1.2v1.2h-1.2zM453.9 46.0h1.2v1.2h-1.2zM450.1 46.4h1.2v1.2h-1.2zM441.6 46.7h1.2v1.2h-1.2zM452.0 46.3h1.2v1.2h-1.2zM442.8 46.7h1.2v1.2h-1.2zM454.7 46.3h1.2v1.2h-1.2zM441.2 46.7h1.2v1.2h-1.2zM451.2 46.0h1.2v1.2h-1.2zM442.7 46.2h1.2v1.2h-1.2zM448.2 46.0h1.2v1.2h-1.2zM445.8 46.6h1.2v1.2h-1.2zM452.9 46.4h1.2v1.2h-1.2zM444.4 46.6h1.2v1.2h-1.2zM450.7 46.1h1.2v1.2h-1.2zM453.9 46.6h1.2v1.2h-1.2zM441.4 46.9h1.2v1.2h-1.2zM450.6 46.0h1.2v1.2h-1.2zM441.7 46.2h1.2v1.2h-1.2zM451.6 46.8h1.2v1.2h-1.2zM452.7 46.8h1.2v1.2h-1.2zM442.5 46.8h1.2v1.2h-1.2zM453.1 46.1h1.2v1.2h-1.2zM446.7 46.5h1.2v1.2h-1.2zM444.9 47.5h1.2v1.2h-1.2zM454.2 47.2h1.2v1.2h-1.2zM446.0 47.3h1.2v1.2h-1.2zM443.5 47.3h1.2v1.2h-1.2zM445.2 47.0h1.2v1.2h-1.2zM453.3 47.0h1.2v1.2h-1.2zM454.5 47.7h1.2v1.2h-1.2zM447.0 48.0h1.2v1.2h-1.2zM447.5 48.2h1.2v1.2h-1.2zM449.0 48.1h1.2v1.2h-1.2zM452.4 48.0h1.2v1.2h-1.2zM440.6 48.8h1.2v1.2h-1.2zM451.8 48.8h1.2v1.2h-1.2zM454.3 48.7h1.2v1.2h-1.2zM446.3 48.2h1.2v1.2h-1.2zM446.7 48.8h1.2v1.2h-1.2zM454.1 48.7h1.2v1.2h-1.2zM446.3 48.2h1.2v1.2h-1.2zM445.8 48.0h1.2v1.2h-1.2zM452.7 48.0h1.2v1.2h-1.2zM447.2 48.3h1.2v1.2h-1.2zM449.7 48.7h1.2v1.2h-1.2zM444.6 49.3h1.2v1.2h-1.2zM450.2 49.8h1.2v1.2h-1.2zM445.7 49.1h1.2v1.2h-1.2zM451.6 49.6h1.2v1.2h-1.2zM447.5 49.2h1.2v1.2h-1.2zM453.6 50.7h1.2v1.2h-1.2zM448.3 49.9h1.2v1.2h-1.2zM452.7 50.1h1.2v1.2h-1.2zM446.8 50.7h1.2v1.2h-1.2zM450.0 50.7h1.2v1.2h-1.2zM444.3 50.9h1.2v1.2h-1.2zM448.8 50.3h1.2v1.2h-1.2zM449.9 49.9h1.2v1.2h-1.2zM443.2 51.5h1.2v1.2h-1.2zM448.2 51.6h1.2v1.2h-1.2zM453.6 51.5h1.2v1.2h-1.2zM443.4 51.4h1.2v1.2h-1.2zM447.4 52.1h1.2v1.2h-1.2zM452.4 52.3h1.2v1.2h-1.2zM446.6 52.3h1.2v1.2h-1.2zM440.9 52.2h1.2v1.2h-1.2zM448.0 52.8h1.2v1.2h-1.2zM447.1 53.0h1.2v1.2h-1.2zM453.7 52.9h1.2v1.2h-1.2zM449.9 53.0h1.2v1.2h-1.2zM451.5 53.5h1.2v1.2h-1.2zM445.7 53.0h1.2v1.2h-1.2zM453.2 54.2h1.2v1.2h-1.2zM452.3 54.0h1.2v1.2h-1.2zM441.8 54.5h1.2v1.2h-1.2zM449.9 54.1h1.2v1.2h-1.2zM453.3 54.3h1.2v1.2h-1.2zM449.7 54.8h1.2v1.2h-1.2zM454.3 54.2h1.2v1.2h-1.2zM444.2 54.2h1.2v1.2h-1.2zM448.8 55.8h1.2v1.2h-1.2zM448.1 55.6h1.2v1.2h-1.2zM444.7 55.9h1.2v1.2h-1.2zM451.6 55.2h1.2v1.2h-1.2zM446.6 55.2h1.2v1.2h-1.2zM449.7 55.0h1.2v1.2h-1.2zM451.6 55.2h1.2v1.2h-1.2zM450.8 55.2h1.2v1.2h-1.2zM441.9 56.1h1.2v1.2h-1.2zM441.3 56.9h1.2v1.2h-1.2zM452.1 56.0h1.2v1.2h-1.2zM449.7 56.0h1.2v1.2h-1.2zM442.6 56.4h1.2v1.2h-1.2zM442.3 56.2h1.2v1.2h-1.2zM447.6 57.7h1.2v1.2h-1.2zM443.0 57.0h1.2v1.2h-1.2zM453.7 57.1h1.2v1.2h-1.2zM443.7 57.5h1.2v1.2h-1.2zM453.9 56.9h1.2v1.2h-1.2zM450.7 58.0h1.2v1.2h-1.2zM448.4 58.4h1.2v1.2h-1.2zM450.0 57.9h1.2v1.2h-1.2zM450.3 58.9h1.2v1.2h-1.2zM444.6 58.5h1.2v1.2h-1.2zM447.4 58.5h1.2v1.2h-1.2zM441.4 58.5h1.2v1.2h-1.2zM441.2 59.2h1.2v1.2h-1.2zM453.9 59.3h1.2v1.2h-1.2zM452.6 59.0h1.2v1.2h-1.2zM451.2 59.8h1.2v1.2h-1.2zM442.0 59.2h1.2v1.2h-1.2zM449.4 60.9h1.2v1.2h-1.2zM450.7 60.1h1.2v1.2h-1.2zM446.6 60.2h1.2v1.2h-1.2zM445.9 60.6h1.2v1.2h-1.2zM450.8 61.2h1.2v1.2h-1.2zM440.6 61.4h1.2v1.2h-1.2zM447.2 61.3h1.2v1.2h-1.2zM444.1 61.6h1.2v1.2h-1.2zM446.8 61.1h1.2v1.2h-1.2zM448.3 61.7h1.2v1.2h-1.2zM446.5 62.4h1.2v1.2h-1.2zM453.0 62.5h1.2v1.2h-1.2zM453.0 62.8h1.2v1.2h-1.2zM451.3 62.3h1.2v1.2h-1.2zM451.8 63.0h1.2v1.2h-1.2zM447.6 63.6h1.2v1.2h-1.2zM444.3 64.4h1.2v1.2h-1.2zM452.1 64.7h1.2v1.2h-1.2zM442.2 64.8h1.2v1.2h-1.2zM448.9 64.3h1.2v1.2h-1.2zM449.5 64.0h1.2v1.2h-1.2zM442.0 64.7h1.2v1.2h-1.2zM443.4 64.3h1.2v1.2h-1.2zM450.0 65.5h1.2v1.2h-1.2zM452.7 65.3h1.2v1.2h-1.2zM446.0 65.6h1.2v1.2h-1.2zM448.0 65.4h1.2v1.2h-1.2zM450.6 65.6h1.2v1.2h-1.2zM448.8 65.7h1.2v1.2h-1.2zM447.1 65.5h1.2v1.2h-1.2zM449.6 65.8h1.2v1.2h-1.2zM450.6 65.7h1.2v1.2h-1.2zM451.9 65.8h1.2v1.2h-1.2zM448.5 66.5h1.2v1.2h-1.2zM449.9 67.8h1.2v1.2h-1.2zM443.3 67.8h1.2v1.2h-1.2zM442.8 67.3h1.2v1.2h-1.2zM452.0 67.4h1.2v1.2h-1.2zM443.7 67.4h1.2v1.2h-1.2zM446.7 68.7h1.2v1.2h-1.2zM453.1 68.7h1.2v1.2h-1.2zM442.6 68.8h1.2v1.2h-1.2zM450.1 68.0h1.2v1.2h-1.2zM444.0 68.8h1.2v1.2h-1.2zM449.4 68.9h1.2v1.2h-1.2zM452.1 68.1h1.2v1.2h-1.2zM452.2 69.0h1.2v1.2h-1.2zM451.5 69.7h1.2v1.2h-1.2zM447.9 68.9h1.2v1.2h-1.2zM448.2 69.1h1.2v1.2h-1.2zM442.9 69.1h1.2v1.2h-1.2zM442.2 69.7h1.2v1.2h-1.2zM451.1 70.5h1.2v1.2h-1.2zM441.2 70.5h1.2v1.2h-1.2zM453.7 70.7h1.2v1.2h-1.2zM443.1 70.7h1.2v1.2h-1.2zM450.7 70.2h1.2v1.2h-1.2zM446.9 70.0h1.2v1.2h-1.2zM449.2 70.6h1.2v1.2h-1.2zM451.2 70.9h1.2v1.2h-1.2zM444.7 71.1h1.2v1.2h-1.2zM452.2 72.1h1.2v1.2h-1.2zM451.2 72.2h1.2v1.2h-1.2zM448.7 73.7h1.2v1.2h-1.2zM448.7 73.8h1.2v1.2h-1.2zM446.0 74.6h1.2v1.2h-1.2zM454.3 74.3h1.2v1.2h-1.2zM446.0 74.9h1.2v1.2h-1.2zM443.9 75.4h1.2v1.2h-1.2zM448.4 75.5h1.2v1.2h-1.2zM453.6 75.2h1.2v1.2h-1.2zM453.6 75.0h1.2v1.2h-1.2zM448.7 76.3h1.2v1.2h-1.2zM446.1 76.8h1.2v1.2h-1.2zM451.1 77.1h1.2v1.2h-1.2zM448.4 77.7h1.2v1.2h-1.2zM452.2 77.3h1.2v1.2h-1.2zM452.3 77.2h1.2v1.2h-1.2zM450.5 78.3h1.2v1.2h-1.2zM454.3 78.2h1.2v1.2h-1.2zM449.7 78.7h1.2v1.2h-1.2zM454.3 78.0h1.2v1.2h-1.2zM449.8 78.9h1.2v1.2h-1.2zM443.6 79.8h1.2v1.2h-1.2zM449.4 79.7h1.2v1.2h-1.2zM451.4 80.5h1.2v1.2h-1.2zM446.5 80.2h1.2v1.2h-1.2zM442.9 81.4h1.2v1.2h-1.2zM445.5 81.4h1.2v1.2h-1.2zM451.6 81.5h1.2v1.2h-1.2zM443.4 81.0h1.2v1.2h-1.2zM440.7 81.0h1.2v1.2h-1.2zM453.0 82.9h1.2v1.2h-1.2zM454.3 82.3h1.2v1.2h-1.2zM452.8 82.2h1.2v1.2h-1.2zM451.9 82.2h1.2v1.2h-1.2zM450.9 82.9h1.2v1.2h-1.2zM448.3 83.9h1.2v1.2h-1.2zM449.8 84.7h1.2v1.2h-1.2zM451.1 84.0h1.2v1.2h-1.2zM445.2 84.0h1.2v1.2h-1.2zM443.4 85.7h1.2v1.2h-1.2zM450.4 85.2h1.2v1.2h-1.2zM449.1 85.5h1.2v1.2h-1.2zM454.6 85.2h1.2v1.2h-1.2zM446.4 86.2h1.2v1.2h-1.2zM446.4 86.0h1.2v1.2h-1.2zM442.2 86.5h1.2v1.2h-1.2zM440.7 86.6h1.2v1.2h-1.2zM442.5 86.6h1.2v1.2h-1.2zM448.9 87.3h1.2v1.2h-1.2zM454.2 87.8h1.2v1.2h-1.2zM442.1 87.3h1.2v1.2h-1.2zM442.8 88.6h1.2v1.2h-1.2zM450.2 88.1h1.2v1.2h-1.2zM444.8 88.8h1.2v1.2h-1.2zM441.1 88.1h1.2v1.2h-1.2zM453.1 88.7h1.2v1.2h-1.2zM442.6 88.8h1.2v1.2h-1.2zM446.7 88.1h1.2v1.2h-1.2zM451.2 89.3h1.2v1.2h-1.2zM451.6 89.5h1.2v1.2h-1.2zM454.1 89.6h1.2v1.2h-1.2zM448.9 89.6h1.2v1.2h-1.2zM442.6 89.2h1.2v1.2h-1.2zM441.6 90.2h1.2v1.2h-1.2zM449.6 90.9h1.2v1.2h-1.2zM448.1 89.9h1.2v1.2h-1.2zM444.0 90.8h1.2v1.2h-1.2zM442.8 91.8h1.2v1.2h-1.2zM445.5 91.4h1.2v1.2h-1.2zM444.6 91.7h1.2v1.2h-1.2zM445.5 91.5h1.2v1.2h-1.2zM445.5 91.3h1.2v1.2h-1.2zM451.2 92.7h1.2v1.2h-1.2zM447.1 92.7h1.2v1.2h-1.2zM452.5 92.8h1.2v1.2h-1.2zM447.6 92.3h1.2v1.2h-1.2zM444.6 92.6h1.2v1.2h-1.2zM453.6 92.0h1.2v1.2h-1.2zM449.8 92.0h1.2v1.2h-1.2zM452.5 92.0h1.2v1.2h-1.2zM443.8 93.1h1.2v1.2h-1.2zM454.3 93.7h1.2v1.2h-1.2zM449.5 93.3h1.2v1.2h-1.2zM445.8 94.8h1.2v1.2h-1.2zM444.1 94.4h1.2v1.2h-1.2zM441.9 94.8h1.2v1.2h-1.2zM441.0 94.2h1.2v1.2h-1.2zM443.3 95.2h1.2v1.2h-1.2zM444.9 94.9h1.2v1.2h-1.2zM448.0 95.6h1.2v1.2h-1.2zM446.2 95.5h1.2v1.2h-1.2zM441.1 95.5h1.2v1.2h-1.2zM442.6 95.4h1.2v1.2h-1.2zM440.8 96.7h1.2v1.2h-1.2zM441.1 96.2h1.2v1.2h-1.2zM444.7 96.0h1.2v1.2h-1.2zM449.6 96.3h1.2v1.2h-1.2zM442.7 96.6h1.2v1.2h-1.2zM453.0 96.2h1.2v1.2h-1.2zM454.5 97.2h1.2v1.2h-1.2zM449.2 98.1h1.2v1.2h-1.2zM441.2 98.2h1.2v1.2h-1.2zM443.1 98.6h1.2v1.2h-1.2zM447.8 99.1h1.2v1.2h-1.2zM453.8 99.8h1.2v1.2h-1.2zM454.4 99.4h1.2v1.2h-1.2zM451.0 99.2h1.2v1.2h-1.2zM453.1 100.6h1.2v1.2h-1.2zM441.9 100.0h1.2v1.2h-1.2zM447.7 100.6h1.2v1.2h-1.2zM447.3 100.2h1.2v1.2h-1.2zM443.6 100.6h1.2v1.2h-1.2zM448.5 101.0h1.2v1.2h-1.2zM448.5 101.6h1.2v1.2h-1.2zM454.3 101.8h1.2v1.2h-1.2zM441.5 100.9h1.2v1.2h-1.2zM444.7 101.2h1.2v1.2h-1.2zM442.9 102.7h1.2v1.2h-1.2zM443.7 102.9h1.2v1.2h-1.2zM445.0 102.7h1.2v1.2h-1.2zM445.7 103.4h1.2v1.2h-1.2zM454.1 103.7h1.2v1.2h-1.2zM445.2 103.4h1.2v1.2h-1.2zM447.4 103.6h1.2v1.2h-1.2zM442.9 103.9h1.2v1.2h-1.2zM443.6 104.5h1.2v1.2h-1.2zM443.6 104.7h1.2v1.2h-1.2zM448.6 104.8h1.2v1.2h-1.2zM444.8 104.8h1.2v1.2h-1.2zM444.4 104.2h1.2v1.2h-1.2zM447.9 105.1h1.2v1.2h-1.2zM440.7 105.7h1.2v1.2h-1.2zM452.8 105.8h1.2v1.2h-1.2zM441.2 105.7h1.2v1.2h-1.2zM446.3 105.2h1.2v1.2h-1.2zM454.5 105.9h1.2v1.2h-1.2zM442.9 106.1h1.2v1.2h-1.2zM441.1 106.7h1.2v1.2h-1.2zM447.4 106.6h1.2v1.2h-1.2zM449.5 106.4h1.2v1.2h-1.2zM445.9 107.5h1.2v1.2h-1.2zM443.6 107.9h1.2v1.2h-1.2zM450.3 107.0h1.2v1.2h-1.2zM448.9 107.9h1.2v1.2h-1.2zM445.4 108.6h1.2v1.2h-1.2zM449.2 108.5h1.2v1.2h-1.2zM452.4 108.3h1.2v1.2h-1.2zM447.8 108.7h1.2v1.2h-1.2zM446.0 108.9h1.2v1.2h-1.2zM449.2 108.9h1.2v1.2h-1.2zM447.7 109.5h1.2v1.2h-1.2zM441.9 109.3h1.2v1.2h-1.2zM453.3 109.7h1.2v1.2h-1.2zM442.3 109.9h1.2v1.2h-1.2zM451.0 109.0h1.2v1.2h-1.2zM446.7 110.5h1.2v1.2h-1.2zM451.6 110.0h1.2v1.2h-1.2zM447.9 110.5h1.2v1.2h-1.2zM452.2 110.4h1.2v1.2h-1.2zM447.2 110.5h1.2v1.2h-1.2zM444.0 110.5h1.2v1.2h-1.2zM451.4 110.5h1.2v1.2h-1.2zM452.3 111.8h1.2v1.2h-1.2zM447.6 111.7h1.2v1.2h-1.2zM453.7 111.9h1.2v1.2h-1.2zM450.5 111.4h1.2v1.2h-1.2zM453.7 111.8h1.2v1.2h-1.2zM443.3 111.8h1.2v1.2h-1.2zM453.9 112.3h1.2v1.2h-1.2zM451.4 112.4h1.2v1.2h-1.2zM453.9 112.6h1.2v1.2h-1.2zM445.5 112.5h1.2v1.2h-1.2zM448.4 113.5h1.2v1.2h-1.2zM453.2 113.0h1.2v1.2h-1.2zM450.0 113.4h1.2v1.2h-1.2zM444.6 113.9h1.2v1.2h-1.2zM444.6 113.0h1.2v1.2h-1.2zM453.9 113.7h1.2v1.2h-1.2zM450.0 114.6h1.2v1.2h-1.2zM441.3 114.2h1.2v1.2h-1.2zM444.2 114.1h1.2v1.2h-1.2zM448.4 114.2h1.2v1.2h-1.2zM443.2 114.2h1.2v1.2h-1.2zM447.1 114.9h1.2v1.2h-1.2zM450.0 115.6h1.2v1.2h-1.2zM441.7 115.1h1.2v1.2h-1.2zM444.1 115.8h1.2v1.2h-1.2zM453.0 115.5h1.2v1.2h-1.2zM441.1 115.0h1.2v1.2h-1.2zM442.1 115.8h1.2v1.2h-1.2zM452.1 115.4h1.2v1.2h-1.2zM450.1 116.6h1.2v1.2h-1.2zM447.2 116.3h1.2v1.2h-1.2zM452.7 116.4h1.2v1.2h-1.2zM443.5 116.5h1.2v1.2h-1.2zM440.6 116.7h1.2v1.2h-1.2zM452.0 117.2h1.2v1.2h-1.2zM449.6 117.2h1.2v1.2h-1.2zM445.3 117.7h1.2v1.2h-1.2zM448.7 117.5h1.2v1.2h-1.2zM441.7 118.7h1.2v1.2h-1.2zM444.9 118.1h1.2v1.2h-1.2zM448.6 118.2h1.2v1.2h-1.2zM452.5 118.4h1.2v1.2h-1.2zM445.0 118.0h1.2v1.2h-1.2zM441.4 118.3h1.2v1.2h-1.2zM441.8 118.3h1.2v1.2h-1.2zM444.9 118.0h1.2v1.2h-1.2zM449.4 118.5h1.2v1.2h-1.2zM450.5 119.8h1.2v1.2h-1.2zM450.4 119.3h1.2v1.2h-1.2zM452.9 119.0h1.2v1.2h-1.2zM450.2 119.2h1.2v1.2h-1.2zM450.0 120.1h1.2v1.2h-1.2zM448.9 120.6h1.2v1.2h-1.2zM450.0 120.1h1.2v1.2h-1.2zM450.9 121.1h1.2v1.2h-1.2zM454.4 121.5h1.2v1.2h-1.2zM443.1 122.7h1.2v1.2h-1.2zM449.6 121.9h1.2v1.2h-1.2zM442.3 122.3h1.2v1.2h-1.2zM443.4 122.5h1.2v1.2h-1.2zM453.7 122.7h1.2v1.2h-1.2zM446.2 122.0h1.2v1.2h-1.2zM448.6 122.6h1.2v1.2h-1.2zM443.5 122.2h1.2v1.2h-1.2zM447.7 121.9h1.2v1.2h-1.2zM440.8 122.2h1.2v1.2h-1.2zM448.7 122.5h1.2v1.2h-1.2zM454.0 122.0h1.2v1.2h-1.2zM450.3 123.8h1.2v1.2h-1.2zM449.9 123.9h1.2v1.2h-1.2zM448.4 123.8h1.2v1.2h-1.2zM445.0 123.1h1.2v1.2h-1.2zM451.5 124.8h1.2v1.2h-1.2zM446.0 124.3h1.2v1.2h-1.2zM445.3 124.7h1.2v1.2h-1.2zM448.3 124.3h1.2v1.2h-1.2zM454.3 124.0h1.2v1.2h-1.2zM450.9 125.3h1.2v1.2h-1.2zM450.1 125.2h1.2v1.2h-1.2zM442.3 125.2h1.2v1.2h-1.2zM452.0 126.2h1.2v1.2h-1.2zM446.5 126.8h1.2v1.2h-1.2zM449.4 126.4h1.2v1.2h-1.2zM448.5 126.6h1.2v1.2h-1.2zM451.7 126.8h1.2v1.2h-1.2zM441.0 126.5h1.2v1.2h-1.2zM441.9 126.1h1.2v1.2h-1.2zM444.5 126.2h1.2v1.2h-1.2zM443.4 126.8h1.2v1.2h-1.2zM450.2 127.5h1.2v1.2h-1.2zM442.2 127.0h1.2v1.2h-1.2zM441.8 127.7h1.2v1.2h-1.2zM448.0 127.0h1.2v1.2h-1.2zM441.4 126.9h1.2v1.2h-1.2zM451.8 127.9h1.2v1.2h-1.2zM445.2 127.1h1.2v1.2h-1.2zM444.8 127.5h1.2v1.2h-1.2zM449.0 128.2h1.2v1.2h-1.2zM454.4 127.9h1.2v1.2h-1.2zM444.5 127.9h1.2v1.2h-1.2zM443.7 128.0h1.2v1.2h-1.2zM445.7 129.1h1.2v1.2h-1.2zM451.6 129.6h1.2v1.2h-1.2zM453.8 129.9h1.2v1.2h-1.2zM442.7 129.9h1.2v1.2h-1.2zM440.9 129.3h1.2v1.2h-1.2zM444.8 129.0h1.2v1.2h-1.2zM445.1 129.2h1.2v1.2h-1.2zM451.1 129.0h1.2v1.2h-1.2zM450.2 129.9h1.2v1.2h-1.2zM451.1 129.2h1.2v1.2h-1.2zM446.1 129.7h1.2v1.2h-1.2zM446.6 129.1h1.2v1.2h-1.2zM453.9 130.8h1.2v1.2h-1.2zM441.2 130.8h1.2v1.2h-1.2zM440.8 130.6h1.2v1.2h-1.2zM440.7 130.5h1.2v1.2h-1.2zM452.1 129.9h1.2v1.2h-1.2zM447.9 130.8h1.2v1.2h-1.2zM450.4 130.6h1.2v1.2h-1.2zM449.8 131.8h1.2v1.2h-1.2zM452.0 131.0h1.2v1.2h-1.2zM448.0 131.1h1.2v1.2h-1.2zM445.2 131.8h1.2v1.2h-1.2zM442.1 131.5h1.2v1.2h-1.2zM446.3 131.2h1.2v1.2h-1.2zM443.3 131.7h1.2v1.2h-1.2zM453.7 131.5h1.2v1.2h-1.2zM451.3 131.0h1.2v1.2h-1.2zM444.5 131.1h1.2v1.2h-1.2zM447.8 132.8h1.2v1.2h-1.2zM447.2 132.6h1.2v1.2h-1.2zM449.1 132.1h1.2v1.2h-1.2zM453.9 132.7h1.2v1.2h-1.2zM444.4 132.6h1.2v1.2h-1.2zM449.2 132.2h1.2v1.2h-1.2zM447.7 132.2h1.2v1.2h-1.2zM454.1 133.3h1.2v1.2h-1.2zM443.6 133.1h1.2v1.2h-1.2zM449.7 133.8h1.2v1.2h-1.2zM441.8 133.8h1.2v1.2h-1.2zM448.2 133.3h1.2v1.2h-1.2zM454.1 133.3h1.2v1.2h-1.2zM450.7 133.0h1.2v1.2h-1.2zM440.9 133.9h1.2v1.2h-1.2zM454.5 133.6h1.2v1.2h-1.2zM448.2 133.9h1.2v1.2h-1.2zM448.7 133.5h1.2v1.2h-1.2zM453.9 133.4h1.2v1.2h-1.2zM448.8 133.6h1.2v1.2h-1.2zM443.6 133.8h1.2v1.2h-1.2zM446.6 133.7h1.2v1.2h-1.2zM451.1 133.2h1.2v1.2h-1.2zM446.1 134.0h1.2v1.2h-1.2zM442.9 134.3h1.2v1.2h-1.2zM446.0 134.3h1.2v1.2h-1.2zM442.0 134.9h1.2v1.2h-1.2zM441.9 134.9h1.2v1.2h-1.2zM442.2 134.0h1.2v1.2h-1.2zM447.7 134.7h1.2v1.2h-1.2zM445.1 135.2h1.2v1.2h-1.2zM443.1 135.2h1.2v1.2h-1.2zM451.0 135.3h1.2v1.2h-1.2zM449.2 135.4h1.2v1.2h-1.2zM452.1 135.4h1.2v1.2h-1.2zM442.8 135.6h1.2v1.2h-1.2zM449.3 136.4h1.2v1.2h-1.2zM444.2 136.3h1.2v1.2h-1.2zM447.5 135.9h1.2v1.2h-1.2zM446.8 136.2h1.2v1.2h-1.2zM448.8 136.9h1.2v1.2h-1.2zM448.6 136.5h1.2v1.2h-1.2zM453.5 136.0h1.2v1.2h-1.2zM449.4 136.5h1.2v1.2h-1.2zM445.5 136.6h1.2v1.2h-1.2zM451.8 136.0h1.2v1.2h-1.2zM442.8 137.4h1.2v1.2h-1.2zM451.5 137.7h1.2v1.2h-1.2zM448.7 137.7h1.2v1.2h-1.2zM444.2 137.6h1.2v1.2h-1.2zM451.2 136.9h1.2v1.2h-1.2zM442.1 137.3h1.2v1.2h-1.2zM441.0 137.1h1.2v1.2h-1.2zM444.4 137.4h1.2v1.2h-1.2zM447.7 138.9h1.2v1.2h-1.2zM449.5 138.8h1.2v1.2h-1.2zM445.0 138.4h1.2v1.2h-1.2zM448.7 138.6h1.2v1.2h-1.2zM454.4 138.3h1.2v1.2h-1.2zM454.7 138.7h1.2v1.2h-1.2zM450.7 138.2h1.2v1.2h-1.2zM444.8 139.0h1.2v1.2h-1.2zM447.3 139.2h1.2v1.2h-1.2zM452.0 139.7h1.2v1.2h-1.2zM453.1 139.0h1.2v1.2h-1.2zM454.0 139.3h1.2v1.2h-1.2zM446.0 138.9h1.2v1.2h-1.2zM445.3 139.6h1.2v1.2h-1.2zM445.3 139.0h1.2v1.2h-1.2zM451.6 139.7h1.2v1.2h-1.2zM454.1 139.5h1.2v1.2h-1.2zM448.5 140.8h1.2v1.2h-1.2zM446.8 140.7h1.2v1.2h-1.2zM450.0 140.3h1.2v1.2h-1.2zM446.5 140.7h1.2v1.2h-1.2zM448.6 140.9h1.2v1.2h-1.2zM443.2 140.1h1.2v1.2h-1.2zM441.9 140.5h1.2v1.2h-1.2zM446.3 139.9h1.2v1.2h-1.2zM444.3 140.6h1.2v1.2h-1.2zM442.7 140.0h1.2v1.2h-1.2zM454.2 140.6h1.2v1.2h-1.2zM450.4 139.9h1.2v1.2h-1.2zM446.0 140.3h1.2v1.2h-1.2zM454.6 140.8h1.2v1.2h-1.2zM442.0 141.8h1.2v1.2h-1.2zM445.5 141.1h1.2v1.2h-1.2zM453.1 141.5h1.2v1.2h-1.2zM454.2 141.8h1.2v1.2h-1.2zM451.8 141.8h1.2v1.2h-1.2zM443.1 141.5h1.2v1.2h-1.2zM448.5 141.1h1.2v1.2h-1.2zM441.5 141.4h1.2v1.2h-1.2zM441.4 141.2h1.2v1.2h-1.2zM452.8 141.2h1.2v1.2h-1.2zM440.5 141.9h1.2v1.2h-1.2zM441.9 142.7h1.2v1.2h-1.2zM442.0 141.9h1.2v1.2h-1.2zM450.6 142.5h1.2v1.2h-1.2zM449.4 142.3h1.2v1.2h-1.2zM443.6 142.6h1.2v1.2h-1.2zM446.3 142.5h1.2v1.2h-1.2zM454.0 142.4h1.2v1.2h-1.2zM443.5 143.8h1.2v1.2h-1.2zM441.5 143.5h1.2v1.2h-1.2zM449.7 143.8h1.2v1.2h-1.2zM442.0 143.8h1.2v1.2h-1.2zM448.4 143.6h1.2v1.2h-1.2zM444.1 143.2h1.2v1.2h-1.2zM441.0 143.4h1.2v1.2h-1.2zM449.9 143.0h1.2v1.2h-1.2zM451.2 143.6h1.2v1.2h-1.2zM445.0 143.5h1.2v1.2h-1.2zM442.7 143.7h1.2v1.2h-1.2zM454.4 143.0h1.2v1.2h-1.2zM444.0 143.0h1.2v1.2h-1.2zM444.0 144.0h1.2v1.2h-1.2zM445.7 143.9h1.2v1.2h-1.2zM443.9 144.2h1.2v1.2h-1.2zM444.0 144.2h1.2v1.2h-1.2zM453.6 144.0h1.2v1.2h-1.2zM441.7 144.0h1.2v1.2h-1.2zM452.4 144.1h1.2v1.2h-1.2zM448.1 143.9h1.2v1.2h-1.2zM441.0 144.0h1.2v1.2h-1.2zM442.6 143.9h1.2v1.2h-1.2zM449.8 144.3h1.2v1.2h-1.2zM448.5 144.6h1.2v1.2h-1.2zM443.9 145.4h1.2v1.2h-1.2zM444.6 145.1h1.2v1.2h-1.2zM453.7 144.9h1.2v1.2h-1.2zM451.0 145.1h1.2v1.2h-1.2zM449.9 145.8h1.2v1.2h-1.2zM453.6 145.7h1.2v1.2h-1.2zM443.8 145.5h1.2v1.2h-1.2zM445.2 145.5h1.2v1.2h-1.2zM452.4 145.6h1.2v1.2h-1.2zM446.8 145.7h1.2v1.2h-1.2zM446.8 145.1h1.2v1.2h-1.2zM452.0 145.7h1.2v1.2h-1.2zM454.7 145.5h1.2v1.2h-1.2zM453.1 146.1h1.2v1.2h-1.2zM451.4 146.4h1.2v1.2h-1.2zM446.8 146.9h1.2v1.2h-1.2zM450.5 146.7h1.2v1.2h-1.2zM443.7 146.1h1.2v1.2h-1.2zM444.1 146.0h1.2v1.2h-1.2zM443.4 146.2h1.2v1.2h-1.2zM450.2 146.1h1.2v1.2h-1.2zM454.0 146.0h1.2v1.2h-1.2zM451.2 147.5h1.2v1.2h-1.2zM444.3 147.2h1.2v1.2h-1.2zM449.9 147.9h1.2v1.2h-1.2zM445.5 147.5h1.2v1.2h-1.2zM452.2 147.0h1.2v1.2h-1.2zM447.4 147.7h1.2v1.2h-1.2zM444.0 147.2h1.2v1.2h-1.2zM444.6 147.4h1.2v1.2h-1.2zM441.7 147.2h1.2v1.2h-1.2zM445.6 147.4h1.2v1.2h-1.2zM445.3 147.2h1.2v1.2h-1.2zM447.0 147.2h1.2v1.2h-1.2zM449.8 147.1h1.2v1.2h-1.2zM453.7 147.9h1.2v1.2h-1.2zM452.1 148.3h1.2v1.2h-1.2zM448.6 148.0h1.2v1.2h-1.2zM445.6 148.1h1.2v1.2h-1.2zM442.9 148.3h1.2v1.2h-1.2zM448.9 148.5h1.2v1.2h-1.2zM441.4 148.4h1.2v1.2h-1.2zM441.3 148.3h1.2v1.2h-1.2zM449.6 148.6h1.2v1.2h-1.2zM442.8 149.1h1.2v1.2h-1.2zM452.5 149.5h1.2v1.2h-1.2zM450.0 149.3h1.2v1.2h-1.2zM447.9 149.7h1.2v1.2h-1.2zM453.8 148.9h1.2v1.2h-1.2zM442.4 149.4h1.2v1.2h-1.2zM444.9 149.2h1.2v1.2h-1.2zM447.7 149.1h1.2v1.2h-1.2zM454.2 149.8h1.2v1.2h-1.2zM441.6 149.1h1.2v1.2h-1.2zM449.0 149.7h1.2v1.2h-1.2zM453.6 149.8h1.2v1.2h-1.2zM442.6 149.9h1.2v1.2h-1.2zM450.5 149.0h1.2v1.2h-1.2zM450.3 149.1h1.2v1.2h-1.2zM445.6 150.8h1.2v1.2h-1.2zM448.1 150.5h1.2v1.2h-1.2zM453.8 150.1h1.2v1.2h-1.2zM447.1 150.0h1.2v1.2h-1.2zM447.0 150.6h1.2v1.2h-1.2zM448.5 150.5h1.2v1.2h-1.2zM441.0 151.0h1.2v1.2h-1.2zM452.0 151.9h1.2v1.2h-1.2zM441.2 151.4h1.2v1.2h-1.2zM454.4 151.5h1.2v1.2h-1.2zM454.3 151.1h1.2v1.2h-1.2zM452.1 151.3h1.2v1.2h-1.2zM453.2 151.5h1.2v1.2h-1.2zM449.2 151.6h1.2v1.2h-1.2zM444.8 151.8h1.2v1.2h-1.2zM449.1 152.3h1.2v1.2h-1.2zM450.1 152.2h1.2v1.2h-1.2zM442.5 152.7h1.2v1.2h-1.2zM451.5 152.3h1.2v1.2h-1.2zM444.8 152.3h1.2v1.2h-1.2zM447.8 152.4h1.2v1.2h-1.2zM444.3 152.5h1.2v1.2h-1.2zM444.5 152.3h1.2v1.2h-1.2zM452.9 151.9h1.2v1.2h-1.2zM451.4 152.6h1.2v1.2h-1.2zM441.4 153.4h1.2v1.2h-1.2zM451.4 153.8h1.2v1.2h-1.2zM453.6 153.3h1.2v1.2h-1.2zM450.5 153.4h1.2v1.2h-1.2zM450.3 153.3h1.2v1.2h-1.2zM444.2 153.0h1.2v1.2h-1.2zM450.4 153.2h1.2v1.2h-1.2zM445.9 153.8h1.2v1.2h-1.2zM453.6 153.8h1.2v1.2h-1.2zM450.5 153.2h1.2v1.2h-1.2zM445.1 154.6h1.2v1.2h-1.2zM453.0 153.9h1.2v1.2h-1.2zM451.5 154.3h1.2v1.2h-1.2zM443.4 154.3h1.2v1.2h-1.2zM443.5 154.3h1.2v1.2h-1.2zM440.7 154.8h1.2v1.2h-1.2zM451.4 154.3h1.2v1.2h-1.2zM441.7 153.9h1.2v1.2h-1.2zM444.4 154.0h1.2v1.2h-1.2zM451.0 154.6h1.2v1.2h-1.2zM444.8 154.0h1.2v1.2h-1.2zM444.6 154.0h1.2v1.2h-1.2zM441.4 154.1h1.2v1.2h-1.2zM441.2 154.9h1.2v1.2h-1.2zM448.6 154.3h1.2v1.2h-1.2zM442.5 154.0h1.2v1.2h-1.2zM454.2 154.6h1.2v1.2h-1.2zM440.9 154.3h1.2v1.2h-1.2zM445.0 154.5h1.2v1.2h-1.2zM443.1 154.9h1.2v1.2h-1.2zM453.3 155.9h1.2v1.2h-1.2zM451.2 155.4h1.2v1.2h-1.2zM442.1 155.4h1.2v1.2h-1.2zM441.3 155.8h1.2v1.2h-1.2zM441.7 155.9h1.2v1.2h-1.2zM451.0 155.6h1.2v1.2h-1.2zM451.1 155.3h1.2v1.2h-1.2zM449.5 155.3h1.2v1.2h-1.2zM447.4 154.9h1.2v1.2h-1.2zM447.1 155.1h1.2v1.2h-1.2zM449.0 155.7h1.2v1.2h-1.2zM442.0 155.4h1.2v1.2h-1.2zM451.8 155.8h1.2v1.2h-1.2zM451.5 155.6h1.2v1.2h-1.2zM450.2 155.5h1.2v1.2h-1.2zM443.8 155.7h1.2v1.2h-1.2zM443.5 156.4h1.2v1.2h-1.2zM454.4 156.3h1.2v1.2h-1.2zM454.0 156.7h1.2v1.2h-1.2zM451.1 156.0h1.2v1.2h-1.2zM451.7 156.9h1.2v1.2h-1.2zM447.0 156.9h1.2v1.2h-1.2zM453.0 156.7h1.2v1.2h-1.2zM450.3 156.4h1.2v1.2h-1.2zM446.7 156.3h1.2v1.2h-1.2zM450.2 156.3h1.2v1.2h-1.2zM441.6 156.4h1.2v1.2h-1.2zM446.1 156.1h1.2v1.2h-1.2zM452.5 156.7h1.2v1.2h-1.2zM447.3 156.8h1.2v1.2h-1.2zM448.4 157.2h1.2v1.2h-1.2zM448.5 157.8h1.2v1.2h-1.2zM453.9 157.9h1.2v1.2h-1.2zM443.4 157.6h1.2v1.2h-1.2zM450.2 157.9h1.2v1.2h-1.2zM446.9 157.6h1.2v1.2h-1.2zM443.8 157.6h1.2v1.2h-1.2zM441.2 157.4h1.2v1.2h-1.2zM449.2 157.0h1.2v1.2h-1.2zM443.1 157.0h1.2v1.2h-1.2zM448.8 157.7h1.2v1.2h-1.2zM446.6 157.1h1.2v1.2h-1.2zM446.3 157.6h1.2v1.2h-1.2zM453.1 157.1h1.2v1.2h-1.2zM441.8 157.7h1.2v1.2h-1.2zM448.5 157.9h1.2v1.2h-1.2zM446.4 158.6h1.2v1.2h-1.2zM442.6 158.4h1.2v1.2h-1.2zM446.1 158.8h1.2v1.2h-1.2zM452.8 158.0h1.2v1.2h-1.2zM443.3 158.2h1.2v1.2h-1.2zM450.2 158.8h1.2v1.2h-1.2zM444.3 158.7h1.2v1.2h-1.2zM447.9 158.8h1.2v1.2h-1.2zM448.3 158.4h1.2v1.2h-1.2zM441.5 158.6h1.2v1.2h-1.2zM452.0 158.8h1.2v1.2h-1.2zM445.9 158.6h1.2v1.2h-1.2zM443.5 158.0h1.2v1.2h-1.2zM443.5 158.1h1.2v1.2h-1.2zM454.5 157.9h1.2v1.2h-1.2zM453.9 158.0h1.2v1.2h-1.2zM447.2 157.9h1.2v1.2h-1.2zM444.3 158.3h1.2v1.2h-1.2zM450.6 158.5h1.2v1.2h-1.2zM441.3 158.8h1.2v1.2h-1.2zM452.7 158.3h1.2v1.2h-1.2zM440.6 158.1h1.2v1.2h-1.2zM441.2 158.8h1.2v1.2h-1.2zM445.2 159.1h1.2v1.2h-1.2zM447.0 159.8h1.2v1.2h-1.2zM440.6 159.4h1.2v1.2h-1.2zM444.6 158.9h1.2v1.2h-1.2zM454.5 159.2h1.2v1.2h-1.2zM451.5 159.6h1.2v1.2h-1.2zM441.3 159.1h1.2v1.2h-1.2zM452.9 159.7h1.2v1.2h-1.2zM447.1 159.1h1.2v1.2h-1.2zM454.5 159.3h1.2v1.2h-1.2zM445.1 159.2h1.2v1.2h-1.2zM444.9 159.0h1.2v1.2h-1.2zM450.1 159.8h1.2v1.2h-1.2zM447.4 159.2h1.2v1.2h-1.2zM444.4 159.7h1.2v1.2h-1.2zM447.9 159.8h1.2v1.2h-1.2zM449.5 159.2h1.2v1.2h-1.2zM444.9 159.9h1.2v1.2h-1.2zM452.2 160.2h1.2v1.2h-1.2zM451.1 160.1h1.2v1.2h-1.2zM451.2 160.8h1.2v1.2h-1.2zM449.9 160.5h1.2v1.2h-1.2zM443.8 160.6h1.2v1.2h-1.2zM450.5 160.0h1.2v1.2h-1.2zM443.0 160.2h1.2v1.2h-1.2zM442.5 160.8h1.2v1.2h-1.2zM447.7 160.5h1.2v1.2h-1.2zM442.9 160.7h1.2v1.2h-1.2zM442.3 161.8h1.2v1.2h-1.2zM448.9 161.2h1.2v1.2h-1.2zM454.4 161.1h1.2v1.2h-1.2zM441.3 161.5h1.2v1.2h-1.2zM446.8 161.0h1.2v1.2h-1.2zM441.8 161.7h1.2v1.2h-1.2zM448.2 161.6h1.2v1.2h-1.2zM448.7 161.3h1.2v1.2h-1.2zM447.5 161.4h1.2v1.2h-1.2zM441.1 161.4h1.2v1.2h-1.2zM450.5 161.0h1.2v1.2h-1.2zM447.7 161.0h1.2v1.2h-1.2zM448.6 161.3h1.2v1.2h-1.2zM450.0 160.9h1.2v1.2h-1.2zM453.4 161.1h1.2v1.2h-1.2zM446.7 161.3h1.2v1.2h-1.2zM453.5 162.1h1.2v1.2h-1.2zM443.0 162.7h1.2v1.2h-1.2zM446.9 162.7h1.2v1.2h-1.2zM443.0 162.6h1.2v1.2h-1.2zM445.8 162.6h1.2v1.2h-1.2zM453.3 162.2h1.2v1.2h-1.2zM454.3 162.7h1.2v1.2h-1.2zM447.2 162.5h1.2v1.2h-1.2zM444.4 162.1h1.2v1.2h-1.2zM445.1 162.6h1.2v1.2h-1.2zM453.3 162.5h1.2v1.2h-1.2zM446.7 162.5h1.2v1.2h-1.2zM443.3 162.4h1.2v1.2h-1.2zM452.4 162.7h1.2v1.2h-1.2zM447.7 162.6h1.2v1.2h-1.2zM446.6 162.5h1.2v1.2h-1.2zM453.3 162.0h1.2v1.2h-1.2zM451.1 162.1h1.2v1.2h-1.2zM440.7 163.5h1.2v1.2h-1.2zM454.2 163.5h1.2v1.2h-1.2zM447.0 163.7h1.2v1.2h-1.2zM443.1 163.9h1.2v1.2h-1.2zM453.4 163.4h1.2v1.2h-1.2zM446.5 163.2h1.2v1.2h-1.2zM450.2 163.1h1.2v1.2h-1.2zM451.2 163.2h1.2v1.2h-1.2zM443.3 163.3h1.2v1.2h-1.2zM454.5 163.9h1.2v1.2h-1.2zM448.5 163.4h1.2v1.2h-1.2zM441.3 163.6h1.2v1.2h-1.2zM448.1 163.6h1.2v1.2h-1.2zM440.8 162.9h1.2v1.2h-1.2zM454.4 163.1h1.2v1.2h-1.2zM450.0 163.4h1.2v1.2h-1.2zM445.9 163.0h1.2v1.2h-1.2zM451.8 163.1h1.2v1.2h-1.2zM451.8 164.0h1.2v1.2h-1.2zM450.4 164.0h1.2v1.2h-1.2zM443.8 164.7h1.2v1.2h-1.2zM441.8 164.4h1.2v1.2h-1.2zM452.7 164.2h1.2v1.2h-1.2zM453.1 164.6h1.2v1.2h-1.2zM445.4 164.6h1.2v1.2h-1.2zM446.0 164.9h1.2v1.2h-1.2zM446.2 164.0h1.2v1.2h-1.2zM444.4 164.7h1.2v1.2h-1.2zM453.8 164.4h1.2v1.2h-1.2zM448.0 164.1h1.2v1.2h-1.2zM450.6 164.4h1.2v1.2h-1.2zM449.1 163.9h1.2v1.2h-1.2zM441.8 164.0h1.2v1.2h-1.2zM441.5 164.0h1.2v1.2h-1.2zM442.6 164.6h1.2v1.2h-1.2zM447.6 164.6h1.2v1.2h-1.2zM449.4 164.1h1.2v1.2h-1.2zM454.6 164.2h1.2v1.2h-1.2zM453.3 165.2h1.2v1.2h-1.2zM451.0 165.8h1.2v1.2h-1.2zM445.9 165.4h1.2v1.2h-1.2zM445.4 165.4h1.2v1.2h-1.2zM450.4 165.5h1.2v1.2h-1.2zM445.4 164.9h1.2v1.2h-1.2zM451.4 165.3h1.2v1.2h-1.2zM450.8 165.7h1.2v1.2h-1.2zM442.2 165.6h1.2v1.2h-1.2zM451.9 165.8h1.2v1.2h-1.2zM441.8 165.2h1.2v1.2h-1.2zM445.0 165.4h1.2v1.2h-1.2zM454.3 165.1h1.2v1.2h-1.2zM449.7 165.1h1.2v1.2h-1.2zM452.7 165.0h1.2v1.2h-1.2zM453.7 165.1h1.2v1.2h-1.2zM444.3 165.1h1.2v1.2h-1.2zM451.8 165.3h1.2v1.2h-1.2zM445.8 165.3h1.2v1.2h-1.2zM441.4 165.7h1.2v1.2h-1.2zM442.0 165.7h1.2v1.2h-1.2zM442.3 166.4h1.2v1.2h-1.2zM449.5 166.2h1.2v1.2h-1.2zM449.6 166.4h1.2v1.2h-1.2zM452.5 166.5h1.2v1.2h-1.2zM444.7 166.9h1.2v1.2h-1.2zM451.3 166.7h1.2v1.2h-1.2zM444.3 166.0h1.2v1.2h-1.2zM445.0 166.5h1.2v1.2h-1.2zM449.8 166.0h1.2v1.2h-1.2zM446.1 166.5h1.2v1.2h-1.2zM454.7 166.7h1.2v1.2h-1.2zM445.0 166.6h1.2v1.2h-1.2zM443.9 166.0h1.2v1.2h-1.2zM453.0 166.3h1.2v1.2h-1.2zM452.9 166.1h1.2v1.2h-1.2zM442.8 166.6h1.2v1.2h-1.2zM445.3 166.6h1.2v1.2h-1.2zM447.7 166.6h1.2v1.2h-1.2zM441.4 166.3h1.2v1.2h-1.2zM445.8 167.8h1.2v1.2h-1.2zM451.4 167.8h1.2v1.2h-1.2zM451.4 166.9h1.2v1.2h-1.2zM442.6 167.5h1.2v1.2h-1.2zM444.8 167.6h1.2v1.2h-1.2zM444.3 167.1h1.2v1.2h-1.2zM450.2 166.9h1.2v1.2h-1.2zM442.4 166.9h1.2v1.2h-1.2zM454.5 167.6h1.2v1.2h-1.2zM442.1 166.9h1.2v1.2h-1.2zM448.0 167.3h1.2v1.2h-1.2zM450.5 167.7h1.2v1.2h-1.2zM454.0 167.0h1.2v1.2h-1.2zM449.2 167.6h1.2v1.2h-1.2zM452.6 167.3h1.2v1.2h-1.2zM448.0 167.3h1.2v1.2h-1.2zM443.6 167.4h1.2v1.2h-1.2zM446.5 167.3h1.2v1.2h-1.2zM449.1 167.8h1.2v1.2h-1.2zM448.0 167.6h1.2v1.2h-1.2zM451.6 168.4h1.2v1.2h-1.2zM448.2 168.9h1.2v1.2h-1.2zM445.9 168.8h1.2v1.2h-1.2zM447.8 168.0h1.2v1.2h-1.2zM447.9 168.3h1.2v1.2h-1.2zM440.6 168.4h1.2v1.2h-1.2zM445.2 168.3h1.2v1.2h-1.2zM448.6 168.0h1.2v1.2h-1.2zM450.6 168.1h1.2v1.2h-1.2zM446.6 168.4h1.2v1.2h-1.2zM451.1 168.6h1.2v1.2h-1.2zM447.6 168.6h1.2v1.2h-1.2zM445.7 168.6h1.2v1.2h-1.2zM443.9 168.6h1.2v1.2h-1.2zM451.8 167.9h1.2v1.2h-1.2zM453.6 168.1h1.2v1.2h-1.2zM450.9 168.2h1.2v1.2h-1.2zM443.6 168.2h1.2v1.2h-1.2zM450.5 169.2h1.2v1.2h-1.2zM447.7 168.9h1.2v1.2h-1.2zM453.6 169.8h1.2v1.2h-1.2zM440.6 169.9h1.2v1.2h-1.2zM451.5 169.5h1.2v1.2h-1.2zM447.1 169.2h1.2v1.2h-1.2zM452.7 169.4h1.2v1.2h-1.2zM449.1 169.8h1.2v1.2h-1.2zM440.6 169.5h1.2v1.2h-1.2zM450.3 169.6h1.2v1.2h-1.2zM448.1 169.6h1.2v1.2h-1.2zM443.9 169.9h1.2v1.2h-1.2zM442.2 169.6h1.2v1.2h-1.2zM446.2 169.0h1.2v1.2h-1.2zM448.5 169.4h1.2v1.2h-1.2zM447.3 169.8h1.2v1.2h-1.2zM440.7 169.0h1.2v1.2h-1.2zM442.6 169.0h1.2v1.2h-1.2zM450.2 170.1h1.2v1.2h-1.2zM448.2 170.7h1.2v1.2h-1.2zM451.0 170.5h1.2v1.2h-1.2zM446.4 170.6h1.2v1.2h-1.2zM444.1 170.5h1.2v1.2h-1.2zM451.8 170.3h1.2v1.2h-1.2zM443.6 170.7h1.2v1.2h-1.2zM441.4 170.1h1.2v1.2h-1.2zM445.7 170.3h1.2v1.2h-1.2zM446.9 170.3h1.2v1.2h-1.2zM443.5 171.5h1.2v1.2h-1.2zM454.1 171.5h1.2v1.2h-1.2zM443.8 171.2h1.2v1.2h-1.2zM442.2 171.5h1.2v1.2h-1.2zM449.9 171.7h1.2v1.2h-1.2zM442.5 171.3h1.2v1.2h-1.2zM444.5 171.7h1.2v1.2h-1.2zM446.4 171.4h1.2v1.2h-1.2zM444.4 171.4h1.2v1.2h-1.2zM449.8 171.5h1.2v1.2h-1.2zM442.5 171.0h1.2v1.2h-1.2zM449.6 171.1h1.2v1.2h-1.2zM442.1 171.1h1.2v1.2h-1.2zM448.7 171.4h1.2v1.2h-1.2zM454.4 171.6h1.2v1.2h-1.2zM451.7 171.6h1.2v1.2h-1.2zM453.9 171.1h1.2v1.2h-1.2zM448.3 171.2h1.2v1.2h-1.2zM442.8 171.0h1.2v1.2h-1.2zM445.8 171.6h1.2v1.2h-1.2zM451.5 171.3h1.2v1.2h-1.2zM442.4 171.2h1.2v1.2h-1.2zM449.9 171.1h1.2v1.2h-1.2zM445.1 172.9h1.2v1.2h-1.2zM453.5 172.2h1.2v1.2h-1.2zM445.5 172.1h1.2v1.2h-1.2zM445.1 172.6h1.2v1.2h-1.2zM444.4 172.8h1.2v1.2h-1.2zM448.2 172.1h1.2v1.2h-1.2zM454.0 172.8h1.2v1.2h-1.2zM448.2 172.5h1.2v1.2h-1.2zM451.0 172.8h1.2v1.2h-1.2zM447.9 172.8h1.2v1.2h-1.2zM441.7 172.3h1.2v1.2h-1.2zM448.8 172.8h1.2v1.2h-1.2zM448.9 172.1h1.2v1.2h-1.2zM449.0 172.3h1.2v1.2h-1.2zM444.7 172.3h1.2v1.2h-1.2zM444.3 172.1h1.2v1.2h-1.2zM445.2 172.4h1.2v1.2h-1.2zM440.9 172.7h1.2v1.2h-1.2zM442.8 172.0h1.2v1.2h-1.2zM444.6 172.4h1.2v1.2h-1.2zM447.8 172.4h1.2v1.2h-1.2zM453.4 172.1h1.2v1.2h-1.2zM450.5 172.5h1.2v1.2h-1.2zM447.8 172.2h1.2v1.2h-1.2zM450.7 172.5h1.2v1.2h-1.2zM446.8 172.5h1.2v1.2h-1.2zM441.2 172.6h1.2v1.2h-1.2zM450.2 172.8h1.2v1.2h-1.2zM450.5 172.8h1.2v1.2h-1.2zM449.8 172.4h1.2v1.2h-1.2zM452.6 172.2h1.2v1.2h-1.2zM451.6 173.7h1.2v1.2h-1.2zM452.3 173.7h1.2v1.2h-1.2zM441.2 173.7h1.2v1.2h-1.2zM454.7 173.5h1.2v1.2h-1.2zM448.9 173.8h1.2v1.2h-1.2zM448.9 173.6h1.2v1.2h-1.2zM449.2 173.5h1.2v1.2h-1.2zM444.3 173.7h1.2v1.2h-1.2zM444.8 173.6h1.2v1.2h-1.2zM453.0 173.7h1.2v1.2h-1.2zM449.0 173.8h1.2v1.2h-1.2zM454.1 173.3h1.2v1.2h-1.2zM443.5 173.7h1.2v1.2h-1.2zM448.8 173.2h1.2v1.2h-1.2zM449.0 173.4h1.2v1.2h-1.2zM441.0 173.8h1.2v1.2h-1.2zM449.4 173.9h1.2v1.2h-1.2zM446.0 173.8h1.2v1.2h-1.2zM446.6 174.1h1.2v1.2h-1.2zM443.1 173.9h1.2v1.2h-1.2zM448.9 174.7h1.2v1.2h-1.2zM450.1 174.7h1.2v1.2h-1.2zM453.2 174.6h1.2v1.2h-1.2zM452.5 174.5h1.2v1.2h-1.2zM454.4 174.6h1.2v1.2h-1.2zM454.4 174.6h1.2v1.2h-1.2zM450.4 174.4h1.2v1.2h-1.2zM444.5 174.6h1.2v1.2h-1.2zM448.2 174.1h1.2v1.2h-1.2zM441.7 174.4h1.2v1.2h-1.2zM448.5 174.5h1.2v1.2h-1.2zM444.8 174.5h1.2v1.2h-1.2zM448.1 174.2h1.2v1.2h-1.2zM451.2 174.0h1.2v1.2h-1.2zM441.4 174.6h1.2v1.2h-1.2zM452.9 174.0h1.2v1.2h-1.2zM441.0 174.7h1.2v1.2h-1.2zM447.5 174.1h1.2v1.2h-1.2zM443.6 174.7h1.2v1.2h-1.2zM441.1 174.3h1.2v1.2h-1.2zM447.3 174.8h1.2v1.2h-1.2zM444.2 174.1h1.2v1.2h-1.2zM441.6 174.1h1.2v1.2h-1.2zM452.2 174.6h1.2v1.2h-1.2zM444.0 174.7h1.2v1.2h-1.2zM453.8 174.2h1.2v1.2h-1.2zM449.1 174.4h1.2v1.2h-1.2zM445.5 175.3h1.2v1.2h-1.2zM441.4 175.5h1.2v1.2h-1.2zM452.6 175.2h1.2v1.2h-1.2zM442.0 175.0h1.2v1.2h-1.2zM451.5 175.8h1.2v1.2h-1.2zM448.0 175.0h1.2v1.2h-1.2zM447.0 175.9h1.2v1.2h-1.2zM441.6 175.7h1.2v1.2h-1.2zM446.5 175.3h1.2v1.2h-1.2zM440.7 175.8h1.2v1.2h-1.2zM451.3 175.0h1.2v1.2h-1.2zM450.5 175.5h1.2v1.2h-1.2zM442.4 175.3h1.2v1.2h-1.2zM447.7 175.2h1.2v1.2h-1.2zM443.0 175.8h1.2v1.2h-1.2zM450.6 174.9h1.2v1.2h-1.2zM443.2 175.8h1.2v1.2h-1.2zM443.0 175.0h1.2v1.2h-1.2zM444.5 175.6h1.2v1.2h-1.2zM454.3 175.2h1.2v1.2h-1.2zM452.1 175.4h1.2v1.2h-1.2zM446.2 175.8h1.2v1.2h-1.2zM451.8 175.7h1.2v1.2h-1.2zM445.6 175.0h1.2v1.2h-1.2zM443.2 175.2h1.2v1.2h-1.2zM453.2 175.9h1.2v1.2h-1.2zM441.0 176.8h1.2v1.2h-1.2zM451.8 176.7h1.2v1.2h-1.2zM454.1 176.9h1.2v1.2h-1.2zM441.7 176.1h1.2v1.2h-1.2zM452.7 176.1h1.2v1.2h-1.2zM451.6 176.7h1.2v1.2h-1.2zM441.1 176.4h1.2v1.2h-1.2zM446.8 176.1h1.2v1.2h-1.2zM444.2 175.9h1.2v1.2h-1.2zM446.0 176.1h1.2v1.2h-1.2zM445.9 176.6h1.2v1.2h-1.2zM446.1 176.6h1.2v1.2h-1.2zM440.6 176.3h1.2v1.2h-1.2zM444.4 176.8h1.2v1.2h-1.2zM444.6 176.4h1.2v1.2h-1.2zM449.7 176.4h1.2v1.2h-1.2zM450.4 176.3h1.2v1.2h-1.2zM451.2 176.3h1.2v1.2h-1.2zM449.5 176.3h1.2v1.2h-1.2zM453.2 176.7h1.2v1.2h-1.2zM448.4 176.3h1.2v1.2h-1.2zM444.9 176.1h1.2v1.2h-1.2zM441.1 177.5h1.2v1.2h-1.2zM450.8 177.0h1.2v1.2h-1.2zM448.5 177.3h1.2v1.2h-1.2zM442.8 177.4h1.2v1.2h-1.2zM447.8 176.9h1.2v1.2h-1.2zM453.9 177.9h1.2v1.2h-1.2zM449.1 177.8h1.2v1.2h-1.2zM444.9 177.0h1.2v1.2h-1.2zM452.0 177.5h1.2v1.2h-1.2zM446.1 177.2h1.2v1.2h-1.2zM440.7 177.1h1.2v1.2h-1.2zM441.6 177.2h1.2v1.2h-1.2zM454.2 177.0h1.2v1.2h-1.2zM441.8 177.6h1.2v1.2h-1.2zM451.6 177.3h1.2v1.2h-1.2zM440.9 177.6h1.2v1.2h-1.2zM446.5 177.7h1.2v1.2h-1.2zM444.5 177.5h1.2v1.2h-1.2zM445.4 177.2h1.2v1.2h-1.2zM441.8 177.0h1.2v1.2h-1.2zM446.2 177.6h1.2v1.2h-1.2zM451.3 177.6h1.2v1.2h-1.2zM448.0 177.7h1.2v1.2h-1.2zM442.4 178.8h1.2v1.2h-1.2zM451.9 178.5h1.2v1.2h-1.2zM452.9 178.0h1.2v1.2h-1.2zM447.0 178.6h1.2v1.2h-1.2zM445.6 178.0h1.2v1.2h-1.2zM440.8 178.5h1.2v1.2h-1.2zM441.5 178.5h1.2v1.2h-1.2zM445.8 178.6h1.2v1.2h-1.2zM442.1 178.0h1.2v1.2h-1.2zM454.3 178.8h1.2v1.2h-1.2zM449.6 178.8h1.2v1.2h-1.2zM444.9 178.9h1.2v1.2h-1.2zM448.8 178.7h1.2v1.2h-1.2zM442.9 178.2h1.2v1.2h-1.2zM453.5 178.9h1.2v1.2h-1.2zM447.6 178.5h1.2v1.2h-1.2zM450.4 178.6h1.2v1.2h-1.2zM443.1 178.6h1.2v1.2h-1.2zM447.2 179.5h1.2v1.2h-1.2zM450.6 179.1h1.2v1.2h-1.2zM446.0 179.3h1.2v1.2h-1.2zM441.4 179.0h1.2v1.2h-1.2zM447.2 179.3h1.2v1.2h-1.2zM452.2 179.9h1.2v1.2h-1.2zM447.1 179.3h1.2v1.2h-1.2zM454.4 179.3h1.2v1.2h-1.2zM448.4 179.7h1.2v1.2h-1.2zM453.0 179.0h1.2v1.2h-1.2zM441.0 179.0h1.2v1.2h-1.2zM449.5 179.6h1.2v1.2h-1.2zM447.7 179.0h1.2v1.2h-1.2zM445.6 179.5h1.2v1.2h-1.2zM453.3 179.7h1.2v1.2h-1.2zM441.8 179.5h1.2v1.2h-1.2zM447.4 179.0h1.2v1.2h-1.2zM444.9 179.1h1.2v1.2h-1.2zM454.1 179.4h1.2v1.2h-1.2zM451.6 179.9h1.2v1.2h-1.2zM443.4 179.6h1.2v1.2h-1.2zM442.3 180.2h1.2v1.2h-1.2zM440.8 180.5h1.2v1.2h-1.2zM443.0 179.9h1.2v1.2h-1.2zM453.7 180.3h1.2v1.2h-1.2zM452.9 180.7h1.2v1.2h-1.2zM451.9 180.1h1.2v1.2h-1.2zM446.2 180.5h1.2v1.2h-1.2zM447.3 180.6h1.2v1.2h-1.2zM448.7 180.1h1.2v1.2h-1.2zM452.0 180.8h1.2v1.2h-1.2zM440.6 180.1h1.2v1.2h-1.2zM443.1 180.9h1.2v1.2h-1.2zM448.8 180.2h1.2v1.2h-1.2zM442.5 180.5h1.2v1.2h-1.2zM453.8 180.8h1.2v1.2h-1.2zM441.1 180.7h1.2v1.2h-1.2zM454.3 180.4h1.2v1.2h-1.2zM443.5 180.1h1.2v1.2h-1.2zM443.3 180.5h1.2v1.2h-1.2zM446.5 180.5h1.2v1.2h-1.2zM449.6 180.0h1.2v1.2h-1.2zM454.4 180.3h1.2v1.2h-1.2zM447.3 180.8h1.2v1.2h-1.2zM453.3 180.4h1.2v1.2h-1.2zM453.1 180.1h1.2v1.2h-1.2zM454.5 180.5h1.2v1.2h-1.2zM445.6 180.4h1.2v1.2h-1.2zM447.2 180.8h1.2v1.2h-1.2zM440.8 180.4h1.2v1.2h-1.2zM446.0 181.9h1.2v1.2h-1.2zM445.5 181.1h1.2v1.2h-1.2zM442.3 181.5h1.2v1.2h-1.2zM452.3 181.8h1.2v1.2h-1.2zM444.5 181.8h1.2v1.2h-1.2zM442.4 181.1h1.2v1.2h-1.2zM442.1 181.4h1.2v1.2h-1.2zM440.8 181.2h1.2v1.2h-1.2zM451.2 181.6h1.2v1.2h-1.2zM448.1 181.1h1.2v1.2h-1.2zM447.9 181.1h1.2v1.2h-1.2zM446.4 181.2h1.2v1.2h-1.2zM454.2 181.0h1.2v1.2h-1.2zM445.9 181.6h1.2v1.2h-1.2zM447.2 181.2h1.2v1.2h-1.2zM450.3 181.3h1.2v1.2h-1.2zM453.7 181.2h1.2v1.2h-1.2zM452.7 181.3h1.2v1.2h-1.2zM453.0 181.2h1.2v1.2h-1.2zM443.1 181.3h1.2v1.2h-1.2zM453.9 181.6h1.2v1.2h-1.2zM452.2 181.1h1.2v1.2h-1.2zM445.2 181.6h1.2v1.2h-1.2zM451.9 181.2h1.2v1.2h-1.2zM454.0 181.0h1.2v1.2h-1.2zM451.1 181.9h1.2v1.2h-1.2zM451.0 182.2h1.2v1.2h-1.2zM452.4 182.8h1.2v1.2h-1.2zM453.0 182.0h1.2v1.2h-1.2zM451.6 182.1h1.2v1.2h-1.2zM441.6 182.2h1.2v1.2h-1.2zM443.5 182.7h1.2v1.2h-1.2zM442.2 182.0h1.2v1.2h-1.2zM447.1 182.8h1.2v1.2h-1.2zM441.4 182.0h1.2v1.2h-1.2zM448.3 182.5h1.2v1.2h-1.2zM453.6 182.7h1.2v1.2h-1.2zM454.4 182.5h1.2v1.2h-1.2zM441.0 182.4h1.2v1.2h-1.2zM450.2 182.3h1.2v1.2h-1.2zM442.5 182.2h1.2v1.2h-1.2zM452.7 182.9h1.2v1.2h-1.2zM440.9 182.3h1.2v1.2h-1.2zM442.0 182.5h1.2v1.2h-1.2zM445.1 182.5h1.2v1.2h-1.2zM440.6 182.9h1.2v1.2h-1.2zM449.9 183.8h1.2v1.2h-1.2zM443.4 183.4h1.2v1.2h-1.2zM450.7 183.5h1.2v1.2h-1.2zM454.0 183.5h1.2v1.2h-1.2zM447.2 183.7h1.2v1.2h-1.2zM447.2 183.7h1.2v1.2h-1.2zM454.6 183.6h1.2v1.2h-1.2zM445.0 182.9h1.2v1.2h-1.2zM453.1 183.7h1.2v1.2h-1.2zM450.6 182.9h1.2v1.2h-1.2zM440.6 183.8h1.2v1.2h-1.2zM444.7 182.9h1.2v1.2h-1.2zM450.7 183.7h1.2v1.2h-1.2zM441.1 183.5h1.2v1.2h-1.2zM452.7 182.9h1.2v1.2h-1.2zM453.5 183.7h1.2v1.2h-1.2zM451.3 183.5h1.2v1.2h-1.2zM452.0 183.0h1.2v1.2h-1.2zM449.0 183.8h1.2v1.2h-1.2zM452.0 183.5h1.2v1.2h-1.2zM447.1 183.4h1.2v1.2h-1.2zM446.3 183.8h1.2v1.2h-1.2zM450.5 183.1h1.2v1.2h-1.2zM447.1 183.1h1.2v1.2h-1.2zM444.9 184.7h1.2v1.2h-1.2zM444.3 184.1h1.2v1.2h-1.2zM446.7 184.7h1.2v1.2h-1.2zM445.9 184.3h1.2v1.2h-1.2zM451.2 184.5h1.2v1.2h-1.2zM451.6 184.5h1.2v1.2h-1.2zM451.8 184.3h1.2v1.2h-1.2zM452.5 184.4h1.2v1.2h-1.2zM445.6 184.5h1.2v1.2h-1.2zM445.7 184.0h1.2v1.2h-1.2zM452.4 184.8h1.2v1.2h-1.2zM443.1 184.7h1.2v1.2h-1.2zM450.5 184.1h1.2v1.2h-1.2zM448.0 184.1h1.2v1.2h-1.2zM450.0 184.3h1.2v1.2h-1.2zM450.4 184.7h1.2v1.2h-1.2zM450.0 184.4h1.2v1.2h-1.2zM443.8 184.2h1.2v1.2h-1.2zM440.8 184.7h1.2v1.2h-1.2zM454.0 184.1h1.2v1.2h-1.2zM453.2 184.6h1.2v1.2h-1.2zM447.7 184.7h1.2v1.2h-1.2zM449.9 184.0h1.2v1.2h-1.2zM441.8 184.5h1.2v1.2h-1.2zM447.0 184.5h1.2v1.2h-1.2zM448.8 184.9h1.2v1.2h-1.2zM450.4 184.2h1.2v1.2h-1.2zM443.6 184.4h1.2v1.2h-1.2zM441.8 184.8h1.2v1.2h-1.2zM454.1 184.0h1.2v1.2h-1.2zM452.5 184.8h1.2v1.2h-1.2zM443.0 184.3h1.2v1.2h-1.2zM452.2 184.2h1.2v1.2h-1.2zM452.0 184.9h1.2v1.2h-1.2zM443.1 184.3h1.2v1.2h-1.2zM451.9 184.1h1.2v1.2h-1.2zM445.9 184.1h1.2v1.2h-1.2zM445.2 184.6h1.2v1.2h-1.2zM442.8 185.4h1.2v1.2h-1.2zM448.9 185.2h1.2v1.2h-1.2zM449.2 185.7h1.2v1.2h-1.2zM447.8 185.3h1.2v1.2h-1.2zM441.9 185.5h1.2v1.2h-1.2zM451.8 185.8h1.2v1.2h-1.2zM445.0 185.1h1.2v1.2h-1.2zM444.3 185.9h1.2v1.2h-1.2zM449.6 185.4h1.2v1.2h-1.2zM443.1 185.5h1.2v1.2h-1.2zM453.4 185.2h1.2v1.2h-1.2zM449.7 185.6h1.2v1.2h-1.2zM451.7 185.6h1.2v1.2h-1.2zM445.3 185.5h1.2v1.2h-1.2zM446.6 185.8h1.2v1.2h-1.2zM444.1 185.4h1.2v1.2h-1.2zM444.1 184.9h1.2v1.2h-1.2zM446.4 185.8h1.2v1.2h-1.2zM451.7 185.5h1.2v1.2h-1.2zM447.6 185.5h1.2v1.2h-1.2zM452.3 185.5h1.2v1.2h-1.2zM442.1 184.9h1.2v1.2h-1.2zM444.6 185.2h1.2v1.2h-1.2zM441.0 185.0h1.2v1.2h-1.2zM453.5 185.5h1.2v1.2h-1.2zM441.4 185.8h1.2v1.2h-1.2zM448.2 185.6h1.2v1.2h-1.2zM450.1 185.7h1.2v1.2h-1.2zM443.4 185.2h1.2v1.2h-1.2zM454.4 184.9h1.2v1.2h-1.2zM454.4 185.3h1.2v1.2h-1.2zM443.9 185.1h1.2v1.2h-1.2zM442.5 185.2h1.2v1.2h-1.2zM449.7 186.6h1.2v1.2h-1.2zM447.8 186.5h1.2v1.2h-1.2zM449.1 186.7h1.2v1.2h-1.2zM449.3 186.9h1.2v1.2h-1.2zM454.1 186.1h1.2v1.2h-1.2zM451.4 186.8h1.2v1.2h-1.2zM444.9 186.7h1.2v1.2h-1.2zM451.1 186.5h1.2v1.2h-1.2zM446.9 186.9h1.2v1.2h-1.2zM454.4 186.4h1.2v1.2h-1.2zM447.3 185.9h1.2v1.2h-1.2zM440.7 186.0h1.2v1.2h-1.2zM453.5 186.2h1.2v1.2h-1.2zM444.4 186.6h1.2v1.2h-1.2zM452.2 186.5h1.2v1.2h-1.2zM449.2 186.6h1.2v1.2h-1.2zM451.1 185.9h1.2v1.2h-1.2zM451.0 186.1h1.2v1.2h-1.2zM453.4 186.5h1.2v1.2h-1.2zM452.3 186.6h1.2v1.2h-1.2zM449.7 186.3h1.2v1.2h-1.2zM445.1 186.1h1.2v1.2h-1.2zM447.5 186.2h1.2v1.2h-1.2zM444.5 186.7h1.2v1.2h-1.2zM445.3 186.6h1.2v1.2h-1.2zM447.0 186.1h1.2v1.2h-1.2zM446.5 186.9h1.2v1.2h-1.2zM444.6 187.3h1.2v1.2h-1.2zM444.8 187.7h1.2v1.2h-1.2zM444.9 187.5h1.2v1.2h-1.2zM443.2 187.6h1.2v1.2h-1.2zM448.8 187.9h1.2v1.2h-1.2zM441.8 187.3h1.2v1.2h-1.2zM444.0 187.1h1.2v1.2h-1.2zM442.9 187.3h1.2v1.2h-1.2zM450.5 187.5h1.2v1.2h-1.2zM444.5 187.0h1.2v1.2h-1.2zM441.9 186.9h1.2v1.2h-1.2zM452.2 187.6h1.2v1.2h-1.2zM446.7 187.9h1.2v1.2h-1.2zM451.9 187.8h1.2v1.2h-1.2zM445.1 187.3h1.2v1.2h-1.2zM445.4 187.4h1.2v1.2h-1.2zM448.4 187.7h1.2v1.2h-1.2zM441.5 187.9h1.2v1.2h-1.2zM454.4 188.4h1.2v1.2h-1.2zM442.4 187.9h1.2v1.2h-1.2zM453.5 188.3h1.2v1.2h-1.2zM449.9 188.4h1.2v1.2h-1.2zM451.4 188.7h1.2v1.2h-1.2zM443.5 188.2h1.2v1.2h-1.2zM453.2 188.5h1.2v1.2h-1.2zM448.1 188.6h1.2v1.2h-1.2zM446.4 188.4h1.2v1.2h-1.2zM443.2 188.5h1.2v1.2h-1.2zM442.9 188.4h1.2v1.2h-1.2zM452.8 188.5h1.2v1.2h-1.2zM454.3 188.4h1.2v1.2h-1.2zM446.4 188.8h1.2v1.2h-1.2zM450.8 188.0h1.2v1.2h-1.2zM450.4 188.8h1.2v1.2h-1.2zM447.5 188.6h1.2v1.2h-1.2zM447.3 187.9h1.2v1.2h-1.2zM448.4 188.6h1.2v1.2h-1.2zM445.4 188.3h1.2v1.2h-1.2zM451.1 188.4h1.2v1.2h-1.2zM446.4 188.4h1.2v1.2h-1.2zM447.7 188.6h1.2v1.2h-1.2zM443.1 188.4h1.2v1.2h-1.2zM454.4 188.5h1.2v1.2h-1.2zM441.6 188.1h1.2v1.2h-1.2zM450.7 188.0h1.2v1.2h-1.2zM449.9 188.6h1.2v1.2h-1.2zM445.4 188.9h1.2v1.2h-1.2zM454.4 188.0h1.2v1.2h-1.2zM441.0 188.8h1.2v1.2h-1.2zM444.4 188.3h1.2v1.2h-1.2zM445.3 188.6h1.2v1.2h-1.2zM449.6 188.2h1.2v1.2h-1.2zM448.9 188.6h1.2v1.2h-1.2zM450.6 188.3h1.2v1.2h-1.2zM452.7 189.2h1.2v1.2h-1.2zM440.8 189.5h1.2v1.2h-1.2zM448.5 189.0h1.2v1.2h-1.2zM446.2 189.8h1.2v1.2h-1.2zM450.3 189.4h1.2v1.2h-1.2zM448.0 189.8h1.2v1.2h-1.2zM445.4 189.1h1.2v1.2h-1.2zM440.6 189.5h1.2v1.2h-1.2zM444.9 189.1h1.2v1.2h-1.2zM446.8 189.0h1.2v1.2h-1.2zM445.3 189.3h1.2v1.2h-1.2zM445.9 189.3h1.2v1.2h-1.2zM449.7 189.4h1.2v1.2h-1.2zM445.3 189.3h1.2v1.2h-1.2zM452.6 189.1h1.2v1.2h-1.2zM445.6 189.5h1.2v1.2h-1.2zM446.7 189.1h1.2v1.2h-1.2zM446.7 189.2h1.2v1.2h-1.2zM453.3 189.6h1.2v1.2h-1.2zM449.1 189.5h1.2v1.2h-1.2zM454.2 189.6h1.2v1.2h-1.2zM440.6 189.7h1.2v1.2h-1.2zM454.1 189.7h1.2v1.2h-1.2zM443.3 189.1h1.2v1.2h-1.2zM453.2 189.8h1.2v1.2h-1.2zM441.1 189.4h1.2v1.2h-1.2zM452.7 189.4h1.2v1.2h-1.2zM449.5 189.2h1.2v1.2h-1.2zM450.2 189.2h1.2v1.2h-1.2zM446.1 189.4h1.2v1.2h-1.2zM446.0 188.9h1.2v1.2h-1.2zM442.7 189.5h1.2v1.2h-1.2zM442.5 189.2h1.2v1.2h-1.2zM449.4 189.5h1.2v1.2h-1.2zM445.4 189.6h1.2v1.2h-1.2z"/>
<path fill="#C77CFF" fill-opacity="1.00" d="M516.3 40.5h1.2v1.2h-1.2zM519.5 40.9h1.2v1.2h-1.2zM513.6 40.6h1.2v1.2h-1.2zM515.8 40.7h1.2v1.2h-1.2zM521.5 40.1h1.2v1.2h-1.2zM522.4 40.7h1.2v1.2h-1.2zM521.3 40.9h1.2v1.2h-1.2zM526.4 41.0h1.2v1.2h-1.2zM526.3 40.7h1.2v1.2h-1.2zM524.3 40.6h1.2v1.2h-1.2zM519.2 41.0h1.2v1.2h-1.2zM523.2 40.1h1.2v1.2h-1.2zM516.2 40.8h1.2v1.2h-1.2zM524.7 40.7h1.2v1.2h-1.2zM516.2 40.7h1.2v1.2h-1.2zM526.5 40.4h1.2v1.2h-1.2zM513.0 40.1h1.2v1.2h-1.2zM523.8 40.1h1.2v1.2h-1.2zM519.7 40.7h1.2v1.2h-1.2zM524.1 40.3h1.2v1.2h-1.2zM520.0 40.9h1.2v1.2h-1.2zM524.3 40.1h1.2v1.2h-1.2zM522.6 40.8h1.2v1.2h-1.2zM521.6 40.5h1.2v1.2h-1.2zM525.9 40.3h1.2v1.2h-1.2zM514.4 40.3h1.2v1.2h-1.2zM525.6 40.4h1.2v1.2h-1.2zM520.0 40.4h1.2v1.2h-1.2zM522.6 40.2h1.2v1.2h-1.2zM522.0 40.2h1.2v1.2h-1.2zM518.2 41.0h1.2v1.2h-1.2zM520.1 40.4h1.2v1.2h-1.2zM526.2 40.6h1.2v1.2h-1.2zM519.5 41.7h1.2v1.2h-1.2zM525.4 41.2h1.2v1.2h-1.2zM512.9 41.2h1.2v1.2h-1.2zM520.7 41.0h1.2v1.2h-1.2zM522.3 41.2h1.2v1.2h-1.2zM518.3 41.0h1.2v1.2h-1.2zM513.9 41.5h1.2v1.2h-1.2zM523.7 41.5h1.2v1.2h-1.2zM523.2 41.0h1.2v1.2h-1.2zM518.1 41.8h1.2v1.2h-1.2zM514.1 41.6h1.2v1.2h-1.2zM524.4 41.4h1.2v1.2h-1.2zM523.5 41.8h1.2v1.2h-1.2zM524.3 41.4h1.2v1.2h-1.2zM524.1 41.1h1.2v1.2h-1.2zM516.4 41.6h1.2v1.2h-1.2zM521.4 41.8h1.2v1.2h-1.2zM519.2 41.0h1.2v1.2h-1.2zM518.2 41.4h1.2v1.2h-1.2zM518.5 41.2h1.2v1.2h-1.2zM522.1 41.7h1.2v1.2h-1.2zM526.6 41.1h1.2v1.2h-1.2zM519.3 41.6h1.2v1.2h-1.2zM517.9 41.2h1.2v1.2h-1.2zM521.5 41.5h1.2v1.2h-1.2zM521.5 41.6h1.2v1.2h-1.2zM518.4 41.6h1.2v1.2h-1.2zM521.7 41.0h1.2v1.2h-1.2zM521.9 41.4h1.2v1.2h-1.2zM523.1 41.1h1.2v1.2h-1.2zM515.1 41.1h1.2v1.2h-1.2zM521.8 41.1h1.2v1.2h-1.2zM518.6 41.1h1.2v1.2h-1.2zM524.9 41.7h1.2v1.2h-1.2zM521.3 41.4h1.2v1.2h-1.2z"/>
<path fill="#C77CFF" fill-opacity="0.85" d="M513.6 44.9h1.2v1.2h-1.2zM515.8 44.5h1.2v1.2h-1.2zM522.7 45.3h1.2v1.2h-1.2zM524.8 45.9h1.2v1.2h-1.2zM526.8 45.6h1.2v1.2h-1.2zM520.8 47.8h1.2v1.2h-1.2zM523.5 47.3h1.2v1.2h-1.2zM526.8 48.4h1.2v1.2h-1.2zM516.9 51.4h1.2v1.2h-1.2zM524.6 51.6h1.2v1.2h-1.2zM515.3 54.4h1.2v1.2h-1.2zM524.1 53.8h1.2v1.2h-1.2zM521.3 54.7h1.2v1.2h-1.2zM513.9 58.0h1.2v1.2h-1.2zM523.0 58.0h1.2v1.2h-1.2zM524.1 61.7h1.2v1.2h-1.2zM525.7 64.2h1.2v1.2h-1.2zM524.8 68.1h1.2v1.2h-1.2zM519.7 68.6h1.2v1.2h-1.2zM514.4 42.9h1.2v1.2h-1.2zM525.4 43.0h1.2v1.2h-1.2zM519.9 89.9h1.2v1.2h-1.2zM518.3 95.0h1.2v1.2h-1.2zM514.2 142.2h1.2v1.2h-1.2zM513.8 150.0h1.2v1.2h-1.2zM517.8 150.7h1.2v1.2h-1.2zM526.4 150.0h1.2v1.2h-1.2zM515.9 157.0h1.2v1.2h-1.2zM525.5 157.7h1.2v1.2h-1.2z"/>
<path fill="#7CAE00" fill-opacity="1.00" d="M595.0 40.8h1.2v1.2h-1.2zM590.1 40.1h1.2v1.2h-1.2zM595.6 40.9h1.2v1.2h-1.2zM585.2 40.7h1.2v1.2h-1.2zM596.5 40.4h1.2v1.2h-1.2zM594.5 40.7h1.2v1.2h-1.2zM587.0 40.1h1.2v1.2h-1.2zM588.4 40.6h1.2v1.2h-1.2zM589.2 40.9h1.2v1.2h-1.2zM592.0 40.0h1.2v1.2h-1.2zM597.3 40.9h1.2v1.2h-1.2zM598.2 40.3h1.2v1.2h-1.2zM593.2 40.4h1.2v1.2h-1.2zM586.5 40.9h1.2v1.2h-1.2zM598.3 40.8h1.2v1.2h-1.2zM598.1 40.4h1.2v1.2h-1.2zM586.2 41.0h1.2v1.2h-1.2zM594.1 40.0h1.2v1.2h-1.2zM594.1 40.7h1.2v1.2h-1.2zM594.0 40.5h1.2v1.2h-1.2zM594.9 40.9h1.2v1.2h-1.2zM585.1 40.0h1.2v1.2h-1.2zM589.2 40.3h1.2v1.2h-1.2zM589.6 40.5h1.2v1.2h-1.2zM593.8 40.1h1.2v1.2h-1.2zM586.3 40.6h1.2v1.2h-1.2zM588.8 40.8h1.2v1.2h-1.2zM587.4 40.9h1.2v1.2h-1.2zM585.6 40.1h1.2v1.2h-1.2zM591.4 40.5h1.2v1.2h-1.2zM587.8 41.0h1.2v1.2h-1.2zM591.6 40.1h1.2v1.2h-1.2zM587.8 40.7h1.2v1.2h-1.2zM595.8 40.3h1.2v1.2h-1.2zM586.5 40.9h1.2v1.2h-1.2zM595.5 40.6h1.2v1.2h-1.2zM593.9 41.5h1.2v1.2h-1.2zM587.2 41.3h1.2v1.2h-1.2zM590.1 41.1h1.2v1.2h-1.2zM590.2 41.3h1.2v1.2h-1.2zM591.2 41.6h1.2v1.2h-1.2zM594.2 41.5h1.2v1.2h-1.2zM585.2 41.5h1.2v1.2h-1.2zM587.3 41.2h1.2v1.2h-1.2zM594.5 41.4h1.2v1.2h-1.2zM586.3 41.4h1.2v1.2h-1.2zM596.5 41.7h1.2v1.2h-1.2zM590.0 41.7h1.2v1.2h-1.2zM585.5 41.3h1.2v1.2h-1.2zM595.4 41.4h1.2v1.2h-1.2zM588.3 41.2h1.2v1.2h-1.2zM598.6 41.5h1.2v1.2h-1.2zM597.5 41.1h1.2v1.2h-1.2zM597.0 41.8h1.2v1.2h-1.2zM597.0 41.3h1.2v1.2h-1.2zM586.0 41.0h1.2v1.2h-1.2zM585.4 41.2h1.2v1.2h-1.2zM590.5 41.8h1.2v1.2h-1.2zM590.7 41.2h1.2v1.2h-1.2zM590.6 41.3h1.2v1.2h-1.2zM593.1 41.8h1.2v1.2h-1.2zM595.7 41.6h1.2v1.2h-1.2zM595.7 41.3h1.2v1.2h-1.2zM597.7 41.1h1.2v1.2h-1.2zM594.2 41.3h1.2v1.2h-1.2zM596.9 41.3h1.2v1.2h-1.2zM586.2 41.7h1.2v1.2h-1.2zM585.4 41.4h1.2v1.2h-1.2zM591.1 41.7h1.2v1.2h-1.2zM597.0 41.8h1.2v1.2h-1.2zM590.2 41.7h1.2v1.2h-1.2zM586.5 41.3h1.2v1.2h-1.2zM586.7 41.3h1.2v1.2h-1.2zM588.1 41.4h1.2v1.2h-1.2zM596.7 41.5h1.2v1.2h-1.2zM589.6 41.7h1.2v1.2h-1.2zM596.7 41.7h1.2v1.2h-1.2zM597.8 41.3h1.2v1.2h-1.2z"/>
<path fill="#7CAE00" fill-opacity="0.85" d="M585.7 44.8h1.2v1.2h-1.2zM585.7 46.8h1.2v1.2h-1.2zM595.8 43.6h1.2v1.2h-1.2zM598.3 43.6h1.2v1.2h-1.2zM598.3 44.4h1.2v1.2h-1.2zM597.7 51.8h1.2v1.2h-1.2zM594.7 53.7h1.2v1.2h-1.2zM587.0 64.3h1.2v1.2h-1.2zM585.7 68.2h1.2v1.2h-1.2zM592.0 67.7h1.2v1.2h-1.2zM596.2 66.8h1.2v1.2h-1.2zM598.7 71.6h1.2v1.2h-1.2zM596.6 77.4h1.2v1.2h-1.2zM592.0 87.7h1.2v1.2h-1.2zM588.6 95.0h1.2v1.2h-1.2zM592.4 108.0h1.2v1.2h-1.2zM593.6 157.4h1.2v1.2h-1.2zM588.6 169.8h1.2v1.2h-1.2zM587.4 43.0h1.2v1.2h-1.2z"/>
<path fill="#00BFC4" fill-opacity="1.00" d="M665.1 40.2h1.2v1.2h-1.2zM657.2 40.0h1.2v1.2h-1.2zM662.9 40.9h1.2v1.2h-1.2zM658.6 40.2h1.2v1.2h-1.2zM662.3 40.6h1.2v1.2h-1.2zM662.3 40.3h1.2v1.2h-1.2zM662.8 40.5h1.2v1.2h-1.2zM661.3 40.4h1.2v1.2h-1.2zM667.8 40.7h1.2v1.2h-1.2zM663.4 40.2h1.2v1.2h-1.2zM669.6 40.3h1.2v1.2h-1.2zM661.7 40.1h1.2v1.2h-1.2zM658.9 40.3h1.2v1.2h-1.2zM661.9 40.8h1.2v1.2h-1.2zM669.1 41.0h1.2v1.2h-1.2zM661.9 40.0h1.2v1.2h-1.2zM668.4 40.8h1.2v1.2h-1.2zM666.6 40.7h1.2v1.2h-1.2zM660.5 40.1h1.2v1.2h-1.2zM659.6 40.2h1.2v1.2h-1.2zM658.5 40.9h1.2v1.2h-1.2zM663.2 40.2h1.2v1.2h-1.2zM666.6 40.9h1.2v1.2h-1.2zM661.0 40.5h1.2v1.2h-1.2zM670.3 41.0h1.2v1.2h-1.2zM657.1 40.5h1.2v1.2h-1.2zM667.9 40.1h1.2v1.2h-1.2zM659.3 40.6h1.2v1.2h-1.2zM670.9 40.4h1.2v1.2h-1.2zM658.3 40.1h1.2v1.2h-1.2zM669.8 40.8h1.2v1.2h-1.2zM662.5 41.1h1.2v1.2h-1.2zM660.9 41.4h1.2v1.2h-1.2zM657.5 41.3h1.2v1.2h-1.2zM660.0 41.3h1.2v1.2h-1.2zM662.3 41.3h1.2v1.2h-1.2zM670.0 41.3h1.2v1.2h-1.2zM670.4 41.1h1.2v1.2h-1.2zM658.0 41.0h1.2v1.2h-1.2zM664.8 41.4h1.2v1.2h-1.2zM657.4 41.0h1.2v1.2h-1.2zM658.4 41.1h1.2v1.2h-1.2zM665.5 41.2h1.2v1.2h-1.2zM664.3 41.0h1.2v1.2h-1.2zM669.5 41.1h1.2v1.2h-1.2zM669.6 41.3h1.2v1.2h-1.2zM659.1 41.3h1.2v1.2h-1.2z"/>
<path fill="#00BFC4" fill-opacity="0.85" d="M666.5 44.4h1.2v1.2h-1.2zM670.0 44.9h1.2v1.2h-1.2zM670.8 43.9h1.2v1.2h-1.2zM664.8 46.9h1.2v1.2h-1.2zM667.6 51.8h1.2v1.2h-1.2zM656.9 53.7h1.2v1.2h-1.2zM658.7 95.0h1.2v1.2h-1.2zM666.3 158.2h1.2v1.2h-1.2z"/>
<circle cx="448.10" cy="128.00" r="1.6" fill="#000"/>
<circle cx="520.30" cy="45.50" r="1.6" fill="#000"/>
<circle cx="592.50" cy="44.20" r="1.6" fill="#000"/>
<circle cx="664.60" cy="43.00" r="1.6" fill="#000"/>
<path d="M405.00,33.30 L405.00,198.10 L707.80,198.10" fill="none" stroke="#333333" stroke-width="1.3"/>
</svg>
</body></html>
